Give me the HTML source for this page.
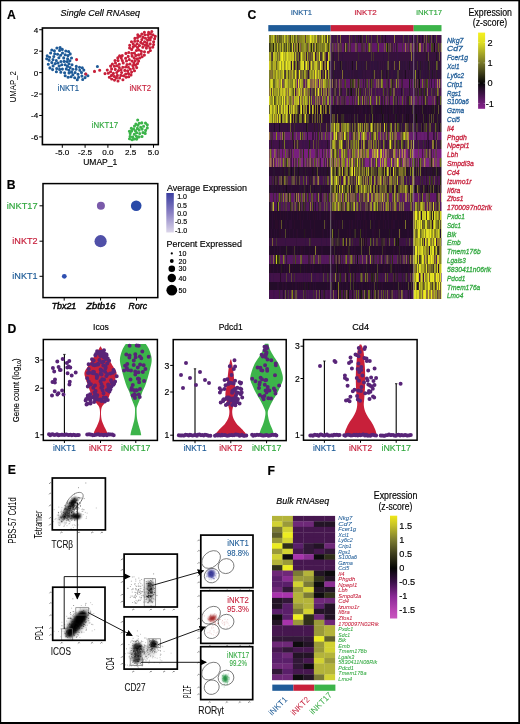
<!DOCTYPE html>
<html><head><meta charset="utf-8"><style>
html,body{margin:0;padding:0;background:#fff;width:520px;height:724px;overflow:hidden}
svg{display:block;will-change:transform}
text{font-family:"Liberation Sans", sans-serif}
</style></head><body>
<svg width="520" height="724" viewBox="0 0 520 724">
<rect x="0" y="0" width="520" height="724" fill="#000"/>
<rect x="1.2" y="1.3" width="517.1" height="720.7" fill="#fff"/>
<text x="7.00" y="18.80" font-size="12.2" text-anchor="start" fill="#000" font-weight="bold" stroke="#000" stroke-width="0.16">A</text>
<text x="60.60" y="15.80" font-size="9.2" text-anchor="start" fill="#000" font-style="italic" textLength="79.40" lengthAdjust="spacingAndGlyphs" stroke="#000" stroke-width="0.16">Single Cell RNAseq</text>
<rect x="42.4" y="28" width="115.9" height="116.6" fill="none" stroke="#000" stroke-width="1.6"/>
<line x1="39.2" y1="29.72" x2="42.4" y2="29.72" stroke="#000" stroke-width="1"/>
<text x="38.20" y="32.62" font-size="8.1" text-anchor="end" fill="#000" stroke="#000" stroke-width="0.16">4</text>
<line x1="39.2" y1="51.16" x2="42.4" y2="51.16" stroke="#000" stroke-width="1"/>
<text x="38.20" y="54.06" font-size="8.1" text-anchor="end" fill="#000" stroke="#000" stroke-width="0.16">2</text>
<line x1="39.2" y1="72.60" x2="42.4" y2="72.60" stroke="#000" stroke-width="1"/>
<text x="38.20" y="75.50" font-size="8.1" text-anchor="end" fill="#000" stroke="#000" stroke-width="0.16">0</text>
<line x1="39.2" y1="94.04" x2="42.4" y2="94.04" stroke="#000" stroke-width="1"/>
<text x="38.20" y="96.94" font-size="8.1" text-anchor="end" fill="#000" stroke="#000" stroke-width="0.16">-2</text>
<line x1="39.2" y1="115.48" x2="42.4" y2="115.48" stroke="#000" stroke-width="1"/>
<text x="38.20" y="118.38" font-size="8.1" text-anchor="end" fill="#000" stroke="#000" stroke-width="0.16">-4</text>
<line x1="39.2" y1="136.92" x2="42.4" y2="136.92" stroke="#000" stroke-width="1"/>
<text x="38.20" y="139.82" font-size="8.1" text-anchor="end" fill="#000" stroke="#000" stroke-width="0.16">-6</text>
<line x1="62.30" y1="144.6" x2="62.30" y2="147.8" stroke="#000" stroke-width="1"/>
<text x="62.30" y="155.40" font-size="8.1" text-anchor="middle" fill="#000" stroke="#000" stroke-width="0.16">-5.0</text>
<line x1="85.10" y1="144.6" x2="85.10" y2="147.8" stroke="#000" stroke-width="1"/>
<text x="85.10" y="155.40" font-size="8.1" text-anchor="middle" fill="#000" stroke="#000" stroke-width="0.16">-2.5</text>
<line x1="107.90" y1="144.6" x2="107.90" y2="147.8" stroke="#000" stroke-width="1"/>
<text x="107.90" y="155.40" font-size="8.1" text-anchor="middle" fill="#000" stroke="#000" stroke-width="0.16">0.0</text>
<line x1="130.70" y1="144.6" x2="130.70" y2="147.8" stroke="#000" stroke-width="1"/>
<text x="130.70" y="155.40" font-size="8.1" text-anchor="middle" fill="#000" stroke="#000" stroke-width="0.16">2.5</text>
<line x1="153.50" y1="144.6" x2="153.50" y2="147.8" stroke="#000" stroke-width="1"/>
<text x="153.50" y="155.40" font-size="8.1" text-anchor="middle" fill="#000" stroke="#000" stroke-width="0.16">5.0</text>
<text x="83.20" y="165.00" font-size="9.0" text-anchor="start" fill="#000" textLength="34.10" lengthAdjust="spacingAndGlyphs" stroke="#000" stroke-width="0.16">UMAP_1</text>
<text x="0" y="0" font-size="9" transform="translate(16.4,102.3) rotate(-90)" textLength="31" lengthAdjust="spacingAndGlyphs" fill="#000">UMAP_2</text>
<text x="57.70" y="90.80" font-size="8.6" text-anchor="start" fill="#1c5a96" textLength="21.30" lengthAdjust="spacingAndGlyphs" stroke="#1c5a96" stroke-width="0.16">iNKT1</text>
<text x="129.60" y="90.80" font-size="8.6" text-anchor="start" fill="#c61e3a" textLength="21.40" lengthAdjust="spacingAndGlyphs" stroke="#c61e3a" stroke-width="0.16">iNKT2</text>
<text x="91.80" y="128.10" font-size="8.6" text-anchor="start" fill="#30a83e" textLength="26.20" lengthAdjust="spacingAndGlyphs" stroke="#30a83e" stroke-width="0.16">iNKT17</text>
<path d="M59.6 50.4h0M48.3 64.3h0M49.1 60.3h0M50.6 53.0h0M53.1 65.9h0M61.8 64.7h0M59.1 66.1h0M51.8 62.6h0M75.1 72.5h0M76.3 66.4h0M66.3 68.9h0M62.4 69.1h0M65.8 51.0h0M65.2 64.8h0M81.9 76.1h0M63.7 57.9h0M72.8 69.3h0M54.4 50.8h0M49.6 57.3h0M83.8 70.1h0M69.0 73.0h0M55.2 63.6h0M57.6 54.3h0M74.7 77.8h0M85.7 74.0h0M60.9 61.5h0M68.9 63.8h0M70.2 53.9h0M53.8 56.5h0M58.0 63.0h0M58.9 57.8h0M78.0 74.2h0M70.1 67.6h0M79.5 67.2h0M56.4 71.8h0M76.1 69.3h0M65.2 54.7h0M71.5 58.0h0M56.7 68.6h0M62.5 53.0h0M81.5 72.6h0M78.6 77.3h0M56.3 60.5h0M56.9 48.0h0M72.9 74.7h0M62.3 49.4h0M72.0 64.8h0M60.8 72.2h0M71.1 76.8h0M68.1 77.2h0M69.9 60.7h0M64.6 72.8h0M49.9 67.9h0M67.6 58.7h0M79.8 70.2h0M64.1 61.4h0M47.2 55.8h0M82.7 79.5h0M52.6 69.6h0M85.1 77.6h0M53.0 59.6h0M60.6 55.2h0M65.2 75.8h0M67.0 61.5h0M59.6 69.4h0M68.0 55.6h0M69.0 70.2h0M71.6 72.1h0M54.7 53.7h0M46.7 58.8h0M68.6 51.5h0M51.8 50.0h0M77.3 79.8h0M60.1 47.6h0M87.9 75.8h0M67.5 66.3h0M82.3 67.7h0M97.4 66.5h0" stroke="#1f5b98" stroke-width="3.1" stroke-linecap="round" fill="none"/>
<path d="M133.1 47.1h0M134.9 38.4h0M149.9 47.9h0M122.9 79.7h0M122.3 60.5h0M140.7 42.4h0M134.2 58.0h0M119.3 67.5h0M124.8 70.4h0M133.2 44.0h0M144.4 32.2h0M137.6 37.5h0M121.6 72.5h0M137.1 58.7h0M111.5 75.4h0M148.3 52.2h0M137.7 40.8h0M129.9 64.0h0M137.5 47.6h0M139.0 50.0h0M105.0 73.6h0M145.5 38.2h0M147.9 34.8h0M148.6 32.2h0M111.6 68.9h0M118.5 70.6h0M118.1 60.6h0M141.4 51.4h0M131.8 53.4h0M141.8 34.1h0M108.3 73.2h0M131.7 49.5h0M115.3 69.4h0M142.8 43.9h0M132.0 61.0h0M150.2 43.9h0M133.3 68.3h0M115.5 63.0h0M127.0 64.5h0M125.6 58.3h0M144.5 51.8h0M128.2 56.4h0M139.5 45.6h0M141.8 39.6h0M125.7 74.1h0M137.5 63.6h0M114.5 80.1h0M116.5 77.9h0M122.3 55.6h0M114.3 66.3h0M146.4 48.1h0M126.1 77.2h0M142.1 56.7h0M117.4 75.4h0M138.5 54.9h0M134.4 53.1h0M122.8 67.3h0M147.6 40.3h0M144.9 34.8h0M128.4 67.3h0M110.6 71.8h0M120.8 75.4h0M125.7 67.0h0M128.5 73.6h0M150.2 39.9h0M151.3 37.3h0M144.4 55.1h0M146.9 43.1h0M133.9 63.1h0M130.3 69.2h0M137.8 34.7h0M123.2 62.9h0M142.8 47.3h0M125.9 53.4h0M117.8 57.9h0M128.8 52.5h0M135.2 60.7h0M129.3 59.6h0M153.6 41.7h0M127.7 70.9h0M112.4 64.0h0M136.4 50.5h0M132.1 56.1h0M119.3 64.2h0M154.6 38.8h0M129.7 45.2h0M109.3 77.2h0M116.7 72.5h0M153.0 34.7h0M134.5 70.7h0M132.8 65.6h0M152.8 47.1h0M119.6 78.0h0M126.5 61.0h0M137.1 43.7h0M113.4 73.4h0M111.7 79.0h0M114.3 76.4h0M118.0 81.0h0M136.7 67.6h0M144.6 41.8h0M147.9 45.7h0M107.3 70.1h0M134.7 41.3h0M131.6 72.0h0M148.6 37.6h0M123.5 75.8h0M138.6 61.1h0M131.0 74.9h0M121.3 58.1h0M141.1 54.0h0M155.3 36.3h0M117.0 65.7h0M140.0 36.2h0M143.0 37.2h0M121.1 69.8h0M129.6 48.0h0M115.0 60.5h0M151.8 31.5h0M150.5 34.0h0M153.6 44.5h0M150.4 50.5h0M135.5 65.2h0M139.8 58.0h0M131.5 41.7h0M145.2 45.2h0M119.6 55.9h0M135.3 45.7h0M135.8 55.4h0M110.6 66.1h0M128.7 76.7h0" stroke="#c8203a" stroke-width="3.1" stroke-linecap="round" fill="none"/>
<path d="M130.1 136.4h0M133.6 129.0h0M139.1 130.1h0M139.7 133.5h0M143.6 126.3h0M134.3 134.3h0M141.8 122.9h0M142.1 129.1h0M136.4 136.2h0M137.9 125.2h0M134.5 126.1h0M135.5 130.9h0M130.2 133.6h0M140.7 127.2h0M137.4 128.4h0M142.0 136.5h0M145.6 130.4h0M143.0 132.6h0M132.7 137.0h0M145.5 123.1h0M136.7 139.1h0M138.9 136.9h0M132.1 139.7h0M147.3 127.9h0M136.7 132.8h0M131.7 131.1h0M147.3 124.7h0M134.3 139.0h0M145.2 133.4h0M131.3 128.2h0M139.2 123.2h0M135.9 124.1h0M129.5 138.7h0M129.4 131.3h0M137.7 120.0h0" stroke="#3cb44a" stroke-width="3.1" stroke-linecap="round" fill="none"/>
<path d="M76.6 59.6h0M85.8 74.0h0M94.5 71.4h0M99.7 70.2h0" stroke="#c8203a" stroke-width="3.1" stroke-linecap="round" fill="none"/>
<text x="6.80" y="189.00" font-size="12.2" text-anchor="start" fill="#000" font-weight="bold" stroke="#000" stroke-width="0.16">B</text>
<rect x="43" y="183.6" width="114.8" height="114" fill="none" stroke="#000" stroke-width="1.5"/>
<line x1="39.5" y1="205.8" x2="43" y2="205.8" stroke="#000" stroke-width="1"/>
<text x="37.60" y="208.90" font-size="8.8" text-anchor="end" fill="#30a83e" textLength="30.80" lengthAdjust="spacingAndGlyphs" stroke="#30a83e" stroke-width="0.16">iNKT17</text>
<line x1="39.5" y1="241.2" x2="43" y2="241.2" stroke="#000" stroke-width="1"/>
<text x="37.60" y="244.30" font-size="8.8" text-anchor="end" fill="#c61e3a" textLength="25.30" lengthAdjust="spacingAndGlyphs" stroke="#c61e3a" stroke-width="0.16">iNKT2</text>
<line x1="39.5" y1="276.3" x2="43" y2="276.3" stroke="#000" stroke-width="1"/>
<text x="37.60" y="279.40" font-size="8.8" text-anchor="end" fill="#1c5a96" textLength="25.30" lengthAdjust="spacingAndGlyphs" stroke="#1c5a96" stroke-width="0.16">iNKT1</text>
<line x1="64.2" y1="297.6" x2="64.2" y2="300.6" stroke="#000" stroke-width="1"/>
<text x="51.70" y="309.30" font-size="9.2" text-anchor="start" fill="#000" font-style="italic" textLength="24.60" lengthAdjust="spacingAndGlyphs" stroke="#000" stroke-width="0.4">Tbx21</text>
<line x1="100.6" y1="297.6" x2="100.6" y2="300.6" stroke="#000" stroke-width="1"/>
<text x="86.20" y="309.30" font-size="9.2" text-anchor="start" fill="#000" font-style="italic" textLength="29.20" lengthAdjust="spacingAndGlyphs" stroke="#000" stroke-width="0.4">Zbtb16</text>
<line x1="136.5" y1="297.6" x2="136.5" y2="300.6" stroke="#000" stroke-width="1"/>
<text x="128.60" y="309.30" font-size="9.2" text-anchor="start" fill="#000" font-style="italic" textLength="18.40" lengthAdjust="spacingAndGlyphs" stroke="#000" stroke-width="0.4">Rorc</text>
<circle cx="64.3" cy="276.3" r="2.4" fill="#2f4fb0"/>
<circle cx="100.6" cy="241.2" r="6.1" fill="#5050a8"/>
<circle cx="100.9" cy="205.8" r="4.0" fill="#7a5aaa"/>
<circle cx="136.2" cy="205.8" r="5.3" fill="#2a4aa8"/>
<text x="167.00" y="190.60" font-size="9.0" text-anchor="start" fill="#000" textLength="80.00" lengthAdjust="spacingAndGlyphs" stroke="#000" stroke-width="0.16">Average Expression</text>
<defs><linearGradient id="gB" x1="0" y1="0" x2="0" y2="1"><stop offset="0" stop-color="#3a3ea0"/><stop offset="0.5" stop-color="#8a80c4"/><stop offset="1" stop-color="#dcd6ea"/></linearGradient></defs>
<rect x="166.3" y="193" width="7.5" height="39.5" fill="url(#gB)"/>
<text x="177.20" y="199.30" font-size="7.0" text-anchor="start" fill="#000" stroke="#000" stroke-width="0.16">1.0</text>
<text x="177.20" y="207.50" font-size="7.0" text-anchor="start" fill="#000" stroke="#000" stroke-width="0.16">0.5</text>
<text x="177.20" y="215.70" font-size="7.0" text-anchor="start" fill="#000" stroke="#000" stroke-width="0.16">0.0</text>
<text x="175.00" y="224.10" font-size="7.0" text-anchor="start" fill="#000" stroke="#000" stroke-width="0.16">-0.5</text>
<text x="175.00" y="232.50" font-size="7.0" text-anchor="start" fill="#000" stroke="#000" stroke-width="0.16">-1.0</text>
<text x="166.60" y="246.90" font-size="9.0" text-anchor="start" fill="#000" textLength="75.40" lengthAdjust="spacingAndGlyphs" stroke="#000" stroke-width="0.16">Percent Expressed</text>
<circle cx="171.8" cy="253.4" r="1.1" fill="#000"/>
<text x="178.60" y="255.90" font-size="7.0" text-anchor="start" fill="#000" stroke="#000" stroke-width="0.16">10</text>
<circle cx="171.8" cy="261.0" r="1.9" fill="#000"/>
<text x="178.60" y="263.50" font-size="7.0" text-anchor="start" fill="#000" stroke="#000" stroke-width="0.16">20</text>
<circle cx="171.8" cy="268.8" r="3.3" fill="#000"/>
<text x="178.60" y="271.30" font-size="7.0" text-anchor="start" fill="#000" stroke="#000" stroke-width="0.16">30</text>
<circle cx="171.8" cy="278.0" r="4.2" fill="#000"/>
<text x="178.60" y="280.50" font-size="7.0" text-anchor="start" fill="#000" stroke="#000" stroke-width="0.16">40</text>
<circle cx="171.8" cy="290.2" r="5.4" fill="#000"/>
<text x="178.60" y="292.70" font-size="7.0" text-anchor="start" fill="#000" stroke="#000" stroke-width="0.16">50</text>
<text x="247.60" y="18.70" font-size="12.2" text-anchor="start" fill="#000" font-weight="bold" stroke="#000" stroke-width="0.16">C</text>
<rect x="268.3" y="25.1" width="62.40" height="6.2" fill="#1f5b98"/>
<rect x="330.7" y="25.1" width="83.00" height="6.2" fill="#c8203a"/>
<rect x="413.7" y="25.1" width="27.80" height="6.2" fill="#3cb44a"/>
<text x="291.00" y="14.90" font-size="8.0" text-anchor="start" fill="#1c5a96" textLength="21.10" lengthAdjust="spacingAndGlyphs" stroke="#1c5a96" stroke-width="0.16">iNKT1</text>
<text x="354.60" y="14.90" font-size="8.0" text-anchor="start" fill="#c61e3a" textLength="22.10" lengthAdjust="spacingAndGlyphs" stroke="#c61e3a" stroke-width="0.16">iNKT2</text>
<text x="416.20" y="14.90" font-size="8.0" text-anchor="start" fill="#30a83e" textLength="25.90" lengthAdjust="spacingAndGlyphs" stroke="#30a83e" stroke-width="0.16">iNKT17</text>
<g transform="translate(269,34.6) scale(1,8.8233)" shape-rendering="crispEdges"><path fill="#7e7e24" d="M0 0h1v1h-1zM9 0h1v1h-1zM10 1h1v1h-1zM3 3h1v1h-1zM23 6h1v1h-1zM31 9h1v1h-1zM101 10h1v1h-1zM84 12h1v1h-1zM18 14h1v1h-1zM62 14h1v1h-1zM151 14h1v1h-1zM87 15h1v1h-1zM68 16h1v1h-1zM97 17h1v1h-1zM95 18h1v1h-1zM153 18h1v1h-1zM63 19h1v1h-1zM167 21h1v1h-1zM14 25h1v1h-1zM155 28h1v1h-1z"/><path fill="#6c6c24" d="M1 0h1v1h-1zM6 1h1v1h-1zM19 1h1v1h-1zM58 1h1v1h-1zM8 2h1v1h-1zM40 6h1v1h-1zM21 7h1v1h-1zM124 7h1v1h-1zM22 9h1v1h-1zM77 10h1v1h-1zM83 10h1v1h-1zM121 10h1v1h-1zM56 11h1v1h-1zM82 12h1v1h-1zM84 13h1v1h-1zM75 17h1v1h-1zM93 17h1v1h-1zM158 21h1v1h-1zM125 23h1v1h-1z"/><path fill="#a8a824" d="M2 0h1v1h-1zM40 0h1v1h-1zM43 0h1v1h-1zM40 1h1v1h-1zM43 1h1v1h-1zM9 3h1v1h-1zM31 3h1v1h-1zM36 3h1v1h-1zM4 4h1v1h-1zM41 4h1v1h-1zM9 5h1v1h-1zM55 5h1v1h-1zM13 6h1v1h-1zM16 6h1v1h-1zM4 8h1v1h-1zM14 9h1v1h-1zM76 11h1v1h-1zM121 11h1v1h-1zM65 12h1v1h-1zM89 12h1v1h-1zM66 13h1v1h-1zM75 13h1v1h-1zM115 14h1v1h-1zM87 16h1v1h-1zM66 19h1v1h-1zM146 19h1v1h-1zM153 19h1v1h-1zM151 20h1v1h-1zM151 21h1v1h-1zM154 22h1v1h-1zM168 22h1v1h-1zM172 22h1v1h-1zM155 24h1v1h-1zM162 24h1v1h-1zM153 27h1v1h-1z"/><path fill="#96962a" d="M3 0h1v1h-1zM16 0h1v1h-1zM52 0h1v1h-1zM43 4h1v1h-1zM6 5h1v1h-1zM112 5h1v1h-1zM6 6h1v1h-1zM58 7h1v1h-1zM13 9h1v1h-1zM79 10h1v1h-1zM95 10h1v1h-1zM122 10h1v1h-1zM89 11h1v1h-1zM72 13h1v1h-1zM83 13h1v1h-1zM73 14h1v1h-1zM90 15h1v1h-1zM63 16h1v1h-1zM65 16h1v1h-1zM76 16h1v1h-1zM125 17h1v1h-1zM76 18h2v1h-2zM108 18h1v1h-1zM102 19h1v1h-1zM147 19h1v1h-1zM171 23h1v1h-1zM157 27h1v1h-1z"/><path fill="#cccc24" d="M4 0h1v1h-1zM15 0h1v1h-1zM47 0h1v1h-1zM53 0h1v1h-1zM24 2h1v1h-1zM45 2h1v1h-1zM54 2h1v1h-1zM19 3h1v1h-1zM3 5h1v1h-1zM16 5h1v1h-1zM24 5h1v1h-1zM39 5h1v1h-1zM35 6h1v1h-1zM2 8h1v1h-1zM12 8h1v1h-1zM4 9h1v1h-1zM8 9h1v1h-1zM112 13h1v1h-1zM88 14h1v1h-1zM118 15h1v1h-1zM153 20h1v1h-1zM163 20h1v1h-1zM171 20h1v1h-1zM148 21h1v1h-1zM147 25h1v1h-1zM156 28h1v1h-1z"/><path fill="#96961e" d="M5 0h1v1h-1zM34 0h1v1h-1zM19 7h1v1h-1zM11 9h1v1h-1zM68 10h1v1h-1zM141 13h1v1h-1zM117 19h1v1h-1zM167 20h1v1h-1z"/><path fill="#54541e" d="M6 0h1v1h-1zM10 0h1v1h-1zM25 0h1v1h-1zM97 0h1v1h-1zM15 1h1v1h-1zM19 4h1v1h-1zM98 5h1v1h-1zM158 5h1v1h-1zM114 6h1v1h-1zM171 7h1v1h-1zM27 9h1v1h-1zM157 10h1v1h-1zM133 11h1v1h-1zM122 12h1v1h-1zM67 13h1v1h-1zM87 14h1v1h-1zM91 14h1v1h-1zM134 15h1v1h-1zM34 16h1v1h-1zM71 17h1v1h-1zM121 17h1v1h-1zM130 17h1v1h-1zM34 18h1v1h-1zM42 18h1v1h-1zM60 18h1v1h-1zM80 19h1v1h-1zM107 19h1v1h-1zM148 19h1v1h-1zM169 21h1v1h-1zM10 25h1v1h-1zM148 25h1v1h-1zM158 25h1v1h-1z"/><path fill="#909024" d="M7 0h1v1h-1zM46 0h1v1h-1zM60 2h1v1h-1zM3 7h1v1h-1zM17 7h1v1h-1zM32 7h1v1h-1zM3 8h1v1h-1zM65 13h1v1h-1zM66 17h1v1h-1zM105 17h1v1h-1zM65 19h1v1h-1zM78 19h1v1h-1zM156 22h1v1h-1zM151 23h1v1h-1zM161 23h1v1h-1zM154 24h1v1h-1z"/><path fill="#6c5436" d="M8 0h1v1h-1zM44 12h1v1h-1zM101 12h1v1h-1zM106 27h1v1h-1zM143 27h1v1h-1z"/><path fill="#66661e" d="M11 0h1v1h-1zM56 0h1v1h-1zM109 1h1v1h-1zM128 10h1v1h-1zM33 11h1v1h-1zM106 12h1v1h-1zM143 14h1v1h-1zM88 15h1v1h-1zM101 16h1v1h-1zM119 18h1v1h-1zM100 29h1v1h-1z"/><path fill="#666624" d="M12 0h1v1h-1zM5 5h1v1h-1zM6 7h1v1h-1zM0 8h1v1h-1zM126 12h1v1h-1zM16 13h1v1h-1zM76 13h1v1h-1zM64 19h1v1h-1zM141 19h1v1h-1zM151 22h1v1h-1z"/><path fill="#9c9c2a" d="M13 0h1v1h-1zM25 1h1v1h-1zM35 1h1v1h-1zM9 2h1v1h-1zM12 3h1v1h-1zM56 5h1v1h-1zM22 6h1v1h-1zM59 7h1v1h-1zM18 9h1v1h-1zM76 10h1v1h-1zM119 15h1v1h-1zM143 17h1v1h-1zM172 18h1v1h-1zM79 19h1v1h-1zM163 22h1v1h-1zM145 25h1v1h-1z"/><path fill="#78782a" d="M14 0h1v1h-1zM17 0h1v1h-1zM26 0h1v1h-1zM51 1h1v1h-1zM21 8h1v1h-1zM104 19h1v1h-1z"/><path fill="#aeae24" d="M18 0h1v1h-1zM46 1h1v1h-1zM1 2h1v1h-1zM16 3h1v1h-1zM10 4h1v1h-1zM13 4h1v1h-1zM17 4h2v1h-2zM51 4h1v1h-1zM29 6h1v1h-1zM6 9h1v1h-1zM69 10h1v1h-1zM89 10h1v1h-1zM106 11h1v1h-1zM111 14h1v1h-1zM125 18h1v1h-1zM166 21h1v1h-1zM172 21h1v1h-1zM153 22h1v1h-1zM167 22h1v1h-1zM156 24h1v1h-1zM154 26h1v1h-1zM165 26h1v1h-1zM164 28h1v1h-1zM165 29h1v1h-1z"/><path fill="#84841e" d="M19 0h1v1h-1zM74 10h1v1h-1zM84 11h1v1h-1zM154 19h1v1h-1zM171 25h1v1h-1z"/><path fill="#786636" d="M20 0h1v1h-1zM99 12h1v1h-1z"/><path fill="#424218" d="M21 0h1v1h-1zM49 11h1v1h-1zM145 14h1v1h-1zM77 17h1v1h-1zM61 18h1v1h-1zM142 18h1v1h-1z"/><path fill="#b4b424" d="M22 0h1v1h-1zM24 0h1v1h-1zM55 0h1v1h-1zM14 2h1v1h-1zM4 3h1v1h-1zM21 3h1v1h-1zM45 3h1v1h-1zM23 4h1v1h-1zM47 4h1v1h-1zM18 5h1v1h-1zM18 6h1v1h-1zM32 6h1v1h-1zM27 7h2v1h-2zM34 7h1v1h-1zM13 8h1v1h-1zM64 12h1v1h-1zM144 12h1v1h-1zM62 13h1v1h-1zM73 13h1v1h-1zM89 13h1v1h-1zM105 13h1v1h-1zM111 13h1v1h-1zM107 14h1v1h-1zM99 15h1v1h-1zM90 16h1v1h-1zM128 16h1v1h-1zM92 17h1v1h-1zM136 17h1v1h-1zM99 18h1v1h-1zM105 19h1v1h-1zM170 21h1v1h-1zM150 24h1v1h-1zM161 25h1v1h-1zM145 27h1v1h-1zM158 27h1v1h-1zM152 28h1v1h-1z"/><path fill="#787824" d="M23 0h1v1h-1zM30 0h1v1h-1zM27 1h1v1h-1zM53 2h1v1h-1zM2 3h1v1h-1zM0 5h1v1h-1zM26 5h1v1h-1zM153 5h1v1h-1zM4 6h1v1h-1zM12 7h1v1h-1zM55 7h1v1h-1zM156 7h1v1h-1zM10 8h1v1h-1zM30 9h1v1h-1zM32 9h1v1h-1zM64 10h1v1h-1zM64 11h1v1h-1zM73 11h1v1h-1zM108 11h1v1h-1zM15 12h1v1h-1zM75 14h1v1h-1zM109 15h3v1h-3zM15 16h1v1h-1zM134 16h1v1h-1zM68 17h1v1h-1zM68 18h1v1h-1zM70 19h1v1h-1zM118 19h1v1h-1zM63 22h1v1h-1zM149 26h1v1h-1zM96 27h1v1h-1z"/><path fill="#a2a22a" d="M27 0h1v1h-1zM11 1h1v1h-1zM32 5h1v1h-1zM38 5h1v1h-1zM52 6h1v1h-1zM89 7h1v1h-1zM67 10h1v1h-1zM90 11h1v1h-1zM70 15h1v1h-1zM108 19h1v1h-1z"/><path fill="#606024" d="M28 0h1v1h-1zM49 0h1v1h-1zM7 3h1v1h-1zM167 3h1v1h-1zM4 5h1v1h-1zM54 7h1v1h-1zM103 9h1v1h-1zM117 10h1v1h-1zM77 13h1v1h-1zM65 15h1v1h-1zM69 15h1v1h-1zM43 19h1v1h-1zM82 19h1v1h-1zM155 21h1v1h-1zM147 22h1v1h-1zM101 23h1v1h-1zM32 25h1v1h-1zM162 26h1v1h-1z"/><path fill="#786036" d="M29 0h1v1h-1zM48 0h1v1h-1zM61 0h1v1h-1zM3 23h1v1h-1zM160 27h1v1h-1z"/><path fill="#848424" d="M31 0h1v1h-1zM33 1h1v1h-1zM31 2h1v1h-1zM27 3h1v1h-1zM6 4h1v1h-1zM60 5h1v1h-1zM9 7h1v1h-1zM14 7h1v1h-1zM35 7h1v1h-1zM46 7h1v1h-1zM62 10h1v1h-1zM85 12h1v1h-1zM132 12h1v1h-1zM1 13h1v1h-1zM95 13h1v1h-1zM78 17h1v1h-1zM14 18h1v1h-1zM161 20h1v1h-1z"/><path fill="#8a841e" d="M32 0h1v1h-1z"/><path fill="#90902a" d="M33 0h1v1h-1zM9 4h1v1h-1zM50 4h1v1h-1zM127 5h1v1h-1zM8 6h1v1h-1zM2 7h1v1h-1zM93 7h1v1h-1zM107 7h1v1h-1zM103 10h1v1h-1zM31 11h1v1h-1zM123 11h1v1h-1zM120 12h1v1h-1zM67 14h1v1h-1zM102 18h1v1h-1zM106 18h1v1h-1zM128 18h1v1h-1zM141 18h1v1h-1zM170 19h1v1h-1zM152 22h1v1h-1z"/><path fill="#9c9c24" d="M35 0h1v1h-1zM0 2h1v1h-1zM8 3h1v1h-1zM39 3h1v1h-1zM20 4h1v1h-1zM1 7h1v1h-1zM7 7h1v1h-1zM6 8h1v1h-1zM95 11h1v1h-1zM134 11h1v1h-1zM139 12h1v1h-1zM125 13h1v1h-1zM129 14h1v1h-1zM97 15h1v1h-1zM66 16h1v1h-1zM105 16h1v1h-1zM170 22h1v1h-1zM159 24h1v1h-1zM101 25h1v1h-1zM166 26h1v1h-1zM167 29h1v1h-1z"/><path fill="#5a4236" d="M36 0h1v1h-1zM2 6h1v1h-1zM162 6h1v1h-1zM69 12h1v1h-1zM91 27h1v1h-1z"/><path fill="#a29c1e" d="M37 0h1v1h-1zM5 6h1v1h-1zM154 23h1v1h-1z"/><path fill="#909018" d="M38 0h1v1h-1zM99 13h1v1h-1z"/><path fill="#969624" d="M39 0h1v1h-1zM45 0h1v1h-1zM30 1h1v1h-1zM36 1h1v1h-1zM57 1h1v1h-1zM36 4h1v1h-1zM11 5h1v1h-1zM33 5h1v1h-1zM7 6h1v1h-1zM22 7h1v1h-1zM42 7h1v1h-1zM101 7h1v1h-1zM34 8h1v1h-1zM63 12h1v1h-1zM71 12h1v1h-1zM169 20h1v1h-1zM152 25h1v1h-1z"/><path fill="#eaea1e" d="M41 0h1v1h-1zM11 3h1v1h-1zM17 3h1v1h-1zM37 3h1v1h-1zM46 4h1v1h-1zM147 20h1v1h-1zM158 20h1v1h-1zM161 22h1v1h-1zM147 24h1v1h-1zM153 25h1v1h-1zM159 28h1v1h-1zM162 29h1v1h-1z"/><path fill="#c6c624" d="M42 0h1v1h-1zM44 0h1v1h-1zM11 2h1v1h-1zM15 2h1v1h-1zM23 2h1v1h-1zM49 4h1v1h-1zM25 5h1v1h-1zM50 5h1v1h-1zM54 5h1v1h-1zM1 6h1v1h-1zM25 6h1v1h-1zM17 8h1v1h-1zM43 8h1v1h-1zM135 11h1v1h-1zM83 14h1v1h-1zM75 16h1v1h-1zM70 17h1v1h-1zM154 20h1v1h-1zM160 22h1v1h-1zM7 25h1v1h-1z"/><path fill="#8a7236" d="M50 0h1v1h-1zM0 6h1v1h-1zM158 6h1v1h-1zM164 12h1v1h-1zM144 29h1v1h-1zM150 29h1v1h-1zM169 29h1v1h-1z"/><path fill="#6c6c1e" d="M51 0h1v1h-1zM54 0h1v1h-1zM60 0h1v1h-1zM172 1h1v1h-1zM73 12h1v1h-1zM10 18h1v1h-1zM66 18h1v1h-1zM156 26h1v1h-1z"/><path fill="#4e3c36" d="M57 0h1v1h-1zM62 12h1v1h-1zM136 12h1v1h-1zM127 16h1v1h-1zM40 23h1v1h-1zM81 23h1v1h-1z"/><path fill="#dede24" d="M58 0h1v1h-1zM18 2h1v1h-1zM32 2h1v1h-1zM26 4h1v1h-1zM4 7h1v1h-1zM15 8h1v1h-1zM32 8h1v1h-1zM67 11h1v1h-1zM62 16h1v1h-1zM67 16h1v1h-1zM89 16h1v1h-1zM73 17h1v1h-1zM165 20h1v1h-1zM150 22h1v1h-1zM155 22h1v1h-1zM157 22h1v1h-1zM159 22h1v1h-1zM152 23h1v1h-1zM159 23h1v1h-1zM163 24h1v1h-1zM172 26h1v1h-1zM161 27h1v1h-1zM146 28h1v1h-1zM168 28h1v1h-1z"/><path fill="#4e4e1e" d="M59 0h1v1h-1zM22 1h1v1h-1zM162 1h1v1h-1zM76 5h1v1h-1zM24 6h1v1h-1zM61 7h1v1h-1zM99 7h1v1h-1zM129 10h1v1h-1zM81 14h1v1h-1zM106 14h1v1h-1zM132 14h1v1h-1zM80 15h1v1h-1zM129 17h1v1h-1zM12 18h1v1h-1zM31 18h1v1h-1zM38 18h1v1h-1zM45 25h1v1h-1zM151 25h1v1h-1z"/><path fill="#3c1248" d="M62 0h2v1h-2zM66 0h1v1h-1zM70 0h1v1h-1zM72 0h1v1h-1zM74 0h1v1h-1zM78 0h1v1h-1zM84 0h2v1h-2zM87 0h1v1h-1zM90 0h1v1h-1zM94 0h1v1h-1zM96 0h1v1h-1zM101 0h1v1h-1zM103 0h2v1h-2zM112 0h1v1h-1zM118 0h1v1h-1zM120 0h1v1h-1zM124 0h1v1h-1zM126 0h1v1h-1zM132 0h1v1h-1zM136 0h1v1h-1zM138 0h1v1h-1zM141 0h1v1h-1zM145 0h2v1h-2zM151 0h1v1h-1zM161 0h1v1h-1zM165 0h2v1h-2zM4 12h1v1h-1zM9 12h1v1h-1zM12 12h1v1h-1zM16 12h4v1h-4zM21 12h1v1h-1zM33 12h2v1h-2zM36 12h3v1h-3zM41 12h1v1h-1zM43 12h1v1h-1zM52 12h2v1h-2zM56 12h1v1h-1zM59 12h1v1h-1zM74 12h1v1h-1zM80 12h1v1h-1zM91 12h1v1h-1zM108 12h1v1h-1zM113 12h1v1h-1zM116 12h1v1h-1zM119 12h1v1h-1zM124 12h1v1h-1zM135 12h1v1h-1zM145 12h2v1h-2zM148 12h1v1h-1zM150 12h1v1h-1zM153 12h1v1h-1zM155 12h1v1h-1zM158 12h1v1h-1zM160 12h1v1h-1zM168 12h1v1h-1zM135 23h1v1h-1zM142 23h1v1h-1zM1 27h1v1h-1zM4 27h1v1h-1zM15 27h1v1h-1zM18 27h2v1h-2zM21 27h1v1h-1zM23 27h1v1h-1zM27 27h1v1h-1zM34 27h1v1h-1zM36 27h1v1h-1zM38 27h1v1h-1zM41 27h1v1h-1zM44 27h3v1h-3zM50 27h4v1h-4zM57 27h1v1h-1zM62 27h1v1h-1zM69 27h1v1h-1zM72 27h1v1h-1zM79 27h1v1h-1zM89 27h2v1h-2zM95 27h1v1h-1zM99 27h1v1h-1zM105 27h1v1h-1zM107 27h1v1h-1zM109 27h1v1h-1zM111 27h2v1h-2zM114 27h2v1h-2zM119 27h1v1h-1zM132 27h1v1h-1zM135 27h1v1h-1zM140 27h1v1h-1zM150 27h1v1h-1zM154 27h1v1h-1z"/><path fill="#421248" d="M64 0h1v1h-1zM67 0h1v1h-1zM69 0h1v1h-1zM73 0h1v1h-1zM75 0h3v1h-3zM79 0h1v1h-1zM81 0h1v1h-1zM83 0h1v1h-1zM88 0h1v1h-1zM95 0h1v1h-1zM98 0h1v1h-1zM100 0h1v1h-1zM105 0h2v1h-2zM109 0h2v1h-2zM114 0h2v1h-2zM117 0h1v1h-1zM119 0h1v1h-1zM121 0h3v1h-3zM127 0h5v1h-5zM133 0h1v1h-1zM135 0h1v1h-1zM140 0h1v1h-1zM142 0h1v1h-1zM144 0h1v1h-1zM149 0h1v1h-1zM152 0h1v1h-1zM154 0h1v1h-1zM156 0h1v1h-1zM158 0h1v1h-1zM163 0h1v1h-1zM168 0h4v1h-4zM58 6h1v1h-1zM62 6h1v1h-1zM92 6h1v1h-1zM104 6h1v1h-1zM126 6h2v1h-2zM170 6h1v1h-1zM172 6h1v1h-1zM0 12h2v1h-2zM3 12h1v1h-1zM5 12h4v1h-4zM11 12h1v1h-1zM14 12h1v1h-1zM20 12h1v1h-1zM22 12h2v1h-2zM26 12h1v1h-1zM30 12h3v1h-3zM35 12h1v1h-1zM39 12h1v1h-1zM42 12h1v1h-1zM45 12h2v1h-2zM48 12h1v1h-1zM50 12h2v1h-2zM54 12h2v1h-2zM57 12h1v1h-1zM60 12h1v1h-1zM76 12h1v1h-1zM93 12h1v1h-1zM98 12h1v1h-1zM103 12h1v1h-1zM112 12h1v1h-1zM118 12h1v1h-1zM127 12h1v1h-1zM131 12h1v1h-1zM140 12h1v1h-1zM143 12h1v1h-1zM147 12h1v1h-1zM151 12h2v1h-2zM156 12h1v1h-1zM161 12h2v1h-2zM166 12h1v1h-1zM169 12h2v1h-2zM22 14h1v1h-1zM51 14h1v1h-1zM26 16h1v1h-1zM39 16h1v1h-1zM43 16h1v1h-1zM60 16h1v1h-1zM77 16h1v1h-1zM107 16h1v1h-1zM119 16h1v1h-1zM139 16h1v1h-1zM146 16h1v1h-1zM150 16h1v1h-1zM0 27h1v1h-1zM2 27h2v1h-2zM5 27h6v1h-6zM12 27h3v1h-3zM16 27h1v1h-1zM20 27h1v1h-1zM24 27h1v1h-1zM26 27h1v1h-1zM28 27h6v1h-6zM35 27h1v1h-1zM37 27h1v1h-1zM39 27h2v1h-2zM43 27h1v1h-1zM47 27h3v1h-3zM55 27h2v1h-2zM60 27h2v1h-2zM63 27h1v1h-1zM65 27h1v1h-1zM67 27h1v1h-1zM73 27h3v1h-3zM80 27h1v1h-1zM82 27h1v1h-1zM85 27h1v1h-1zM87 27h2v1h-2zM94 27h1v1h-1zM100 27h2v1h-2zM110 27h1v1h-1zM113 27h1v1h-1zM117 27h1v1h-1zM120 27h4v1h-4zM127 27h1v1h-1zM129 27h3v1h-3zM134 27h1v1h-1zM139 27h1v1h-1zM142 27h1v1h-1zM172 27h1v1h-1zM4 29h1v1h-1zM21 29h1v1h-1zM35 29h1v1h-1zM59 29h1v1h-1zM63 29h1v1h-1zM81 29h1v1h-1zM98 29h1v1h-1zM117 29h1v1h-1zM120 29h1v1h-1zM128 29h1v1h-1zM131 29h1v1h-1zM138 29h1v1h-1zM142 29h1v1h-1z"/><path fill="#3c2430" d="M65 0h1v1h-1zM107 0h1v1h-1zM160 0h1v1h-1zM71 6h1v1h-1zM84 6h1v1h-1zM146 6h1v1h-1zM151 6h1v1h-1zM96 12h1v1h-1zM110 12h1v1h-1zM171 12h1v1h-1zM3 16h1v1h-1zM70 16h1v1h-1zM84 16h1v1h-1zM153 16h1v1h-1zM41 23h1v1h-1zM137 23h1v1h-1zM141 23h1v1h-1zM97 27h1v1h-1zM136 27h1v1h-1zM10 29h1v1h-1zM36 29h1v1h-1zM54 29h1v1h-1zM108 29h1v1h-1z"/><path fill="#604836" d="M68 0h1v1h-1zM148 0h1v1h-1zM77 12h1v1h-1zM22 27h1v1h-1zM42 27h1v1h-1z"/><path fill="#846c36" d="M71 0h1v1h-1zM66 12h1v1h-1zM92 12h1v1h-1zM109 12h1v1h-1zM109 16h2v1h-2zM112 16h1v1h-1zM144 27h1v1h-1z"/><path fill="#6c543c" d="M80 0h1v1h-1zM96 6h1v1h-1zM102 6h1v1h-1zM169 6h1v1h-1zM167 12h1v1h-1zM16 16h1v1h-1zM24 16h1v1h-1zM59 16h1v1h-1zM82 16h1v1h-1zM125 16h1v1h-1zM47 29h1v1h-1zM50 29h1v1h-1zM106 29h1v1h-1zM109 29h1v1h-1zM133 29h1v1h-1zM171 29h1v1h-1z"/><path fill="#422a30" d="M82 0h1v1h-1zM166 6h1v1h-1zM27 12h1v1h-1zM134 12h1v1h-1zM7 16h1v1h-1zM151 16h1v1h-1zM163 16h1v1h-1zM83 23h1v1h-1zM25 27h1v1h-1zM126 27h1v1h-1z"/><path fill="#3c2a30" d="M86 0h1v1h-1zM154 12h1v1h-1zM64 23h1v1h-1zM69 23h1v1h-1z"/><path fill="#30182a" d="M89 0h1v1h-1zM92 0h1v1h-1zM113 0h1v1h-1zM152 6h1v1h-1zM2 12h1v1h-1zM157 12h1v1h-1zM8 16h1v1h-1zM29 16h1v1h-1zM68 27h1v1h-1zM77 27h1v1h-1zM138 27h1v1h-1zM55 29h1v1h-1z"/><path fill="#240c24" d="M91 0h1v1h-1zM95 23h1v1h-1z"/><path fill="#4e3636" d="M93 0h1v1h-1zM45 6h1v1h-1zM51 6h1v1h-1zM118 6h1v1h-1zM47 12h1v1h-1zM111 12h1v1h-1zM123 12h1v1h-1zM137 12h1v1h-1zM6 16h1v1h-1zM61 16h1v1h-1zM93 16h1v1h-1zM85 29h1v1h-1zM116 29h1v1h-1zM122 29h1v1h-1z"/><path fill="#483036" d="M99 0h1v1h-1zM44 6h1v1h-1zM61 6h1v1h-1zM94 6h1v1h-1zM98 6h1v1h-1zM106 6h1v1h-1zM122 6h1v1h-1zM17 16h1v1h-1zM22 16h1v1h-1zM54 16h1v1h-1zM81 16h1v1h-1zM88 16h1v1h-1zM130 16h1v1h-1zM140 16h1v1h-1zM89 19h1v1h-1zM19 29h1v1h-1zM93 29h1v1h-1zM130 29h1v1h-1z"/><path fill="#543c36" d="M102 0h1v1h-1zM134 0h1v1h-1zM47 6h1v1h-1zM134 6h1v1h-1zM78 12h1v1h-1zM141 12h1v1h-1zM27 16h1v1h-1zM64 16h1v1h-1zM117 16h1v1h-1zM145 16h1v1h-1zM17 27h1v1h-1zM93 27h1v1h-1z"/><path fill="#604e36" d="M108 0h1v1h-1zM25 2h1v1h-1zM143 10h1v1h-1zM120 23h1v1h-1z"/><path fill="#483030" d="M111 0h1v1h-1zM51 2h1v1h-1zM152 10h1v1h-1zM149 12h1v1h-1zM94 23h1v1h-1zM115 23h1v1h-1zM84 27h1v1h-1zM124 27h1v1h-1z"/><path fill="#240c2a" d="M116 0h1v1h-1zM153 0h1v1h-1zM30 8h1v1h-1zM33 8h1v1h-1zM38 8h1v1h-1zM42 8h1v1h-1zM45 8h1v1h-1zM47 8h1v1h-1zM50 8h1v1h-1zM53 8h1v1h-1zM55 8h1v1h-1zM58 8h2v1h-2zM61 8h1v1h-1zM63 8h3v1h-3zM67 8h3v1h-3zM71 8h14v1h-14zM86 8h2v1h-2zM89 8h1v1h-1zM94 8h2v1h-2zM98 8h2v1h-2zM101 8h1v1h-1zM106 8h6v1h-6zM113 8h2v1h-2zM116 8h1v1h-1zM118 8h2v1h-2zM122 8h1v1h-1zM125 8h1v1h-1zM128 8h2v1h-2zM131 8h2v1h-2zM135 8h1v1h-1zM137 8h4v1h-4zM142 8h1v1h-1zM144 8h1v1h-1zM146 8h2v1h-2zM149 8h1v1h-1zM152 8h1v1h-1zM154 8h4v1h-4zM159 8h1v1h-1zM162 8h1v1h-1zM164 8h1v1h-1zM166 8h1v1h-1zM168 8h1v1h-1zM170 8h2v1h-2zM12 9h1v1h-1zM41 9h1v1h-1zM70 9h1v1h-1zM82 9h1v1h-1zM90 9h1v1h-1zM102 9h1v1h-1zM105 9h1v1h-1zM107 9h1v1h-1zM130 9h1v1h-1zM138 9h1v1h-1zM144 9h1v1h-1zM155 9h1v1h-1zM161 9h1v1h-1zM5 10h1v1h-1zM24 12h1v1h-1zM159 12h1v1h-1zM38 17h1v1h-1zM45 17h1v1h-1zM0 20h3v1h-3zM4 20h1v1h-1zM6 20h1v1h-1zM8 20h3v1h-3zM12 20h2v1h-2zM15 20h1v1h-1zM17 20h1v1h-1zM19 20h3v1h-3zM23 20h1v1h-1zM25 20h3v1h-3zM29 20h1v1h-1zM32 20h2v1h-2zM35 20h3v1h-3zM39 20h1v1h-1zM41 20h3v1h-3zM45 20h1v1h-1zM47 20h1v1h-1zM49 20h1v1h-1zM52 20h3v1h-3zM56 20h1v1h-1zM58 20h2v1h-2zM66 20h6v1h-6zM73 20h13v1h-13zM91 20h1v1h-1zM93 20h1v1h-1zM97 20h3v1h-3zM102 20h1v1h-1zM105 20h1v1h-1zM107 20h4v1h-4zM112 20h2v1h-2zM116 20h2v1h-2zM120 20h3v1h-3zM124 20h2v1h-2zM128 20h4v1h-4zM133 20h2v1h-2zM136 20h1v1h-1zM138 20h1v1h-1zM140 20h1v1h-1zM152 20h1v1h-1zM0 21h3v1h-3zM4 21h2v1h-2zM9 21h1v1h-1zM13 21h3v1h-3zM18 21h2v1h-2zM23 21h2v1h-2zM26 21h5v1h-5zM32 21h1v1h-1zM34 21h7v1h-7zM42 21h3v1h-3zM46 21h9v1h-9zM58 21h3v1h-3zM62 21h3v1h-3zM66 21h1v1h-1zM68 21h1v1h-1zM72 21h1v1h-1zM74 21h1v1h-1zM76 21h4v1h-4zM81 21h1v1h-1zM84 21h2v1h-2zM87 21h1v1h-1zM89 21h2v1h-2zM92 21h2v1h-2zM95 21h1v1h-1zM98 21h3v1h-3zM102 21h2v1h-2zM106 21h3v1h-3zM111 21h3v1h-3zM115 21h1v1h-1zM117 21h2v1h-2zM120 21h2v1h-2zM126 21h3v1h-3zM130 21h4v1h-4zM135 21h1v1h-1zM137 21h2v1h-2zM140 21h2v1h-2zM0 22h2v1h-2zM3 22h2v1h-2zM6 22h1v1h-1zM8 22h2v1h-2zM17 22h1v1h-1zM19 22h1v1h-1zM21 22h3v1h-3zM25 22h2v1h-2zM29 22h6v1h-6zM37 22h5v1h-5zM44 22h1v1h-1zM46 22h7v1h-7zM55 22h3v1h-3zM59 22h1v1h-1zM61 22h2v1h-2zM65 22h1v1h-1zM67 22h2v1h-2zM71 22h7v1h-7zM79 22h1v1h-1zM82 22h3v1h-3zM87 22h2v1h-2zM90 22h1v1h-1zM92 22h1v1h-1zM95 22h1v1h-1zM98 22h5v1h-5zM107 22h1v1h-1zM109 22h1v1h-1zM111 22h9v1h-9zM121 22h1v1h-1zM123 22h6v1h-6zM132 22h6v1h-6zM140 22h1v1h-1zM142 22h2v1h-2zM171 22h1v1h-1zM1 24h4v1h-4zM6 24h2v1h-2zM9 24h1v1h-1zM12 24h5v1h-5zM19 24h4v1h-4zM27 24h1v1h-1zM29 24h2v1h-2zM34 24h1v1h-1zM36 24h4v1h-4zM41 24h5v1h-5zM49 24h3v1h-3zM54 24h7v1h-7zM62 24h1v1h-1zM64 24h1v1h-1zM66 24h2v1h-2zM69 24h1v1h-1zM71 24h2v1h-2zM76 24h1v1h-1zM81 24h1v1h-1zM84 24h1v1h-1zM87 24h5v1h-5zM94 24h1v1h-1zM96 24h2v1h-2zM101 24h1v1h-1zM103 24h3v1h-3zM107 24h2v1h-2zM110 24h3v1h-3zM117 24h7v1h-7zM126 24h2v1h-2zM131 24h2v1h-2zM134 24h2v1h-2zM137 24h6v1h-6zM160 24h1v1h-1zM0 26h1v1h-1zM2 26h2v1h-2zM5 26h3v1h-3zM9 26h2v1h-2zM13 26h2v1h-2zM16 26h1v1h-1zM19 26h1v1h-1zM22 26h1v1h-1zM24 26h7v1h-7zM32 26h3v1h-3zM36 26h1v1h-1zM38 26h3v1h-3zM42 26h1v1h-1zM45 26h6v1h-6zM53 26h2v1h-2zM56 26h1v1h-1zM58 26h4v1h-4zM66 26h1v1h-1zM70 26h1v1h-1zM72 26h1v1h-1zM74 26h1v1h-1zM77 26h1v1h-1zM82 26h6v1h-6zM89 26h1v1h-1zM91 26h3v1h-3zM96 26h1v1h-1zM98 26h4v1h-4zM103 26h2v1h-2zM106 26h2v1h-2zM109 26h1v1h-1zM111 26h3v1h-3zM117 26h1v1h-1zM119 26h2v1h-2zM124 26h2v1h-2zM128 26h1v1h-1zM130 26h1v1h-1zM132 26h3v1h-3zM136 26h3v1h-3zM142 26h1v1h-1zM78 27h1v1h-1zM1 28h7v1h-7zM10 28h3v1h-3zM15 28h1v1h-1zM18 28h5v1h-5zM24 28h2v1h-2zM28 28h1v1h-1zM30 28h1v1h-1zM32 28h1v1h-1zM34 28h1v1h-1zM37 28h1v1h-1zM40 28h1v1h-1zM42 28h2v1h-2zM45 28h1v1h-1zM47 28h11v1h-11zM59 28h1v1h-1zM61 28h1v1h-1zM64 28h2v1h-2zM67 28h2v1h-2zM72 28h1v1h-1zM74 28h3v1h-3zM79 28h2v1h-2zM83 28h1v1h-1zM85 28h2v1h-2zM88 28h2v1h-2zM91 28h1v1h-1zM94 28h4v1h-4zM99 28h1v1h-1zM101 28h1v1h-1zM103 28h1v1h-1zM106 28h1v1h-1zM109 28h1v1h-1zM111 28h1v1h-1zM114 28h10v1h-10zM125 28h4v1h-4zM130 28h1v1h-1zM133 28h1v1h-1zM135 28h1v1h-1zM137 28h2v1h-2zM140 28h2v1h-2zM148 28h1v1h-1zM51 29h1v1h-1zM61 29h1v1h-1zM68 29h1v1h-1zM91 29h1v1h-1zM103 29h1v1h-1z"/><path fill="#907836" d="M125 0h1v1h-1zM27 6h1v1h-1zM38 6h1v1h-1zM48 6h1v1h-1zM102 12h1v1h-1zM142 12h1v1h-1zM74 16h1v1h-1zM94 16h1v1h-1zM98 16h1v1h-1zM120 16h1v1h-1zM143 16h1v1h-1zM166 27h1v1h-1zM158 29h1v1h-1zM170 29h1v1h-1z"/><path fill="#361e30" d="M137 0h1v1h-1zM64 6h1v1h-1zM67 6h1v1h-1zM78 6h1v1h-1zM116 6h1v1h-1zM154 6h1v1h-1zM13 12h1v1h-1zM14 16h1v1h-1zM41 16h1v1h-1zM168 16h1v1h-1zM40 19h1v1h-1zM76 29h1v1h-1z"/><path fill="#483636" d="M139 0h1v1h-1zM68 12h1v1h-1zM70 27h1v1h-1z"/><path fill="#241224" d="M143 0h1v1h-1zM167 2h1v1h-1zM140 3h1v1h-1zM117 4h1v1h-1zM172 10h1v1h-1zM91 23h1v1h-1z"/><path fill="#362430" d="M147 0h1v1h-1zM29 12h1v1h-1zM75 12h1v1h-1zM90 12h1v1h-1zM97 12h1v1h-1zM130 12h1v1h-1zM66 23h1v1h-1zM102 23h1v1h-1zM59 27h1v1h-1zM64 27h1v1h-1z"/><path fill="#2a122a" d="M150 0h1v1h-1zM172 0h1v1h-1zM81 6h1v1h-1zM10 12h1v1h-1zM58 12h1v1h-1zM5 16h1v1h-1zM13 16h1v1h-1zM172 16h1v1h-1zM78 23h2v1h-2zM118 23h1v1h-1zM86 27h1v1h-1zM103 27h1v1h-1zM125 27h1v1h-1zM70 29h1v1h-1zM83 29h1v1h-1zM107 29h1v1h-1zM141 29h1v1h-1z"/><path fill="#664e36" d="M155 0h1v1h-1zM167 0h1v1h-1zM86 12h1v1h-1zM76 27h1v1h-1z"/><path fill="#6c5a36" d="M157 0h1v1h-1zM170 2h1v1h-1zM80 23h1v1h-1z"/><path fill="#3c3c18" d="M159 0h1v1h-1zM47 1h1v1h-1zM77 1h1v1h-1zM163 1h1v1h-1zM157 5h1v1h-1zM103 11h1v1h-1zM118 11h1v1h-1zM172 12h1v1h-1zM64 13h1v1h-1zM64 14h1v1h-1zM64 17h1v1h-1zM75 18h1v1h-1zM72 19h1v1h-1zM91 22h1v1h-1zM108 27h1v1h-1z"/><path fill="#664e3c" d="M162 0h1v1h-1zM33 6h1v1h-1zM100 6h1v1h-1zM25 16h1v1h-1zM45 16h1v1h-1zM97 16h1v1h-1zM108 16h1v1h-1zM118 16h1v1h-1zM74 19h1v1h-1zM141 27h1v1h-1zM16 29h1v1h-1zM22 29h1v1h-1zM27 29h1v1h-1zM112 29h1v1h-1z"/><path fill="#24122a" d="M164 0h1v1h-1z"/><path fill="#363618" d="M0 1h1v1h-1zM21 1h1v1h-1zM83 5h1v1h-1zM121 6h1v1h-1zM150 6h1v1h-1zM155 6h1v1h-1zM90 7h1v1h-1zM39 13h1v1h-1zM17 14h1v1h-1zM64 15h1v1h-1zM162 16h1v1h-1zM168 18h1v1h-1z"/><path fill="#545418" d="M1 1h1v1h-1zM99 1h1v1h-1zM102 5h1v1h-1zM122 5h1v1h-1zM114 29h1v1h-1z"/><path fill="#727224" d="M2 1h2v1h-2zM37 1h1v1h-1zM53 1h1v1h-1zM29 2h1v1h-1zM49 2h1v1h-1zM26 3h1v1h-1zM25 4h1v1h-1zM57 5h2v1h-2zM113 5h1v1h-1zM10 6h1v1h-1zM89 6h1v1h-1zM3 9h1v1h-1zM73 10h1v1h-1zM157 13h1v1h-1zM117 14h1v1h-1zM121 15h1v1h-1zM126 16h1v1h-1zM154 21h1v1h-1zM92 27h1v1h-1z"/><path fill="#242412" d="M4 1h1v1h-1zM145 5h1v1h-1zM168 7h1v1h-1zM40 12h1v1h-1z"/><path fill="#a8a82a" d="M5 1h1v1h-1zM7 2h1v1h-1zM59 4h1v1h-1zM7 5h1v1h-1zM26 7h1v1h-1zM37 7h1v1h-1zM138 11h1v1h-1zM94 12h1v1h-1zM81 17h1v1h-1zM150 23h1v1h-1z"/><path fill="#5a5a1e" d="M7 1h1v1h-1zM133 12h1v1h-1zM93 13h1v1h-1zM86 14h1v1h-1zM71 16h1v1h-1z"/><path fill="#baba24" d="M8 1h1v1h-1zM13 1h1v1h-1zM18 1h1v1h-1zM26 2h1v1h-1zM1 3h1v1h-1zM18 3h1v1h-1zM44 4h1v1h-1zM46 5h1v1h-1zM11 6h1v1h-1zM21 6h1v1h-1zM8 7h1v1h-1zM36 7h1v1h-1zM40 7h1v1h-1zM22 8h1v1h-1zM51 8h1v1h-1zM1 9h2v1h-2zM122 14h1v1h-1zM101 17h1v1h-1zM4 19h1v1h-1zM69 19h1v1h-1zM85 19h1v1h-1zM156 25h1v1h-1zM170 26h1v1h-1zM152 29h1v1h-1z"/><path fill="#606018" d="M9 1h1v1h-1zM26 1h1v1h-1zM87 29h1v1h-1z"/><path fill="#5a5a24" d="M12 1h1v1h-1zM64 7h1v1h-1zM102 11h1v1h-1z"/><path fill="#8a8a24" d="M14 1h1v1h-1zM20 1h1v1h-1zM50 1h1v1h-1zM52 1h1v1h-1zM100 1h1v1h-1zM34 2h1v1h-1zM15 3h1v1h-1zM48 3h1v1h-1zM42 4h1v1h-1zM22 5h1v1h-1zM136 11h1v1h-1zM14 14h1v1h-1zM93 15h1v1h-1zM96 17h1v1h-1zM137 17h1v1h-1zM118 18h1v1h-1z"/><path fill="#7e7e2a" d="M16 1h1v1h-1zM55 1h1v1h-1zM43 3h1v1h-1zM0 4h1v1h-1zM33 4h1v1h-1zM37 6h1v1h-1zM93 11h1v1h-1zM93 14h1v1h-1zM66 15h1v1h-1zM102 15h1v1h-1zM92 16h1v1h-1zM116 17h1v1h-1zM90 18h1v1h-1zM106 19h1v1h-1z"/><path fill="#48481e" d="M17 1h1v1h-1zM44 1h1v1h-1zM84 5h1v1h-1zM5 7h1v1h-1zM92 10h1v1h-1zM68 11h1v1h-1zM77 11h1v1h-1zM86 11h1v1h-1zM129 12h1v1h-1zM29 14h1v1h-1zM63 17h1v1h-1zM124 18h1v1h-1zM77 19h1v1h-1z"/><path fill="#d8d824" d="M23 1h1v1h-1zM50 2h1v1h-1zM13 3h1v1h-1zM20 3h1v1h-1zM23 3h1v1h-1zM32 3h2v1h-2zM42 3h1v1h-1zM14 4h1v1h-1zM2 5h1v1h-1zM65 10h1v1h-1zM65 11h1v1h-1zM94 11h1v1h-1zM85 15h1v1h-1zM124 15h1v1h-1zM156 20h1v1h-1zM165 23h1v1h-1zM149 24h1v1h-1zM161 24h1v1h-1zM146 25h1v1h-1zM154 25h1v1h-1zM160 25h1v1h-1zM148 26h1v1h-1zM151 26h1v1h-1zM152 27h1v1h-1zM155 27h1v1h-1zM171 27h1v1h-1zM172 28h1v1h-1zM154 29h1v1h-1zM172 29h1v1h-1z"/><path fill="#543042" d="M24 1h1v1h-1zM70 1h1v1h-1zM72 1h1v1h-1zM94 1h2v1h-2zM102 1h1v1h-1zM145 1h1v1h-1zM170 1h1v1h-1zM66 5h1v1h-1zM72 5h1v1h-1zM82 5h1v1h-1zM86 5h1v1h-1zM97 5h1v1h-1zM104 5h1v1h-1zM110 5h1v1h-1zM117 5h1v1h-1zM155 5h1v1h-1zM69 7h1v1h-1zM72 7h1v1h-1zM76 7h1v1h-1zM80 7h1v1h-1zM102 7h1v1h-1zM108 7h1v1h-1zM107 11h1v1h-1zM124 11h1v1h-1zM9 18h1v1h-1zM28 18h1v1h-1zM54 18h1v1h-1zM78 18h1v1h-1z"/><path fill="#a27e48" d="M28 1h1v1h-1zM168 5h1v1h-1zM170 5h1v1h-1zM23 7h1v1h-1zM66 11h1v1h-1zM79 18h1v1h-1zM107 18h1v1h-1zM115 18h1v1h-1z"/><path fill="#18120c" d="M29 1h1v1h-1z"/><path fill="#846048" d="M31 1h1v1h-1zM141 1h1v1h-1zM41 5h2v1h-2zM51 5h1v1h-1zM97 11h1v1h-1zM100 11h1v1h-1zM127 11h1v1h-1zM17 18h1v1h-1zM35 18h1v1h-1zM74 18h1v1h-1zM94 18h1v1h-1zM169 18h1v1h-1z"/><path fill="#787818" d="M32 1h1v1h-1zM48 1h1v1h-1zM168 6h1v1h-1zM69 28h1v1h-1z"/><path fill="#8a8a2a" d="M34 1h1v1h-1zM11 4h1v1h-1zM38 7h1v1h-1zM16 9h1v1h-1zM75 10h1v1h-1zM91 16h1v1h-1zM114 16h1v1h-1zM84 19h1v1h-1z"/><path fill="#60601e" d="M38 1h1v1h-1zM133 7h1v1h-1zM166 10h1v1h-1zM45 14h1v1h-1zM89 29h1v1h-1z"/><path fill="#906c48" d="M39 1h1v1h-1zM36 5h1v1h-1zM43 5h1v1h-1zM48 5h1v1h-1zM50 7h1v1h-1zM96 11h1v1h-1zM20 18h1v1h-1zM65 18h1v1h-1zM110 18h1v1h-1z"/><path fill="#78781e" d="M41 1h1v1h-1zM79 11h1v1h-1zM78 15h1v1h-1zM100 16h1v1h-1zM90 17h1v1h-1zM147 28h1v1h-1z"/><path fill="#2a2a12" d="M42 1h1v1h-1zM23 11h1v1h-1zM150 14h1v1h-1zM162 14h1v1h-1zM171 16h1v1h-1zM19 18h1v1h-1zM8 25h1v1h-1zM140 25h1v1h-1zM102 27h1v1h-1zM71 29h1v1h-1zM74 29h1v1h-1z"/><path fill="#785a48" d="M45 1h1v1h-1zM123 18h1v1h-1z"/><path fill="#72721e" d="M49 1h1v1h-1zM110 7h1v1h-1zM69 13h1v1h-1zM74 23h1v1h-1z"/><path fill="#7e7e1e" d="M54 1h1v1h-1zM81 15h1v1h-1zM130 15h1v1h-1zM141 15h1v1h-1zM147 21h1v1h-1zM144 22h1v1h-1zM82 25h1v1h-1z"/><path fill="#c0c024" d="M56 1h1v1h-1zM4 2h2v1h-2zM17 2h1v1h-1zM19 2h1v1h-1zM46 3h1v1h-1zM7 4h1v1h-1zM1 5h1v1h-1zM17 5h1v1h-1zM31 5h1v1h-1zM9 6h1v1h-1zM18 7h1v1h-1zM25 7h1v1h-1zM18 8h1v1h-1zM20 8h1v1h-1zM73 15h1v1h-1zM82 15h1v1h-1zM95 17h1v1h-1zM67 18h1v1h-1zM113 18h1v1h-1zM152 19h1v1h-1zM168 20h1v1h-1zM149 21h1v1h-1zM149 23h1v1h-1zM163 23h1v1h-1zM151 24h1v1h-1zM167 24h1v1h-1zM144 25h1v1h-1zM171 26h1v1h-1zM147 29h1v1h-1z"/><path fill="#484818" d="M59 1h1v1h-1zM160 16h1v1h-1zM26 25h1v1h-1z"/><path fill="#9c961e" d="M60 1h1v1h-1zM5 4h1v1h-1z"/><path fill="#601866" d="M61 1h1v1h-1zM67 1h1v1h-1zM73 1h1v1h-1zM79 1h1v1h-1zM82 1h4v1h-4zM90 1h2v1h-2zM98 1h1v1h-1zM103 1h3v1h-3zM107 1h1v1h-1zM110 1h3v1h-3zM114 1h1v1h-1zM124 1h1v1h-1zM126 1h1v1h-1zM129 1h4v1h-4zM135 1h1v1h-1zM137 1h1v1h-1zM139 1h1v1h-1zM148 1h1v1h-1zM153 1h1v1h-1zM158 1h1v1h-1zM161 1h1v1h-1zM166 1h1v1h-1zM28 5h1v1h-1zM35 5h1v1h-1zM69 5h1v1h-1zM73 5h1v1h-1zM77 5h2v1h-2zM80 5h1v1h-1zM87 5h1v1h-1zM91 5h1v1h-1zM93 5h1v1h-1zM95 5h1v1h-1zM105 5h1v1h-1zM114 5h3v1h-3zM120 5h1v1h-1zM126 5h1v1h-1zM130 5h2v1h-2zM134 5h5v1h-5zM143 5h1v1h-1zM151 5h2v1h-2zM154 5h1v1h-1zM161 5h1v1h-1zM166 5h2v1h-2zM172 5h1v1h-1zM43 7h1v1h-1zM45 7h1v1h-1zM52 7h1v1h-1zM60 7h1v1h-1zM62 7h1v1h-1zM67 7h1v1h-1zM71 7h1v1h-1zM77 7h1v1h-1zM79 7h1v1h-1zM81 7h2v1h-2zM96 7h1v1h-1zM100 7h1v1h-1zM103 7h1v1h-1zM111 7h1v1h-1zM114 7h1v1h-1zM116 7h1v1h-1zM118 7h1v1h-1zM121 7h3v1h-3zM129 7h1v1h-1zM131 7h2v1h-2zM136 7h1v1h-1zM143 7h1v1h-1zM146 7h2v1h-2zM150 7h1v1h-1zM153 7h1v1h-1zM160 7h3v1h-3zM164 7h1v1h-1zM166 7h1v1h-1zM1 18h3v1h-3zM6 18h1v1h-1zM15 18h1v1h-1zM22 18h2v1h-2zM30 18h1v1h-1zM32 18h1v1h-1zM37 18h1v1h-1zM40 18h2v1h-2zM45 18h1v1h-1zM50 18h1v1h-1zM53 18h1v1h-1zM58 18h1v1h-1zM73 18h1v1h-1zM88 18h2v1h-2zM101 18h1v1h-1zM120 18h3v1h-3zM131 18h1v1h-1zM134 18h2v1h-2zM138 18h1v1h-1zM145 18h2v1h-2zM148 18h1v1h-1zM150 18h1v1h-1zM154 18h3v1h-3zM161 18h2v1h-2zM165 18h1v1h-1zM171 18h1v1h-1z"/><path fill="#3c1e3c" d="M62 1h1v1h-1zM62 5h1v1h-1zM125 7h1v1h-1zM39 18h1v1h-1z"/><path fill="#664848" d="M63 1h1v1h-1z"/><path fill="#5a3642" d="M64 1h1v1h-1zM68 1h1v1h-1zM138 1h1v1h-1zM144 1h1v1h-1zM171 1h1v1h-1zM37 5h1v1h-1zM88 5h1v1h-1zM39 7h1v1h-1zM51 7h1v1h-1zM88 7h1v1h-1zM91 7h1v1h-1zM0 18h1v1h-1zM91 18h1v1h-1zM96 18h1v1h-1zM104 18h1v1h-1zM133 18h1v1h-1zM42 25h1v1h-1z"/><path fill="#60186c" d="M65 1h1v1h-1zM74 1h1v1h-1zM89 1h1v1h-1zM96 1h1v1h-1zM106 1h1v1h-1zM113 1h1v1h-1zM116 1h1v1h-1zM134 1h1v1h-1zM143 1h1v1h-1zM152 1h1v1h-1zM159 1h1v1h-1zM49 5h1v1h-1zM74 5h1v1h-1zM79 5h1v1h-1zM99 5h1v1h-1zM106 5h1v1h-1zM139 5h1v1h-1zM141 5h1v1h-1zM159 5h1v1h-1zM163 5h2v1h-2zM169 5h1v1h-1zM57 7h1v1h-1zM63 7h1v1h-1zM78 7h1v1h-1zM84 7h1v1h-1zM87 7h1v1h-1zM92 7h1v1h-1zM104 7h1v1h-1zM106 7h1v1h-1zM134 7h1v1h-1zM151 7h1v1h-1zM159 7h1v1h-1zM28 11h1v1h-1zM148 11h1v1h-1zM155 11h1v1h-1zM171 11h1v1h-1zM5 18h1v1h-1zM8 18h1v1h-1zM13 18h1v1h-1zM24 18h1v1h-1zM46 18h1v1h-1zM100 18h1v1h-1zM132 18h1v1h-1zM144 18h1v1h-1zM147 18h1v1h-1zM163 18h2v1h-2zM166 18h1v1h-1z"/><path fill="#603c42" d="M66 1h1v1h-1zM101 1h1v1h-1zM108 5h1v1h-1zM148 5h1v1h-1zM49 7h1v1h-1zM92 18h1v1h-1zM130 18h1v1h-1z"/><path fill="#7e5a48" d="M69 1h1v1h-1zM142 1h1v1h-1zM14 5h1v1h-1zM45 5h1v1h-1zM53 5h1v1h-1zM70 5h1v1h-1zM85 5h1v1h-1zM146 5h1v1h-1zM95 7h1v1h-1zM165 7h1v1h-1zM120 11h1v1h-1zM132 11h1v1h-1zM63 18h1v1h-1zM81 18h1v1h-1zM84 18h2v1h-2zM109 18h1v1h-1zM149 18h1v1h-1z"/><path fill="#543642" d="M71 1h1v1h-1zM92 5h1v1h-1zM111 5h1v1h-1zM30 7h1v1h-1zM119 7h1v1h-1zM127 7h1v1h-1zM163 7h1v1h-1zM97 18h1v1h-1zM116 18h1v1h-1zM85 25h1v1h-1z"/><path fill="#36123c" d="M75 1h1v1h-1zM127 1h1v1h-1zM30 2h1v1h-1zM37 2h1v1h-1zM46 2h1v1h-1zM57 2h2v1h-2zM62 2h2v1h-2zM65 2h4v1h-4zM70 2h3v1h-3zM74 2h15v1h-15zM90 2h12v1h-12zM103 2h1v1h-1zM105 2h9v1h-9zM115 2h4v1h-4zM120 2h8v1h-8zM129 2h13v1h-13zM143 2h4v1h-4zM148 2h9v1h-9zM158 2h1v1h-1zM160 2h7v1h-7zM169 2h1v1h-1zM172 2h1v1h-1zM25 3h1v1h-1zM63 3h1v1h-1zM67 3h1v1h-1zM78 3h1v1h-1zM80 3h1v1h-1zM84 3h1v1h-1zM101 3h1v1h-1zM104 3h1v1h-1zM110 3h1v1h-1zM112 3h1v1h-1zM114 3h1v1h-1zM121 3h1v1h-1zM124 3h1v1h-1zM126 3h2v1h-2zM137 3h1v1h-1zM141 3h2v1h-2zM144 3h2v1h-2zM154 3h1v1h-1zM162 3h1v1h-1zM164 3h1v1h-1zM171 3h1v1h-1zM52 4h1v1h-1zM58 4h1v1h-1zM62 4h1v1h-1zM71 4h1v1h-1zM81 4h1v1h-1zM84 4h1v1h-1zM94 4h2v1h-2zM97 4h5v1h-5zM106 4h1v1h-1zM108 4h2v1h-2zM116 4h1v1h-1zM122 4h2v1h-2zM134 4h1v1h-1zM137 4h2v1h-2zM140 4h1v1h-1zM153 4h1v1h-1zM161 4h1v1h-1zM164 4h1v1h-1zM166 4h1v1h-1zM144 5h1v1h-1zM162 5h1v1h-1zM138 7h1v1h-1zM170 7h1v1h-1zM0 10h2v1h-2zM3 10h1v1h-1zM6 10h4v1h-4zM11 10h7v1h-7zM19 10h2v1h-2zM22 10h3v1h-3zM26 10h1v1h-1zM28 10h5v1h-5zM35 10h2v1h-2zM39 10h6v1h-6zM46 10h2v1h-2zM50 10h1v1h-1zM52 10h5v1h-5zM58 10h1v1h-1zM60 10h1v1h-1zM71 10h1v1h-1zM82 10h1v1h-1zM94 10h1v1h-1zM112 10h1v1h-1zM114 10h1v1h-1zM116 10h1v1h-1zM119 10h1v1h-1zM123 10h2v1h-2zM127 10h1v1h-1zM134 10h2v1h-2zM140 10h1v1h-1zM142 10h1v1h-1zM145 10h2v1h-2zM149 10h1v1h-1zM154 10h1v1h-1zM158 10h2v1h-2zM162 10h4v1h-4zM169 10h1v1h-1zM38 11h1v1h-1zM43 11h1v1h-1zM147 11h1v1h-1zM164 11h1v1h-1zM27 23h1v1h-1z"/><path fill="#9c7848" d="M76 1h1v1h-1zM13 11h1v1h-1zM71 11h1v1h-1zM92 11h1v1h-1zM98 18h1v1h-1z"/><path fill="#482a42" d="M78 1h1v1h-1zM151 18h1v1h-1z"/><path fill="#6c4848" d="M80 1h1v1h-1zM121 1h1v1h-1zM157 1h1v1h-1zM13 5h1v1h-1zM47 7h1v1h-1zM68 7h1v1h-1zM145 7h1v1h-1zM78 11h1v1h-1zM88 11h1v1h-1zM43 18h1v1h-1z"/><path fill="#48243c" d="M81 1h1v1h-1zM88 1h1v1h-1zM92 1h2v1h-2zM108 1h1v1h-1zM140 1h1v1h-1zM156 1h1v1h-1zM164 1h1v1h-1zM167 1h1v1h-1zM65 5h1v1h-1zM124 5h2v1h-2zM132 5h1v1h-1zM156 5h1v1h-1zM85 7h1v1h-1zM109 7h1v1h-1zM149 7h1v1h-1zM158 7h1v1h-1zM7 18h1v1h-1zM47 18h1v1h-1zM62 18h1v1h-1z"/><path fill="#724e48" d="M86 1h1v1h-1zM115 1h1v1h-1zM61 11h1v1h-1zM87 11h1v1h-1zM33 18h1v1h-1zM71 18h1v1h-1zM105 18h1v1h-1zM114 18h1v1h-1zM126 18h1v1h-1z"/><path fill="#664248" d="M87 1h1v1h-1zM154 1h1v1h-1zM100 5h1v1h-1zM44 7h1v1h-1zM86 7h1v1h-1zM97 7h1v1h-1zM117 7h1v1h-1zM69 11h1v1h-1zM122 11h1v1h-1zM131 11h1v1h-1zM25 18h1v1h-1zM55 18h1v1h-1zM158 18h1v1h-1z"/><path fill="#421e3c" d="M97 1h1v1h-1zM122 1h2v1h-2zM125 1h1v1h-1zM168 1h1v1h-1zM142 5h1v1h-1zM165 5h1v1h-1zM66 7h1v1h-1zM70 7h1v1h-1zM83 7h1v1h-1zM135 7h1v1h-1zM137 7h1v1h-1zM144 7h1v1h-1zM155 7h1v1h-1zM172 7h1v1h-1zM165 11h1v1h-1zM48 18h1v1h-1z"/><path fill="#6c6c18" d="M117 1h1v1h-1zM171 14h1v1h-1z"/><path fill="#1e1e0c" d="M118 1h1v1h-1zM8 19h1v1h-1zM92 29h1v1h-1z"/><path fill="#604248" d="M119 1h1v1h-1zM87 18h1v1h-1z"/><path fill="#4e3042" d="M120 1h1v1h-1zM171 5h1v1h-1zM98 7h1v1h-1z"/><path fill="#482a3c" d="M128 1h1v1h-1zM130 7h1v1h-1zM2 19h1v1h-1zM35 19h1v1h-1zM62 19h1v1h-1zM81 19h1v1h-1zM92 19h1v1h-1zM94 19h1v1h-1zM109 19h1v1h-1zM24 25h1v1h-1zM90 25h1v1h-1zM98 25h1v1h-1zM105 25h1v1h-1zM107 25h1v1h-1zM119 25h1v1h-1zM150 25h1v1h-1z"/><path fill="#4e2a42" d="M133 1h1v1h-1zM118 5h1v1h-1zM41 7h1v1h-1zM73 7h2v1h-2zM105 7h1v1h-1zM126 7h1v1h-1zM148 7h1v1h-1zM74 11h1v1h-1zM144 11h1v1h-1zM140 18h1v1h-1z"/><path fill="#967248" d="M136 1h1v1h-1zM47 5h1v1h-1zM20 7h1v1h-1zM48 7h1v1h-1zM0 11h1v1h-1z"/><path fill="#361236" d="M146 1h1v1h-1zM94 7h1v1h-1zM120 7h1v1h-1zM154 7h1v1h-1zM167 7h1v1h-1zM52 18h1v1h-1z"/><path fill="#42243c" d="M147 1h1v1h-1zM160 5h1v1h-1zM152 7h1v1h-1zM157 7h1v1h-1zM4 18h1v1h-1z"/><path fill="#303012" d="M149 1h1v1h-1zM89 5h1v1h-1zM14 11h1v1h-1zM29 19h1v1h-1zM34 19h1v1h-1zM6 25h1v1h-1zM9 25h1v1h-1zM123 25h1v1h-1zM71 27h1v1h-1z"/><path fill="#a27e42" d="M150 1h2v1h-2zM52 5h1v1h-1zM53 7h1v1h-1zM103 18h1v1h-1zM136 18h1v1h-1z"/><path fill="#361836" d="M155 1h1v1h-1zM147 5h1v1h-1zM112 7h1v1h-1zM152 18h1v1h-1zM17 25h1v1h-1zM65 25h1v1h-1zM86 25h1v1h-1zM104 25h1v1h-1zM132 25h1v1h-1z"/><path fill="#3c183c" d="M160 1h1v1h-1zM68 5h1v1h-1zM94 5h1v1h-1zM96 5h1v1h-1zM133 5h1v1h-1zM149 5h1v1h-1zM65 7h1v1h-1zM75 7h1v1h-1zM113 7h1v1h-1zM169 7h1v1h-1zM32 11h1v1h-1zM44 11h1v1h-1zM46 11h1v1h-1zM48 11h1v1h-1zM51 11h1v1h-1zM159 11h1v1h-1zM167 11h1v1h-1zM36 18h1v1h-1zM59 18h1v1h-1zM167 18h1v1h-1z"/><path fill="#120c0c" d="M165 1h1v1h-1z"/><path fill="#605a18" d="M169 1h1v1h-1z"/><path fill="#5a4836" d="M2 2h1v1h-1zM28 2h1v1h-1zM39 2h1v1h-1zM99 10h1v1h-1zM106 10h1v1h-1zM81 12h1v1h-1zM88 12h1v1h-1zM63 23h1v1h-1zM140 23h1v1h-1z"/><path fill="#423030" d="M3 2h1v1h-1zM160 3h1v1h-1zM28 4h1v1h-1zM132 10h1v1h-1zM128 12h1v1h-1zM7 23h1v1h-1zM62 23h1v1h-1zM114 23h1v1h-1z"/><path fill="#a2a224" d="M6 2h1v1h-1zM16 2h1v1h-1zM33 2h1v1h-1zM52 3h1v1h-1zM35 4h1v1h-1zM20 5h1v1h-1zM10 7h2v1h-2zM16 8h1v1h-1zM37 8h1v1h-1zM91 10h1v1h-1zM105 11h1v1h-1zM70 12h1v1h-1zM78 14h1v1h-1zM79 16h1v1h-1zM102 16h1v1h-1zM161 21h1v1h-1zM152 26h1v1h-1zM157 28h1v1h-1z"/><path fill="#786630" d="M10 2h1v1h-1zM42 2h1v1h-1zM49 3h1v1h-1zM55 3h1v1h-1z"/><path fill="#e4e424" d="M12 2h1v1h-1zM34 3h1v1h-1zM12 5h1v1h-1zM29 5h1v1h-1zM49 6h1v1h-1zM13 7h1v1h-1zM15 7h1v1h-1zM9 8h1v1h-1zM75 11h1v1h-1zM108 13h1v1h-1zM128 14h1v1h-1zM150 20h1v1h-1zM150 21h1v1h-1zM152 21h1v1h-1zM165 21h1v1h-1zM149 22h1v1h-1zM158 22h1v1h-1zM160 23h1v1h-1zM146 24h1v1h-1zM153 24h1v1h-1zM150 26h1v1h-1zM159 27h1v1h-1zM162 27h1v1h-1zM145 29h1v1h-1zM159 29h1v1h-1z"/><path fill="#f6f01e" d="M13 2h1v1h-1zM51 3h1v1h-1z"/><path fill="#c0ba24" d="M20 2h1v1h-1zM8 5h1v1h-1zM31 7h1v1h-1zM145 23h1v1h-1z"/><path fill="#ccc624" d="M21 2h1v1h-1zM0 3h1v1h-1zM47 3h1v1h-1zM12 6h1v1h-1zM20 6h1v1h-1zM155 20h1v1h-1zM163 25h2v1h-2z"/><path fill="#bab424" d="M22 2h1v1h-1zM111 16h1v1h-1zM172 20h1v1h-1zM164 21h1v1h-1z"/><path fill="#6c5a30" d="M27 2h1v1h-1zM65 3h1v1h-1zM125 3h1v1h-1zM31 4h1v1h-1zM37 4h1v1h-1zM57 4h1v1h-1zM105 4h1v1h-1zM85 10h1v1h-1z"/><path fill="#847230" d="M35 2h1v1h-1zM44 3h1v1h-1zM1 4h1v1h-1zM63 10h1v1h-1zM136 10h1v1h-1zM77 23h1v1h-1zM164 23h1v1h-1z"/><path fill="#9c9c1e" d="M36 2h1v1h-1zM115 15h1v1h-1zM72 18h1v1h-1zM151 19h1v1h-1zM160 20h1v1h-1zM144 23h1v1h-1zM146 27h1v1h-1zM151 28h1v1h-1zM158 28h1v1h-1z"/><path fill="#a2a21e" d="M38 2h1v1h-1zM12 4h1v1h-1zM7 8h1v1h-1zM27 8h1v1h-1zM162 22h1v1h-1zM157 23h1v1h-1z"/><path fill="#6c5430" d="M40 2h1v1h-1z"/><path fill="#5a4830" d="M41 2h1v1h-1zM30 3h1v1h-1zM38 4h1v1h-1zM112 4h1v1h-1zM66 10h1v1h-1zM88 10h1v1h-1zM160 10h1v1h-1z"/><path fill="#665430" d="M43 2h1v1h-1zM56 2h1v1h-1zM50 3h1v1h-1zM87 3h1v1h-1zM29 4h1v1h-1zM57 10h1v1h-1zM70 10h1v1h-1z"/><path fill="#d2d224" d="M44 2h1v1h-1zM10 3h1v1h-1zM59 3h1v1h-1zM15 6h1v1h-1zM30 6h1v1h-1zM0 7h1v1h-1zM29 7h1v1h-1zM5 8h1v1h-1zM0 9h1v1h-1zM10 9h1v1h-1zM115 10h1v1h-1zM164 19h1v1h-1zM146 21h1v1h-1zM156 21h2v1h-2zM169 22h1v1h-1zM149 25h1v1h-1zM168 25h2v1h-2zM168 26h1v1h-1zM149 27h1v1h-1zM150 28h1v1h-1z"/><path fill="#726030" d="M47 2h1v1h-1zM32 4h1v1h-1zM21 10h1v1h-1zM90 10h1v1h-1zM98 10h1v1h-1zM105 10h1v1h-1z"/><path fill="#907e30" d="M48 2h1v1h-1zM48 4h1v1h-1zM93 10h1v1h-1zM97 10h1v1h-1zM95 12h1v1h-1zM163 12h1v1h-1zM168 23h1v1h-1z"/><path fill="#483630" d="M52 2h1v1h-1zM102 2h1v1h-1zM96 10h1v1h-1zM107 10h1v1h-1zM147 10h2v1h-2zM155 10h1v1h-1zM171 10h1v1h-1zM68 23h1v1h-1zM172 23h1v1h-1zM58 27h1v1h-1z"/><path fill="#967e30" d="M55 2h1v1h-1zM170 23h1v1h-1zM170 27h1v1h-1z"/><path fill="#d2cc24" d="M59 2h1v1h-1zM3 6h1v1h-1zM40 8h1v1h-1zM168 27h1v1h-1z"/><path fill="#604e30" d="M61 2h1v1h-1zM159 2h1v1h-1zM54 4h1v1h-1zM86 10h1v1h-1zM137 10h1v1h-1z"/><path fill="#2a1824" d="M64 2h1v1h-1zM157 2h1v1h-1zM151 3h1v1h-1zM113 4h1v1h-1zM128 23h1v1h-1z"/><path fill="#543c30" d="M69 2h1v1h-1zM107 23h1v1h-1z"/><path fill="#30123c" d="M73 2h1v1h-1zM114 2h1v1h-1zM147 2h1v1h-1zM168 2h1v1h-1zM171 2h1v1h-1zM60 3h3v1h-3zM69 3h1v1h-1zM74 3h2v1h-2zM81 3h1v1h-1zM85 3h2v1h-2zM89 3h3v1h-3zM93 3h2v1h-2zM102 3h2v1h-2zM105 3h3v1h-3zM109 3h1v1h-1zM116 3h2v1h-2zM132 3h1v1h-1zM134 3h1v1h-1zM136 3h1v1h-1zM139 3h1v1h-1zM143 3h1v1h-1zM147 3h1v1h-1zM150 3h1v1h-1zM152 3h1v1h-1zM155 3h1v1h-1zM157 3h1v1h-1zM166 3h1v1h-1zM170 3h1v1h-1zM172 3h1v1h-1zM39 4h1v1h-1zM63 4h1v1h-1zM67 4h1v1h-1zM72 4h1v1h-1zM76 4h3v1h-3zM82 4h1v1h-1zM89 4h4v1h-4zM102 4h1v1h-1zM111 4h1v1h-1zM115 4h1v1h-1zM121 4h1v1h-1zM124 4h4v1h-4zM141 4h1v1h-1zM143 4h1v1h-1zM145 4h1v1h-1zM147 4h1v1h-1zM152 4h1v1h-1zM154 4h2v1h-2zM157 4h1v1h-1zM162 4h1v1h-1zM169 4h2v1h-2zM2 10h1v1h-1zM4 10h1v1h-1zM18 10h1v1h-1zM34 10h1v1h-1zM48 10h1v1h-1zM84 10h1v1h-1zM100 10h1v1h-1zM131 10h1v1h-1zM133 10h1v1h-1zM144 10h1v1h-1zM150 10h2v1h-2z"/><path fill="#36242a" d="M89 2h1v1h-1zM151 4h1v1h-1zM160 4h1v1h-1zM38 10h1v1h-1zM59 10h1v1h-1zM61 10h1v1h-1zM113 10h1v1h-1zM120 10h1v1h-1zM130 10h1v1h-1zM167 10h1v1h-1zM67 23h1v1h-1zM113 23h1v1h-1z"/><path fill="#42302a" d="M104 2h1v1h-1zM72 3h1v1h-1zM148 3h1v1h-1zM156 10h1v1h-1zM144 17h1v1h-1z"/><path fill="#3c2a2a" d="M119 2h1v1h-1zM25 10h1v1h-1zM139 10h1v1h-1z"/><path fill="#361242" d="M128 2h1v1h-1zM27 10h1v1h-1zM33 10h1v1h-1zM1 23h1v1h-1zM16 23h1v1h-1zM36 23h1v1h-1zM52 23h1v1h-1zM57 23h1v1h-1zM86 23h1v1h-1zM103 23h1v1h-1zM155 23h1v1h-1z"/><path fill="#8a7830" d="M142 2h1v1h-1zM130 3h1v1h-1zM2 4h1v1h-1zM21 4h1v1h-1zM108 10h1v1h-1zM111 10h1v1h-1zM126 10h1v1h-1zM162 23h1v1h-1z"/><path fill="#aea824" d="M5 3h1v1h-1zM25 8h1v1h-1zM31 8h1v1h-1zM147 23h2v1h-2z"/><path fill="#b4ae24" d="M6 3h1v1h-1zM153 26h1v1h-1z"/><path fill="#ded824" d="M14 3h1v1h-1zM62 15h1v1h-1zM164 22h1v1h-1zM163 27h1v1h-1zM148 29h2v1h-2z"/><path fill="#301236" d="M22 3h1v1h-1zM28 3h1v1h-1zM40 3h1v1h-1zM54 3h1v1h-1zM57 3h1v1h-1zM64 3h1v1h-1zM66 3h1v1h-1zM68 3h1v1h-1zM70 3h1v1h-1zM73 3h1v1h-1zM76 3h2v1h-2zM79 3h1v1h-1zM82 3h1v1h-1zM88 3h1v1h-1zM92 3h1v1h-1zM95 3h2v1h-2zM98 3h3v1h-3zM108 3h1v1h-1zM111 3h1v1h-1zM113 3h1v1h-1zM115 3h1v1h-1zM120 3h1v1h-1zM122 3h2v1h-2zM128 3h2v1h-2zM131 3h1v1h-1zM133 3h1v1h-1zM135 3h1v1h-1zM138 3h1v1h-1zM146 3h1v1h-1zM149 3h1v1h-1zM153 3h1v1h-1zM156 3h1v1h-1zM158 3h1v1h-1zM161 3h1v1h-1zM163 3h1v1h-1zM165 3h1v1h-1zM169 3h1v1h-1zM55 4h1v1h-1zM61 4h1v1h-1zM65 4h2v1h-2zM68 4h3v1h-3zM74 4h2v1h-2zM79 4h2v1h-2zM83 4h1v1h-1zM85 4h4v1h-4zM93 4h1v1h-1zM96 4h1v1h-1zM103 4h1v1h-1zM107 4h1v1h-1zM110 4h1v1h-1zM114 4h1v1h-1zM118 4h1v1h-1zM120 4h1v1h-1zM130 4h4v1h-4zM135 4h1v1h-1zM139 4h1v1h-1zM142 4h1v1h-1zM144 4h1v1h-1zM148 4h1v1h-1zM150 4h1v1h-1zM156 4h1v1h-1zM158 4h2v1h-2zM165 4h1v1h-1zM168 4h1v1h-1zM171 4h2v1h-2zM64 5h1v1h-1zM101 5h1v1h-1zM123 5h1v1h-1zM128 7h1v1h-1zM139 7h1v1h-1zM26 18h1v1h-1zM51 18h1v1h-1zM46 19h1v1h-1zM114 25h1v1h-1z"/><path fill="#907e2a" d="M24 3h1v1h-1zM22 4h1v1h-1z"/><path fill="#544230" d="M29 3h1v1h-1zM168 3h1v1h-1zM53 4h1v1h-1zM125 10h1v1h-1zM138 10h1v1h-1z"/><path fill="#483c30" d="M35 3h1v1h-1zM16 4h1v1h-1zM128 4h1v1h-1zM81 10h1v1h-1z"/><path fill="#967e2a" d="M38 3h1v1h-1zM53 3h1v1h-1zM56 3h1v1h-1zM27 4h1v1h-1z"/><path fill="#907830" d="M41 3h1v1h-1zM72 10h1v1h-1zM169 23h1v1h-1z"/><path fill="#eae41e" d="M58 3h1v1h-1zM30 4h1v1h-1zM159 20h1v1h-1zM164 24h1v1h-1zM159 25h1v1h-1z"/><path fill="#1e0c24" d="M71 3h1v1h-1zM149 4h1v1h-1zM10 10h1v1h-1zM37 10h1v1h-1zM170 10h1v1h-1zM75 23h1v1h-1z"/><path fill="#1e0c1e" d="M83 3h1v1h-1zM136 4h1v1h-1zM137 9h1v1h-1zM139 9h1v1h-1zM153 10h1v1h-1zM158 17h1v1h-1z"/><path fill="#4e3c30" d="M97 3h1v1h-1zM118 3h1v1h-1zM129 4h1v1h-1zM51 10h1v1h-1zM110 10h1v1h-1zM73 23h1v1h-1z"/><path fill="#605430" d="M119 3h1v1h-1zM161 10h1v1h-1zM94 15h1v1h-1z"/><path fill="#241824" d="M159 3h1v1h-1zM163 4h1v1h-1z"/><path fill="#786c30" d="M3 4h1v1h-1zM24 4h1v1h-1zM40 4h1v1h-1z"/><path fill="#a8a81e" d="M8 4h1v1h-1zM166 20h1v1h-1z"/><path fill="#544830" d="M15 4h1v1h-1zM80 10h1v1h-1zM113 17h1v1h-1z"/><path fill="#5a4e30" d="M34 4h1v1h-1zM60 4h1v1h-1zM86 15h1v1h-1zM110 17h1v1h-1z"/><path fill="#7e6c30" d="M45 4h1v1h-1zM73 4h1v1h-1z"/><path fill="#d8d224" d="M56 4h1v1h-1zM1 8h1v1h-1zM24 8h1v1h-1zM17 9h1v1h-1zM36 9h1v1h-1zM102 10h1v1h-1zM72 12h1v1h-1zM152 24h1v1h-1zM160 28h1v1h-1z"/><path fill="#2a1e24" d="M64 4h1v1h-1zM126 9h1v1h-1zM15 15h1v1h-1zM36 15h1v1h-1zM51 17h1v1h-1zM164 20h1v1h-1zM97 26h1v1h-1z"/><path fill="#301e2a" d="M104 4h1v1h-1zM167 4h1v1h-1zM87 10h1v1h-1zM104 10h1v1h-1zM118 10h1v1h-1zM168 10h1v1h-1zM117 12h1v1h-1zM70 23h1v1h-1zM90 23h1v1h-1zM112 23h1v1h-1zM128 27h1v1h-1z"/><path fill="#362a2a" d="M119 4h1v1h-1z"/><path fill="#8a8a1e" d="M146 4h1v1h-1zM87 12h1v1h-1zM143 15h1v1h-1zM122 16h1v1h-1zM9 19h1v1h-1zM126 19h1v1h-1zM162 21h1v1h-1zM171 24h1v1h-1zM166 25h1v1h-1zM172 25h1v1h-1z"/><path fill="#a88448" d="M10 5h1v1h-1zM27 5h1v1h-1zM137 18h1v1h-1z"/><path fill="#84842a" d="M15 5h1v1h-1zM19 5h1v1h-1zM21 5h1v1h-1zM77 15h1v1h-1zM99 17h1v1h-1zM49 18h1v1h-1zM111 18h1v1h-1zM88 19h1v1h-1zM66 27h1v1h-1zM165 27h1v1h-1z"/><path fill="#72722a" d="M23 5h1v1h-1z"/><path fill="#846648" d="M30 5h1v1h-1zM82 18h1v1h-1z"/><path fill="#603c48" d="M34 5h1v1h-1zM90 5h1v1h-1zM141 7h1v1h-1zM21 11h1v1h-1zM53 11h1v1h-1zM113 11h1v1h-1zM18 18h1v1h-1zM56 18h1v1h-1zM117 18h1v1h-1z"/><path fill="#c6c024" d="M40 5h1v1h-1zM14 6h1v1h-1zM46 6h1v1h-1zM145 22h1v1h-1z"/><path fill="#a88442" d="M44 5h1v1h-1zM64 18h1v1h-1z"/><path fill="#785448" d="M59 5h1v1h-1zM61 5h1v1h-1zM107 5h1v1h-1zM121 5h1v1h-1zM24 7h1v1h-1zM56 7h1v1h-1zM11 11h1v1h-1zM114 11h1v1h-1zM125 11h1v1h-1zM16 18h1v1h-1zM83 18h1v1h-1zM112 18h1v1h-1zM129 18h1v1h-1zM139 18h1v1h-1z"/><path fill="#907248" d="M63 5h1v1h-1zM70 18h1v1h-1z"/><path fill="#725448" d="M67 5h1v1h-1zM129 5h1v1h-1z"/><path fill="#4e2a3c" d="M71 5h1v1h-1zM75 5h1v1h-1zM93 18h1v1h-1z"/><path fill="#303018" d="M81 5h1v1h-1zM91 6h1v1h-1zM115 7h1v1h-1zM34 13h1v1h-1zM21 19h1v1h-1zM104 27h1v1h-1z"/><path fill="#482442" d="M103 5h1v1h-1zM128 5h1v1h-1zM3 11h1v1h-1zM82 11h1v1h-1zM11 18h1v1h-1zM44 18h1v1h-1zM80 18h1v1h-1z"/><path fill="#8a6648" d="M109 5h1v1h-1zM33 7h1v1h-1zM72 11h1v1h-1zM111 11h1v1h-1zM117 11h1v1h-1zM126 11h1v1h-1z"/><path fill="#3c123c" d="M119 5h1v1h-1zM158 11h1v1h-1z"/><path fill="#1e1812" d="M140 5h1v1h-1z"/><path fill="#12120c" d="M150 5h1v1h-1zM147 9h1v1h-1zM79 29h1v1h-1z"/><path fill="#96783c" d="M17 6h1v1h-1zM41 19h1v1h-1zM75 19h1v1h-1zM119 19h1v1h-1zM160 19h1v1h-1zM69 29h1v1h-1z"/><path fill="#7e663c" d="M19 6h1v1h-1zM56 6h1v1h-1zM132 16h1v1h-1zM161 19h1v1h-1zM95 29h1v1h-1z"/><path fill="#42124e" d="M26 6h1v1h-1zM41 6h1v1h-1zM63 6h1v1h-1zM68 6h2v1h-2zM76 6h1v1h-1zM83 6h1v1h-1zM93 6h1v1h-1zM97 6h1v1h-1zM103 6h1v1h-1zM105 6h1v1h-1zM108 6h1v1h-1zM112 6h1v1h-1zM123 6h1v1h-1zM129 6h3v1h-3zM133 6h1v1h-1zM135 6h1v1h-1zM141 6h1v1h-1zM153 6h1v1h-1zM159 6h1v1h-1zM161 6h1v1h-1zM165 6h1v1h-1zM0 16h1v1h-1zM2 16h1v1h-1zM36 16h1v1h-1zM38 16h1v1h-1zM51 16h2v1h-2zM55 16h1v1h-1zM99 16h1v1h-1zM103 16h1v1h-1zM135 16h2v1h-2zM138 16h1v1h-1zM141 16h2v1h-2zM152 16h1v1h-1zM154 16h2v1h-2zM164 16h1v1h-1zM167 16h1v1h-1zM0 29h1v1h-1zM5 29h1v1h-1zM9 29h1v1h-1zM11 29h1v1h-1zM13 29h1v1h-1zM15 29h1v1h-1zM18 29h1v1h-1zM20 29h1v1h-1zM24 29h1v1h-1zM29 29h5v1h-5zM38 29h1v1h-1zM40 29h4v1h-4zM48 29h1v1h-1zM53 29h1v1h-1zM56 29h1v1h-1zM65 29h1v1h-1zM67 29h1v1h-1zM80 29h1v1h-1zM90 29h1v1h-1zM110 29h2v1h-2zM115 29h1v1h-1zM126 29h1v1h-1zM134 29h2v1h-2zM140 29h1v1h-1z"/><path fill="#9c7e36" d="M28 6h1v1h-1zM164 29h1v1h-1z"/><path fill="#967e36" d="M31 6h1v1h-1zM54 6h1v1h-1zM79 12h1v1h-1zM49 16h1v1h-1zM69 16h1v1h-1zM96 16h1v1h-1zM121 16h1v1h-1zM144 16h1v1h-1zM151 27h1v1h-1zM160 29h1v1h-1zM163 29h1v1h-1zM166 29h1v1h-1z"/><path fill="#846c3c" d="M34 6h1v1h-1zM59 6h1v1h-1zM80 16h1v1h-1zM132 29h1v1h-1zM153 29h1v1h-1z"/><path fill="#9c8436" d="M36 6h1v1h-1zM57 6h1v1h-1zM161 29h1v1h-1z"/><path fill="#72543c" d="M39 6h1v1h-1z"/><path fill="#66543c" d="M42 6h1v1h-1z"/><path fill="#5a423c" d="M43 6h1v1h-1zM105 12h1v1h-1zM10 16h2v1h-2zM78 16h1v1h-1zM83 16h1v1h-1zM123 16h1v1h-1zM131 16h1v1h-1zM25 19h1v1h-1zM127 19h1v1h-1z"/><path fill="#78603c" d="M50 6h1v1h-1zM55 6h1v1h-1zM60 6h1v1h-1zM70 6h1v1h-1zM124 6h1v1h-1zM125 12h1v1h-1zM106 16h1v1h-1zM124 16h1v1h-1zM133 16h1v1h-1zM149 19h1v1h-1zM64 29h1v1h-1z"/><path fill="#48124e" d="M53 6h1v1h-1zM73 6h1v1h-1zM75 6h1v1h-1zM85 6h1v1h-1zM95 6h1v1h-1zM101 6h1v1h-1zM107 6h1v1h-1zM111 6h1v1h-1zM115 6h1v1h-1zM136 6h1v1h-1zM138 6h1v1h-1zM143 6h2v1h-2zM160 6h1v1h-1zM171 6h1v1h-1zM9 16h1v1h-1zM21 16h1v1h-1zM47 16h1v1h-1zM53 16h1v1h-1zM57 16h1v1h-1zM72 16h2v1h-2zM113 16h1v1h-1zM129 16h1v1h-1zM149 16h1v1h-1zM158 16h1v1h-1zM166 16h1v1h-1zM169 16h2v1h-2zM1 29h3v1h-3zM6 29h3v1h-3zM45 29h2v1h-2zM49 29h1v1h-1zM58 29h1v1h-1zM60 29h1v1h-1zM66 29h1v1h-1zM72 29h1v1h-1zM82 29h1v1h-1zM84 29h1v1h-1zM86 29h1v1h-1zM113 29h1v1h-1zM119 29h1v1h-1zM124 29h1v1h-1z"/><path fill="#543c3c" d="M65 6h1v1h-1zM51 19h1v1h-1zM128 25h1v1h-1z"/><path fill="#60483c" d="M66 6h1v1h-1zM77 6h1v1h-1zM83 12h1v1h-1zM30 16h1v1h-1zM137 16h1v1h-1zM165 16h1v1h-1zM57 19h1v1h-1zM97 19h1v1h-1zM26 29h1v1h-1zM123 29h1v1h-1zM168 29h1v1h-1z"/><path fill="#301830" d="M72 6h1v1h-1zM88 6h1v1h-1zM120 6h1v1h-1zM140 6h1v1h-1zM148 6h1v1h-1zM156 6h1v1h-1zM28 16h1v1h-1zM42 16h1v1h-1zM157 16h1v1h-1zM17 29h1v1h-1zM97 29h1v1h-1zM101 29h1v1h-1zM121 29h1v1h-1zM139 29h1v1h-1z"/><path fill="#48184e" d="M74 6h1v1h-1zM80 6h1v1h-1zM90 6h1v1h-1zM99 6h1v1h-1zM109 6h2v1h-2zM113 6h1v1h-1zM117 6h1v1h-1zM119 6h1v1h-1zM128 6h1v1h-1zM137 6h1v1h-1zM139 6h1v1h-1zM142 6h1v1h-1zM145 6h1v1h-1zM149 6h1v1h-1zM157 6h1v1h-1zM163 6h1v1h-1zM167 6h1v1h-1zM1 16h1v1h-1zM4 16h1v1h-1zM19 16h2v1h-2zM31 16h3v1h-3zM35 16h1v1h-1zM46 16h1v1h-1zM50 16h1v1h-1zM86 16h1v1h-1zM104 16h1v1h-1zM147 16h2v1h-2zM156 16h1v1h-1zM159 16h1v1h-1zM161 16h1v1h-1zM12 29h1v1h-1zM28 29h1v1h-1zM37 29h1v1h-1zM39 29h1v1h-1zM52 29h1v1h-1zM57 29h1v1h-1zM62 29h1v1h-1zM73 29h1v1h-1zM75 29h1v1h-1zM88 29h1v1h-1zM94 29h1v1h-1zM102 29h1v1h-1zM104 29h1v1h-1zM125 29h1v1h-1zM127 29h1v1h-1zM136 29h2v1h-2zM143 29h1v1h-1z"/><path fill="#2a182a" d="M79 6h1v1h-1zM83 27h1v1h-1z"/><path fill="#18180c" d="M82 6h1v1h-1zM127 23h1v1h-1z"/><path fill="#422a36" d="M86 6h1v1h-1zM147 6h1v1h-1zM56 16h1v1h-1zM95 16h1v1h-1zM11 19h1v1h-1zM25 29h1v1h-1zM44 29h1v1h-1zM129 29h1v1h-1z"/><path fill="#725a3c" d="M87 6h1v1h-1zM125 6h1v1h-1zM100 12h1v1h-1zM107 12h1v1h-1zM37 16h1v1h-1zM44 16h1v1h-1zM48 16h1v1h-1zM115 16h1v1h-1zM71 19h1v1h-1zM77 29h1v1h-1zM118 29h1v1h-1z"/><path fill="#2a0c30" d="M132 6h1v1h-1zM19 8h1v1h-1zM49 8h1v1h-1zM62 8h1v1h-1zM66 8h1v1h-1zM85 8h1v1h-1zM90 8h1v1h-1zM92 8h2v1h-2zM96 8h2v1h-2zM104 8h2v1h-2zM117 8h1v1h-1zM123 8h1v1h-1zM126 8h2v1h-2zM133 8h1v1h-1zM136 8h1v1h-1zM141 8h1v1h-1zM145 8h1v1h-1zM148 8h1v1h-1zM150 8h1v1h-1zM158 8h1v1h-1zM160 8h1v1h-1zM167 8h1v1h-1zM172 8h1v1h-1zM23 9h1v1h-1zM25 9h1v1h-1zM33 9h1v1h-1zM42 9h1v1h-1zM47 9h1v1h-1zM51 9h1v1h-1zM54 9h3v1h-3zM58 9h4v1h-4zM66 9h1v1h-1zM69 9h1v1h-1zM76 9h3v1h-3zM80 9h1v1h-1zM83 9h1v1h-1zM87 9h1v1h-1zM89 9h1v1h-1zM91 9h4v1h-4zM97 9h3v1h-3zM101 9h1v1h-1zM104 9h1v1h-1zM106 9h1v1h-1zM108 9h2v1h-2zM111 9h1v1h-1zM115 9h2v1h-2zM118 9h1v1h-1zM120 9h1v1h-1zM122 9h2v1h-2zM125 9h1v1h-1zM128 9h1v1h-1zM131 9h2v1h-2zM135 9h2v1h-2zM141 9h3v1h-3zM146 9h1v1h-1zM148 9h3v1h-3zM152 9h2v1h-2zM156 9h1v1h-1zM158 9h2v1h-2zM166 9h2v1h-2zM171 9h2v1h-2zM0 15h4v1h-4zM6 15h5v1h-5zM13 15h1v1h-1zM17 15h2v1h-2zM21 15h1v1h-1zM24 15h1v1h-1zM30 15h1v1h-1zM34 15h2v1h-2zM37 15h1v1h-1zM39 15h4v1h-4zM46 15h1v1h-1zM49 15h1v1h-1zM51 15h1v1h-1zM54 15h1v1h-1zM57 15h1v1h-1zM59 15h1v1h-1zM74 15h1v1h-1zM116 15h1v1h-1zM122 15h1v1h-1zM137 15h1v1h-1zM145 15h2v1h-2zM153 15h2v1h-2zM161 15h1v1h-1zM165 15h1v1h-1zM170 15h1v1h-1zM1 17h1v1h-1zM5 17h1v1h-1zM9 17h2v1h-2zM16 17h1v1h-1zM18 17h4v1h-4zM23 17h7v1h-7zM33 17h1v1h-1zM37 17h1v1h-1zM40 17h1v1h-1zM42 17h1v1h-1zM47 17h1v1h-1zM52 17h1v1h-1zM54 17h1v1h-1zM56 17h3v1h-3zM60 17h1v1h-1zM69 17h1v1h-1zM82 17h1v1h-1zM103 17h1v1h-1zM106 17h1v1h-1zM118 17h1v1h-1zM124 17h1v1h-1zM128 17h1v1h-1zM145 17h1v1h-1zM156 17h2v1h-2zM160 17h1v1h-1zM170 17h1v1h-1zM3 20h1v1h-1zM18 20h1v1h-1zM22 20h1v1h-1zM28 20h1v1h-1zM38 20h1v1h-1zM48 20h1v1h-1zM50 20h2v1h-2zM57 20h1v1h-1zM62 20h1v1h-1zM64 20h1v1h-1zM86 20h1v1h-1zM88 20h3v1h-3zM92 20h1v1h-1zM95 20h2v1h-2zM100 20h2v1h-2zM103 20h2v1h-2zM106 20h1v1h-1zM111 20h1v1h-1zM114 20h2v1h-2zM118 20h2v1h-2zM137 20h1v1h-1zM139 20h1v1h-1zM3 21h1v1h-1zM10 21h1v1h-1zM16 21h2v1h-2zM20 21h3v1h-3zM33 21h1v1h-1zM41 21h1v1h-1zM56 21h2v1h-2zM65 21h1v1h-1zM67 21h1v1h-1zM70 21h1v1h-1zM75 21h1v1h-1zM80 21h1v1h-1zM83 21h1v1h-1zM88 21h1v1h-1zM91 21h1v1h-1zM104 21h2v1h-2zM116 21h1v1h-1zM119 21h1v1h-1zM124 21h2v1h-2zM143 21h1v1h-1zM2 22h1v1h-1zM5 22h1v1h-1zM7 22h1v1h-1zM12 22h4v1h-4zM18 22h1v1h-1zM20 22h1v1h-1zM24 22h1v1h-1zM28 22h1v1h-1zM42 22h1v1h-1zM54 22h1v1h-1zM58 22h1v1h-1zM60 22h1v1h-1zM66 22h1v1h-1zM80 22h1v1h-1zM93 22h2v1h-2zM97 22h1v1h-1zM103 22h2v1h-2zM122 22h1v1h-1zM129 22h1v1h-1zM138 22h2v1h-2zM141 22h1v1h-1zM0 24h1v1h-1zM5 24h1v1h-1zM8 24h1v1h-1zM10 24h2v1h-2zM23 24h1v1h-1zM26 24h1v1h-1zM28 24h1v1h-1zM31 24h1v1h-1zM35 24h1v1h-1zM40 24h1v1h-1zM47 24h1v1h-1zM52 24h2v1h-2zM61 24h1v1h-1zM63 24h1v1h-1zM82 24h2v1h-2zM85 24h1v1h-1zM93 24h1v1h-1zM95 24h1v1h-1zM98 24h1v1h-1zM115 24h2v1h-2zM124 24h1v1h-1zM128 24h1v1h-1zM133 24h1v1h-1zM136 24h1v1h-1zM143 24h1v1h-1zM4 26h1v1h-1zM8 26h1v1h-1zM11 26h1v1h-1zM15 26h1v1h-1zM17 26h2v1h-2zM35 26h1v1h-1zM41 26h1v1h-1zM43 26h2v1h-2zM51 26h2v1h-2zM55 26h1v1h-1zM62 26h4v1h-4zM73 26h1v1h-1zM75 26h1v1h-1zM78 26h1v1h-1zM81 26h1v1h-1zM90 26h1v1h-1zM94 26h1v1h-1zM110 26h1v1h-1zM115 26h1v1h-1zM118 26h1v1h-1zM126 26h1v1h-1zM129 26h1v1h-1zM131 26h1v1h-1zM139 26h1v1h-1zM169 26h1v1h-1zM8 28h2v1h-2zM13 28h1v1h-1zM16 28h2v1h-2zM26 28h2v1h-2zM36 28h1v1h-1zM44 28h1v1h-1zM46 28h1v1h-1zM58 28h1v1h-1zM60 28h1v1h-1zM63 28h1v1h-1zM70 28h2v1h-2zM73 28h1v1h-1zM77 28h2v1h-2zM82 28h1v1h-1zM87 28h1v1h-1zM92 28h2v1h-2zM100 28h1v1h-1zM102 28h1v1h-1zM104 28h1v1h-1zM107 28h1v1h-1zM113 28h1v1h-1zM132 28h1v1h-1zM134 28h1v1h-1zM136 28h1v1h-1zM143 28h1v1h-1zM14 29h1v1h-1z"/><path fill="#3c2436" d="M164 6h1v1h-1zM120 25h1v1h-1z"/><path fill="#7e6048" d="M16 7h1v1h-1zM143 18h1v1h-1zM170 18h1v1h-1z"/><path fill="#4e4e18" d="M140 7h1v1h-1zM21 18h1v1h-1zM118 27h1v1h-1zM105 29h1v1h-1z"/><path fill="#9c7e42" d="M142 7h1v1h-1z"/><path fill="#4e422a" d="M8 8h1v1h-1zM20 9h1v1h-1zM39 9h1v1h-1zM64 9h1v1h-1zM164 9h1v1h-1zM25 15h1v1h-1zM129 15h1v1h-1zM83 17h1v1h-1zM161 17h1v1h-1zM73 21h1v1h-1zM145 24h1v1h-1zM108 26h1v1h-1z"/><path fill="#7e722a" d="M11 8h1v1h-1zM132 15h2v1h-2zM144 15h1v1h-1zM151 15h1v1h-1zM111 17h1v1h-1zM132 17h1v1h-1zM136 21h1v1h-1zM168 21h1v1h-1zM166 22h1v1h-1zM170 24h1v1h-1zM169 28h1v1h-1z"/><path fill="#84782a" d="M14 8h1v1h-1zM52 9h1v1h-1zM104 17h1v1h-1zM126 17h1v1h-1zM134 17h1v1h-1zM146 22h1v1h-1zM46 24h1v1h-1zM172 24h1v1h-1zM160 26h1v1h-1z"/><path fill="#8a7e24" d="M23 8h1v1h-1zM46 8h1v1h-1zM35 9h1v1h-1zM136 15h1v1h-1zM144 21h2v1h-2zM148 22h1v1h-1zM148 24h1v1h-1zM158 24h1v1h-1zM145 26h1v1h-1zM159 26h1v1h-1z"/><path fill="#7e7824" d="M26 8h1v1h-1z"/><path fill="#6c602a" d="M28 8h1v1h-1zM54 8h1v1h-1zM57 8h1v1h-1zM48 9h1v1h-1zM112 15h1v1h-1zM107 17h2v1h-2zM117 17h1v1h-1zM164 17h1v1h-1zM167 26h1v1h-1z"/><path fill="#3c3024" d="M29 8h1v1h-1zM102 8h1v1h-1zM143 8h1v1h-1zM153 8h1v1h-1zM165 8h1v1h-1zM34 9h1v1h-1zM53 9h1v1h-1zM74 9h1v1h-1zM154 9h1v1h-1zM68 15h1v1h-1zM72 15h1v1h-1zM127 15h1v1h-1zM149 17h1v1h-1zM86 22h1v1h-1zM113 24h1v1h-1zM122 26h1v1h-1zM84 28h1v1h-1z"/><path fill="#907e24" d="M35 8h1v1h-1zM44 8h1v1h-1zM48 8h1v1h-1zM56 8h1v1h-1zM5 9h1v1h-1zM7 9h1v1h-1zM15 9h1v1h-1zM144 20h1v1h-1z"/><path fill="#72662a" d="M36 8h1v1h-1zM91 17h1v1h-1zM94 17h1v1h-1zM102 17h1v1h-1zM159 21h1v1h-1zM130 22h1v1h-1zM163 26h1v1h-1zM171 28h1v1h-1z"/><path fill="#2a0c2a" d="M39 8h1v1h-1zM70 8h1v1h-1zM88 8h1v1h-1zM91 8h1v1h-1zM100 8h1v1h-1zM115 8h1v1h-1zM120 8h2v1h-2zM130 8h1v1h-1zM134 8h1v1h-1zM151 8h1v1h-1zM161 8h1v1h-1zM67 9h1v1h-1zM71 9h1v1h-1zM84 9h1v1h-1zM95 9h1v1h-1zM121 9h1v1h-1zM124 9h1v1h-1zM129 9h1v1h-1zM140 9h1v1h-1zM151 9h1v1h-1zM165 9h1v1h-1zM14 15h1v1h-1zM44 15h1v1h-1zM67 15h1v1h-1zM84 15h1v1h-1zM138 15h1v1h-1zM148 15h1v1h-1zM157 15h1v1h-1zM163 15h1v1h-1zM7 17h1v1h-1zM14 17h1v1h-1zM140 17h1v1h-1zM153 17h1v1h-1zM5 20h1v1h-1zM7 20h1v1h-1zM11 20h1v1h-1zM14 20h1v1h-1zM16 20h1v1h-1zM24 20h1v1h-1zM30 20h2v1h-2zM34 20h1v1h-1zM40 20h1v1h-1zM44 20h1v1h-1zM46 20h1v1h-1zM55 20h1v1h-1zM60 20h2v1h-2zM63 20h1v1h-1zM65 20h1v1h-1zM72 20h1v1h-1zM87 20h1v1h-1zM94 20h1v1h-1zM123 20h1v1h-1zM126 20h2v1h-2zM132 20h1v1h-1zM135 20h1v1h-1zM141 20h3v1h-3zM6 21h3v1h-3zM11 21h1v1h-1zM25 21h1v1h-1zM31 21h1v1h-1zM45 21h1v1h-1zM69 21h1v1h-1zM71 21h1v1h-1zM82 21h1v1h-1zM86 21h1v1h-1zM94 21h1v1h-1zM96 21h2v1h-2zM109 21h2v1h-2zM114 21h1v1h-1zM122 21h2v1h-2zM129 21h1v1h-1zM134 21h1v1h-1zM139 21h1v1h-1zM163 21h1v1h-1zM10 22h2v1h-2zM27 22h1v1h-1zM36 22h1v1h-1zM43 22h1v1h-1zM45 22h1v1h-1zM53 22h1v1h-1zM70 22h1v1h-1zM78 22h1v1h-1zM81 22h1v1h-1zM89 22h1v1h-1zM96 22h1v1h-1zM105 22h2v1h-2zM108 22h1v1h-1zM131 22h1v1h-1zM18 24h1v1h-1zM24 24h1v1h-1zM32 24h2v1h-2zM48 24h1v1h-1zM68 24h1v1h-1zM70 24h1v1h-1zM73 24h3v1h-3zM77 24h2v1h-2zM86 24h1v1h-1zM99 24h1v1h-1zM102 24h1v1h-1zM106 24h1v1h-1zM109 24h1v1h-1zM114 24h1v1h-1zM125 24h1v1h-1zM129 24h1v1h-1zM1 26h1v1h-1zM21 26h1v1h-1zM23 26h1v1h-1zM37 26h1v1h-1zM57 26h1v1h-1zM69 26h1v1h-1zM71 26h1v1h-1zM76 26h1v1h-1zM79 26h1v1h-1zM88 26h1v1h-1zM95 26h1v1h-1zM102 26h1v1h-1zM105 26h1v1h-1zM114 26h1v1h-1zM116 26h1v1h-1zM123 26h1v1h-1zM127 26h1v1h-1zM135 26h1v1h-1zM140 26h1v1h-1zM143 26h1v1h-1zM11 27h1v1h-1zM14 28h1v1h-1zM23 28h1v1h-1zM29 28h1v1h-1zM31 28h1v1h-1zM33 28h1v1h-1zM38 28h1v1h-1zM41 28h1v1h-1zM90 28h1v1h-1zM98 28h1v1h-1zM110 28h1v1h-1zM112 28h1v1h-1zM124 28h1v1h-1zM131 28h1v1h-1z"/><path fill="#483c2a" d="M41 8h1v1h-1zM45 9h1v1h-1zM160 9h1v1h-1zM105 15h1v1h-1zM107 15h1v1h-1zM113 15h1v1h-1zM62 17h1v1h-1zM165 24h1v1h-1zM105 28h1v1h-1zM163 28h1v1h-1zM166 28h1v1h-1z"/><path fill="#8a782a" d="M52 8h1v1h-1zM95 15h1v1h-1zM131 17h1v1h-1zM148 17h1v1h-1z"/><path fill="#847824" d="M60 8h1v1h-1zM24 9h1v1h-1zM142 17h1v1h-1zM157 24h1v1h-1zM155 26h1v1h-1zM144 28h1v1h-1z"/><path fill="#302a24" d="M103 8h1v1h-1z"/><path fill="#1e1218" d="M112 8h1v1h-1z"/><path fill="#302424" d="M124 8h1v1h-1zM114 9h1v1h-1zM19 15h1v1h-1zM114 15h1v1h-1zM67 17h1v1h-1zM85 17h1v1h-1zM162 20h1v1h-1zM85 22h1v1h-1zM79 24h1v1h-1zM130 24h1v1h-1zM169 24h1v1h-1zM121 26h1v1h-1z"/><path fill="#24181e" d="M163 8h1v1h-1zM47 15h1v1h-1zM58 15h1v1h-1zM164 15h1v1h-1zM61 21h1v1h-1zM35 22h1v1h-1zM120 22h1v1h-1zM141 26h1v1h-1zM0 28h1v1h-1zM35 28h1v1h-1zM108 28h1v1h-1z"/><path fill="#60542a" d="M169 8h1v1h-1zM104 15h1v1h-1zM135 15h1v1h-1zM72 17h1v1h-1zM114 17h1v1h-1zM138 17h1v1h-1zM12 21h1v1h-1zM160 21h1v1h-1zM171 21h1v1h-1zM100 24h1v1h-1zM154 28h1v1h-1z"/><path fill="#604e2a" d="M9 9h1v1h-1zM38 9h1v1h-1zM149 15h1v1h-1zM115 17h1v1h-1z"/><path fill="#423624" d="M19 9h1v1h-1zM96 9h1v1h-1zM167 15h1v1h-1zM157 20h1v1h-1zM101 21h1v1h-1zM168 24h1v1h-1zM142 28h1v1h-1z"/><path fill="#eae424" d="M21 9h1v1h-1zM156 29h1v1h-1z"/><path fill="#665a2a" d="M26 9h1v1h-1zM68 9h1v1h-1zM63 15h1v1h-1zM89 15h1v1h-1zM112 17h1v1h-1zM120 17h1v1h-1zM133 17h1v1h-1zM135 17h1v1h-1zM170 20h1v1h-1zM20 26h1v1h-1zM147 26h1v1h-1z"/><path fill="#362a24" d="M28 9h1v1h-1zM72 9h2v1h-2zM168 9h1v1h-1zM20 15h1v1h-1zM96 15h1v1h-1zM100 15h1v1h-1zM128 15h1v1h-1zM35 17h1v1h-1zM76 17h1v1h-1zM150 17h1v1h-1zM155 17h1v1h-1zM159 17h1v1h-1zM69 22h1v1h-1zM65 24h1v1h-1zM67 26h1v1h-1zM149 28h1v1h-1z"/><path fill="#2a1230" d="M29 9h1v1h-1zM40 9h1v1h-1zM44 9h1v1h-1zM49 9h1v1h-1zM57 9h1v1h-1zM62 9h1v1h-1zM75 9h1v1h-1zM79 9h1v1h-1zM81 9h1v1h-1zM86 9h1v1h-1zM110 9h1v1h-1zM112 9h1v1h-1zM117 9h1v1h-1zM134 9h1v1h-1zM163 9h1v1h-1zM169 9h2v1h-2zM4 15h2v1h-2zM11 15h2v1h-2zM16 15h1v1h-1zM23 15h1v1h-1zM26 15h3v1h-3zM31 15h3v1h-3zM38 15h1v1h-1zM45 15h1v1h-1zM50 15h1v1h-1zM52 15h2v1h-2zM55 15h2v1h-2zM60 15h1v1h-1zM79 15h1v1h-1zM108 15h1v1h-1zM120 15h1v1h-1zM123 15h1v1h-1zM140 15h1v1h-1zM142 15h1v1h-1zM150 15h1v1h-1zM152 15h1v1h-1zM155 15h2v1h-2zM158 15h3v1h-3zM162 15h1v1h-1zM166 15h1v1h-1zM169 15h1v1h-1zM171 15h2v1h-2zM0 17h1v1h-1zM2 17h3v1h-3zM6 17h1v1h-1zM8 17h1v1h-1zM11 17h3v1h-3zM15 17h1v1h-1zM22 17h1v1h-1zM30 17h3v1h-3zM34 17h1v1h-1zM36 17h1v1h-1zM39 17h1v1h-1zM43 17h2v1h-2zM46 17h1v1h-1zM48 17h3v1h-3zM53 17h1v1h-1zM55 17h1v1h-1zM59 17h1v1h-1zM84 17h1v1h-1zM89 17h1v1h-1zM109 17h1v1h-1zM119 17h1v1h-1zM123 17h1v1h-1zM127 17h1v1h-1zM147 17h1v1h-1zM151 17h2v1h-2zM165 17h2v1h-2zM168 17h1v1h-1zM172 17h1v1h-1zM0 19h1v1h-1z"/><path fill="#42362a" d="M37 9h1v1h-1zM85 9h1v1h-1zM147 15h1v1h-1zM169 17h1v1h-1zM110 22h1v1h-1zM25 24h1v1h-1zM164 26h1v1h-1zM62 28h1v1h-1zM129 28h1v1h-1z"/><path fill="#6c5a2a" d="M43 9h1v1h-1z"/><path fill="#66542a" d="M46 9h1v1h-1zM63 9h1v1h-1zM71 15h1v1h-1zM122 17h1v1h-1z"/><path fill="#5a4e2a" d="M50 9h1v1h-1zM65 9h1v1h-1zM162 9h1v1h-1zM48 15h1v1h-1zM103 15h1v1h-1zM117 15h1v1h-1zM61 17h1v1h-1zM86 17h1v1h-1zM100 17h1v1h-1zM55 21h1v1h-1zM153 21h1v1h-1zM144 24h1v1h-1z"/><path fill="#3c302a" d="M88 9h1v1h-1z"/><path fill="#362424" d="M100 9h1v1h-1zM139 17h1v1h-1zM162 17h1v1h-1z"/><path fill="#180c18" d="M113 9h1v1h-1zM17 17h1v1h-1zM146 17h1v1h-1zM68 26h1v1h-1zM66 28h1v1h-1z"/><path fill="#1e121e" d="M119 9h1v1h-1zM127 9h1v1h-1zM157 9h1v1h-1zM29 15h1v1h-1zM43 15h1v1h-1zM168 15h1v1h-1zM163 17h1v1h-1zM167 17h1v1h-1zM142 21h1v1h-1zM64 22h1v1h-1zM39 28h1v1h-1z"/><path fill="#3c2a24" d="M133 9h1v1h-1zM101 15h1v1h-1z"/><path fill="#2a1e1e" d="M145 9h1v1h-1zM139 15h1v1h-1zM12 26h1v1h-1zM31 26h1v1h-1zM80 26h1v1h-1z"/><path fill="#301824" d="M45 10h1v1h-1z"/><path fill="#361e2a" d="M49 10h1v1h-1z"/><path fill="#a8a224" d="M78 10h1v1h-1z"/><path fill="#665436" d="M109 10h1v1h-1zM61 12h1v1h-1zM92 23h1v1h-1zM104 23h1v1h-1z"/><path fill="#3c242a" d="M141 10h1v1h-1z"/><path fill="#543048" d="M1 11h1v1h-1zM83 11h1v1h-1z"/><path fill="#4e2442" d="M2 11h1v1h-1z"/><path fill="#661e6c" d="M4 11h3v1h-3zM8 11h3v1h-3zM12 11h1v1h-1zM16 11h5v1h-5zM22 11h1v1h-1zM25 11h2v1h-2zM29 11h2v1h-2zM34 11h1v1h-1zM36 11h2v1h-2zM39 11h1v1h-1zM42 11h1v1h-1zM45 11h1v1h-1zM47 11h1v1h-1zM50 11h1v1h-1zM55 11h1v1h-1zM59 11h2v1h-2zM91 11h1v1h-1zM98 11h2v1h-2zM101 11h1v1h-1zM109 11h2v1h-2zM112 11h1v1h-1zM119 11h1v1h-1zM129 11h2v1h-2zM140 11h4v1h-4zM145 11h2v1h-2zM149 11h2v1h-2zM152 11h1v1h-1zM154 11h1v1h-1zM156 11h2v1h-2zM160 11h4v1h-4zM166 11h1v1h-1zM169 11h2v1h-2zM172 11h1v1h-1z"/><path fill="#848418" d="M7 11h1v1h-1zM114 12h1v1h-1zM70 14h1v1h-1zM162 28h1v1h-1zM23 29h1v1h-1z"/><path fill="#7e544e" d="M15 11h1v1h-1zM62 11h1v1h-1z"/><path fill="#481e42" d="M24 11h1v1h-1z"/><path fill="#724e4e" d="M27 11h1v1h-1z"/><path fill="#6c4248" d="M35 11h1v1h-1z"/><path fill="#66186c" d="M40 11h2v1h-2zM57 11h1v1h-1zM63 11h1v1h-1zM81 11h1v1h-1zM115 11h1v1h-1zM128 11h1v1h-1zM151 11h1v1h-1z"/><path fill="#78544e" d="M52 11h1v1h-1z"/><path fill="#661e72" d="M54 11h1v1h-1zM80 11h1v1h-1zM153 11h1v1h-1z"/><path fill="#5a3648" d="M58 11h1v1h-1zM116 11h1v1h-1zM127 18h1v1h-1z"/><path fill="#7e5a4e" d="M70 11h1v1h-1z"/><path fill="#a87e48" d="M85 11h1v1h-1zM139 11h1v1h-1z"/><path fill="#7e5448" d="M104 11h1v1h-1z"/><path fill="#966c48" d="M137 11h1v1h-1z"/><path fill="#6c484e" d="M168 11h1v1h-1z"/><path fill="#725a36" d="M25 12h1v1h-1zM28 12h1v1h-1zM98 27h1v1h-1zM116 27h1v1h-1z"/><path fill="#4e3630" d="M49 12h1v1h-1zM67 12h1v1h-1zM108 23h1v1h-1z"/><path fill="#8a8a18" d="M104 12h1v1h-1zM74 14h1v1h-1zM88 17h1v1h-1zM148 20h1v1h-1zM166 24h1v1h-1z"/><path fill="#5a483c" d="M115 12h1v1h-1z"/><path fill="#e4de24" d="M121 12h1v1h-1zM83 15h1v1h-1zM156 23h1v1h-1zM157 26h1v1h-1zM147 27h1v1h-1zM169 27h1v1h-1zM146 29h1v1h-1z"/><path fill="#7e6636" d="M138 12h1v1h-1z"/><path fill="#1e1e12" d="M165 12h1v1h-1z"/><path fill="#784e54" d="M0 13h1v1h-1zM87 13h1v1h-1zM119 13h1v1h-1zM38 14h1v1h-1zM85 14h1v1h-1z"/><path fill="#663c4e" d="M2 13h1v1h-1zM18 13h1v1h-1zM149 13h1v1h-1zM156 13h1v1h-1zM35 14h1v1h-1zM152 14h1v1h-1z"/><path fill="#781e7e" d="M3 13h1v1h-1zM7 13h1v1h-1zM11 13h2v1h-2zM14 13h2v1h-2zM17 13h1v1h-1zM23 13h1v1h-1zM25 13h5v1h-5zM33 13h1v1h-1zM35 13h4v1h-4zM40 13h1v1h-1zM42 13h4v1h-4zM49 13h1v1h-1zM51 13h2v1h-2zM54 13h1v1h-1zM58 13h1v1h-1zM60 13h1v1h-1zM70 13h2v1h-2zM79 13h1v1h-1zM100 13h3v1h-3zM110 13h1v1h-1zM113 13h1v1h-1zM115 13h1v1h-1zM127 13h1v1h-1zM134 13h1v1h-1zM137 13h2v1h-2zM144 13h5v1h-5zM150 13h3v1h-3zM154 13h1v1h-1zM163 13h1v1h-1zM165 13h1v1h-1zM168 13h5v1h-5z"/><path fill="#781e84" d="M4 13h1v1h-1zM131 13h1v1h-1zM119 14h1v1h-1z"/><path fill="#8a6054" d="M5 13h1v1h-1zM109 13h1v1h-1zM125 14h1v1h-1zM127 14h1v1h-1z"/><path fill="#7e4e54" d="M6 13h1v1h-1zM41 13h1v1h-1zM132 13h1v1h-1zM163 14h1v1h-1z"/><path fill="#542448" d="M8 13h1v1h-1zM13 13h1v1h-1zM19 13h1v1h-1zM56 13h1v1h-1zM82 13h1v1h-1zM120 13h2v1h-2zM139 13h1v1h-1zM21 14h1v1h-1zM71 14h1v1h-1zM92 14h1v1h-1zM94 14h1v1h-1zM131 14h1v1h-1zM141 14h1v1h-1z"/><path fill="#66364e" d="M9 13h1v1h-1zM118 13h1v1h-1zM13 14h1v1h-1zM84 14h1v1h-1z"/><path fill="#542a48" d="M10 13h1v1h-1zM31 13h1v1h-1zM59 13h1v1h-1zM122 13h1v1h-1zM5 14h1v1h-1zM42 14h1v1h-1z"/><path fill="#421242" d="M20 13h1v1h-1zM162 13h1v1h-1z"/><path fill="#60364e" d="M21 13h1v1h-1zM55 13h1v1h-1zM158 13h1v1h-1zM167 13h1v1h-1zM16 14h1v1h-1zM137 14h1v1h-1z"/><path fill="#421842" d="M22 13h1v1h-1zM53 13h1v1h-1zM34 14h1v1h-1zM59 14h1v1h-1z"/><path fill="#6c3c4e" d="M24 13h1v1h-1zM78 13h1v1h-1zM142 13h1v1h-1zM155 13h1v1h-1zM166 13h1v1h-1z"/><path fill="#724854" d="M30 13h1v1h-1zM74 13h1v1h-1zM90 13h1v1h-1zM128 13h1v1h-1zM161 13h1v1h-1zM167 14h1v1h-1z"/><path fill="#60304e" d="M32 13h1v1h-1zM50 13h1v1h-1zM43 14h1v1h-1zM50 14h1v1h-1zM121 14h1v1h-1z"/><path fill="#5a304e" d="M46 13h1v1h-1zM68 13h1v1h-1zM164 13h1v1h-1zM46 14h1v1h-1zM89 14h1v1h-1z"/><path fill="#4e2448" d="M47 13h1v1h-1zM123 13h1v1h-1zM129 13h1v1h-1zM140 13h1v1h-1z"/><path fill="#481848" d="M48 13h1v1h-1zM3 14h1v1h-1zM57 14h1v1h-1zM146 14h1v1h-1z"/><path fill="#7e5454" d="M57 13h1v1h-1zM19 14h1v1h-1zM47 14h1v1h-1zM63 14h1v1h-1zM139 14h1v1h-1z"/><path fill="#906054" d="M61 13h1v1h-1zM160 13h1v1h-1zM11 14h1v1h-1zM20 14h1v1h-1zM58 14h1v1h-1zM136 14h1v1h-1z"/><path fill="#6c424e" d="M63 13h1v1h-1z"/><path fill="#8a5a54" d="M80 13h1v1h-1zM126 13h1v1h-1zM7 14h1v1h-1zM68 14h1v1h-1z"/><path fill="#784854" d="M81 13h1v1h-1zM25 14h1v1h-1zM31 14h1v1h-1zM40 14h1v1h-1zM49 14h1v1h-1zM156 14h1v1h-1zM166 14h1v1h-1z"/><path fill="#90901e" d="M85 13h1v1h-1zM98 13h1v1h-1zM80 14h1v1h-1zM90 14h1v1h-1zM146 23h1v1h-1zM153 28h1v1h-1zM151 29h1v1h-1z"/><path fill="#845a54" d="M86 13h1v1h-1zM94 13h1v1h-1zM9 14h1v1h-1z"/><path fill="#9c6c54" d="M88 13h1v1h-1zM97 13h1v1h-1zM61 14h1v1h-1zM72 14h1v1h-1zM77 14h1v1h-1z"/><path fill="#a27854" d="M91 13h1v1h-1zM1 14h1v1h-1zM65 14h1v1h-1zM155 14h1v1h-1z"/><path fill="#ae844e" d="M92 13h1v1h-1zM103 13h1v1h-1zM124 13h1v1h-1zM143 13h1v1h-1z"/><path fill="#6c4254" d="M96 13h1v1h-1z"/><path fill="#966c54" d="M104 13h1v1h-1z"/><path fill="#ae7e54" d="M106 13h1v1h-1zM130 13h1v1h-1z"/><path fill="#9c7254" d="M107 13h1v1h-1zM135 14h1v1h-1z"/><path fill="#a87e4e" d="M114 13h1v1h-1z"/><path fill="#a87e54" d="M116 13h1v1h-1zM102 14h1v1h-1zM164 14h1v1h-1z"/><path fill="#966654" d="M117 13h1v1h-1zM136 13h1v1h-1zM69 14h1v1h-1zM126 14h1v1h-1z"/><path fill="#b4844e" d="M133 13h1v1h-1z"/><path fill="#b48454" d="M135 13h1v1h-1zM82 14h1v1h-1zM113 14h1v1h-1z"/><path fill="#481842" d="M153 13h1v1h-1z"/><path fill="#481e48" d="M159 13h1v1h-1zM55 14h1v1h-1z"/><path fill="#845454" d="M0 14h1v1h-1zM2 14h1v1h-1zM138 14h1v1h-1z"/><path fill="#a87854" d="M4 14h1v1h-1z"/><path fill="#7e1e84" d="M6 14h1v1h-1zM52 14h1v1h-1zM112 14h1v1h-1z"/><path fill="#7e2484" d="M8 14h1v1h-1zM12 14h1v1h-1zM23 14h1v1h-1zM28 14h1v1h-1zM32 14h2v1h-2zM36 14h1v1h-1zM44 14h1v1h-1zM48 14h1v1h-1zM53 14h1v1h-1zM56 14h1v1h-1zM76 14h1v1h-1zM79 14h1v1h-1zM96 14h4v1h-4zM101 14h1v1h-1zM105 14h1v1h-1zM109 14h2v1h-2zM114 14h1v1h-1zM118 14h1v1h-1zM120 14h1v1h-1zM123 14h1v1h-1zM130 14h1v1h-1zM133 14h1v1h-1zM140 14h1v1h-1zM142 14h1v1h-1zM149 14h1v1h-1zM154 14h1v1h-1zM157 14h3v1h-3zM165 14h1v1h-1zM168 14h2v1h-2z"/><path fill="#6c3c54" d="M10 14h1v1h-1zM15 14h1v1h-1zM161 14h1v1h-1zM170 14h1v1h-1z"/><path fill="#481248" d="M24 14h1v1h-1z"/><path fill="#542a4e" d="M26 14h1v1h-1zM100 14h1v1h-1z"/><path fill="#54244e" d="M27 14h1v1h-1z"/><path fill="#724254" d="M30 14h1v1h-1zM54 14h1v1h-1z"/><path fill="#5a2a4e" d="M37 14h1v1h-1zM39 14h1v1h-1zM95 14h1v1h-1zM103 14h2v1h-2zM108 14h1v1h-1zM124 14h1v1h-1z"/><path fill="#906654" d="M41 14h1v1h-1zM66 14h1v1h-1z"/><path fill="#544e18" d="M60 14h1v1h-1z"/><path fill="#ae8454" d="M116 14h1v1h-1zM134 14h1v1h-1z"/><path fill="#4e1e48" d="M144 14h1v1h-1zM148 14h1v1h-1z"/><path fill="#663c54" d="M147 14h1v1h-1zM160 14h1v1h-1z"/><path fill="#663654" d="M153 14h1v1h-1z"/><path fill="#42421e" d="M172 14h1v1h-1zM86 18h1v1h-1z"/><path fill="#180c1e" d="M22 15h1v1h-1z"/><path fill="#4e3c2a" d="M61 15h1v1h-1zM125 15h1v1h-1zM171 17h1v1h-1z"/><path fill="#54482a" d="M75 15h1v1h-1zM91 15h1v1h-1zM41 17h1v1h-1zM74 17h1v1h-1zM98 17h1v1h-1zM154 17h1v1h-1zM16 22h1v1h-1zM92 24h1v1h-1zM144 26h1v1h-1zM158 26h1v1h-1zM139 28h1v1h-1z"/><path fill="#78662a" d="M76 15h1v1h-1z"/><path fill="#5a482a" d="M92 15h1v1h-1z"/><path fill="#665a30" d="M98 15h1v1h-1z"/><path fill="#48362a" d="M106 15h1v1h-1z"/><path fill="#786c2a" d="M126 15h1v1h-1zM131 15h1v1h-1zM79 17h1v1h-1zM161 28h1v1h-1z"/><path fill="#785a3c" d="M12 16h1v1h-1z"/><path fill="#543636" d="M18 16h1v1h-1z"/><path fill="#604e3c" d="M23 16h1v1h-1z"/><path fill="#30122a" d="M40 16h1v1h-1z"/><path fill="#5a5a18" d="M58 16h1v1h-1zM81 27h1v1h-1z"/><path fill="#66483c" d="M85 16h1v1h-1zM169 19h1v1h-1z"/><path fill="#7e603c" d="M116 16h1v1h-1z"/><path fill="#908a18" d="M65 17h1v1h-1z"/><path fill="#2a181e" d="M80 17h1v1h-1z"/><path fill="#908a1e" d="M87 17h1v1h-1zM165 22h1v1h-1z"/><path fill="#b4b42a" d="M141 17h1v1h-1z"/><path fill="#967842" d="M27 18h1v1h-1z"/><path fill="#9c7842" d="M29 18h1v1h-1z"/><path fill="#3c3c1e" d="M57 18h1v1h-1z"/><path fill="#6c4e48" d="M69 18h1v1h-1zM157 18h1v1h-1z"/><path fill="#5a3c42" d="M159 18h1v1h-1zM117 25h1v1h-1zM143 25h1v1h-1z"/><path fill="#484218" d="M160 18h1v1h-1z"/><path fill="#361830" d="M1 19h1v1h-1zM31 19h1v1h-1zM71 25h1v1h-1z"/><path fill="#786042" d="M3 19h1v1h-1zM132 19h1v1h-1z"/><path fill="#4e1854" d="M5 19h2v1h-2zM13 19h1v1h-1zM18 19h1v1h-1zM20 19h1v1h-1zM37 19h1v1h-1zM52 19h2v1h-2zM56 19h1v1h-1zM60 19h1v1h-1zM93 19h1v1h-1zM95 19h1v1h-1zM113 19h1v1h-1zM136 19h1v1h-1zM140 19h1v1h-1zM143 19h1v1h-1zM145 19h1v1h-1zM159 19h1v1h-1zM165 19h1v1h-1z"/><path fill="#4e185a" d="M7 19h1v1h-1zM10 19h1v1h-1zM12 19h1v1h-1zM15 19h1v1h-1zM19 19h1v1h-1zM24 19h1v1h-1zM27 19h1v1h-1zM33 19h1v1h-1zM38 19h2v1h-2zM45 19h1v1h-1zM47 19h1v1h-1zM54 19h1v1h-1zM59 19h1v1h-1zM76 19h1v1h-1zM86 19h1v1h-1zM103 19h1v1h-1zM115 19h1v1h-1zM122 19h1v1h-1zM129 19h1v1h-1zM137 19h3v1h-3zM172 19h1v1h-1z"/><path fill="#4e303c" d="M14 19h1v1h-1zM16 19h1v1h-1zM133 19h1v1h-1zM144 19h1v1h-1zM1 25h1v1h-1zM50 25h1v1h-1zM60 25h1v1h-1zM66 25h1v1h-1zM103 25h1v1h-1z"/><path fill="#54363c" d="M17 19h1v1h-1zM50 19h1v1h-1zM83 19h1v1h-1zM100 19h1v1h-1zM150 19h1v1h-1zM167 19h1v1h-1zM80 25h1v1h-1zM131 25h1v1h-1zM142 25h1v1h-1z"/><path fill="#5a3c3c" d="M22 19h1v1h-1zM123 19h1v1h-1zM51 25h1v1h-1zM83 25h1v1h-1z"/><path fill="#664842" d="M23 19h1v1h-1zM166 19h1v1h-1zM67 25h1v1h-1zM134 25h2v1h-2z"/><path fill="#725442" d="M26 19h1v1h-1zM44 25h1v1h-1zM93 25h1v1h-1zM112 25h1v1h-1zM118 25h1v1h-1zM155 25h1v1h-1z"/><path fill="#422436" d="M28 19h1v1h-1zM73 25h1v1h-1zM115 25h1v1h-1z"/><path fill="#90723c" d="M30 19h1v1h-1zM134 19h1v1h-1z"/><path fill="#4e363c" d="M32 19h1v1h-1zM58 19h1v1h-1z"/><path fill="#3c1e36" d="M36 19h1v1h-1zM99 19h1v1h-1zM120 19h1v1h-1zM163 19h1v1h-1zM168 19h1v1h-1zM40 25h1v1h-1zM121 25h1v1h-1zM129 25h2v1h-2zM138 25h1v1h-1z"/><path fill="#54185a" d="M42 19h1v1h-1zM48 19h1v1h-1zM90 19h1v1h-1zM128 19h1v1h-1zM135 19h1v1h-1zM156 19h1v1h-1zM171 19h1v1h-1zM0 25h1v1h-1zM2 25h2v1h-2zM12 25h1v1h-1zM18 25h1v1h-1zM23 25h1v1h-1zM27 25h3v1h-3zM33 25h2v1h-2zM36 25h2v1h-2zM41 25h1v1h-1zM43 25h1v1h-1zM47 25h2v1h-2zM52 25h1v1h-1zM54 25h2v1h-2zM57 25h1v1h-1zM59 25h1v1h-1zM63 25h1v1h-1zM74 25h1v1h-1zM78 25h1v1h-1zM84 25h1v1h-1zM91 25h2v1h-2zM94 25h1v1h-1zM100 25h1v1h-1zM102 25h1v1h-1zM109 25h1v1h-1zM111 25h1v1h-1zM139 25h1v1h-1zM167 25h1v1h-1z"/><path fill="#301230" d="M44 19h1v1h-1zM99 25h1v1h-1z"/><path fill="#361e36" d="M49 19h1v1h-1z"/><path fill="#6c4e42" d="M55 19h1v1h-1zM96 19h1v1h-1zM70 25h1v1h-1zM76 25h1v1h-1zM165 25h1v1h-1z"/><path fill="#6c4e3c" d="M61 19h1v1h-1zM162 19h1v1h-1z"/><path fill="#785a42" d="M67 19h1v1h-1zM112 19h1v1h-1zM49 25h1v1h-1z"/><path fill="#7e6042" d="M68 19h1v1h-1zM116 19h1v1h-1zM81 25h1v1h-1z"/><path fill="#60423c" d="M73 19h1v1h-1zM111 19h1v1h-1zM124 19h1v1h-1z"/><path fill="#846642" d="M87 19h1v1h-1zM155 19h1v1h-1zM4 25h1v1h-1zM137 25h1v1h-1z"/><path fill="#664e42" d="M91 19h1v1h-1z"/><path fill="#604842" d="M98 19h1v1h-1z"/><path fill="#9c7e3c" d="M101 19h1v1h-1zM114 19h1v1h-1zM125 19h1v1h-1zM158 19h1v1h-1zM141 25h1v1h-1zM157 25h1v1h-1zM170 25h1v1h-1z"/><path fill="#604242" d="M110 19h1v1h-1zM131 19h1v1h-1zM157 19h1v1h-1zM15 25h1v1h-1z"/><path fill="#725a42" d="M121 19h1v1h-1z"/><path fill="#8a6c42" d="M130 19h1v1h-1zM97 25h1v1h-1z"/><path fill="#84663c" d="M142 19h1v1h-1z"/><path fill="#8a7824" d="M145 20h1v1h-1zM146 26h1v1h-1zM161 26h1v1h-1zM145 28h1v1h-1z"/><path fill="#f0ea1e" d="M146 20h1v1h-1zM162 25h1v1h-1zM148 27h1v1h-1zM164 27h1v1h-1zM167 27h1v1h-1zM170 28h1v1h-1zM155 29h1v1h-1z"/><path fill="#7e7224" d="M149 20h1v1h-1z"/><path fill="#3c1242" d="M0 23h1v1h-1zM2 23h1v1h-1zM4 23h3v1h-3zM8 23h8v1h-8zM17 23h10v1h-10zM28 23h8v1h-8zM37 23h3v1h-3zM42 23h10v1h-10zM53 23h4v1h-4zM58 23h4v1h-4zM65 23h1v1h-1zM71 23h2v1h-2zM76 23h1v1h-1zM82 23h1v1h-1zM84 23h2v1h-2zM87 23h3v1h-3zM96 23h1v1h-1zM98 23h3v1h-3zM105 23h2v1h-2zM109 23h3v1h-3zM116 23h2v1h-2zM119 23h1v1h-1zM121 23h4v1h-4zM126 23h1v1h-1zM130 23h5v1h-5zM136 23h1v1h-1zM138 23h2v1h-2zM143 23h1v1h-1zM167 23h1v1h-1z"/><path fill="#2a1224" d="M93 23h1v1h-1zM97 23h1v1h-1z"/><path fill="#181212" d="M129 23h1v1h-1zM88 25h1v1h-1z"/><path fill="#5a541e" d="M153 23h1v1h-1z"/><path fill="#7e6630" d="M158 23h1v1h-1z"/><path fill="#f0f01e" d="M166 23h1v1h-1z"/><path fill="#363024" d="M17 24h1v1h-1z"/><path fill="#301e24" d="M80 24h1v1h-1z"/><path fill="#541860" d="M5 25h1v1h-1zM16 25h1v1h-1zM19 25h4v1h-4zM25 25h1v1h-1zM30 25h1v1h-1zM35 25h1v1h-1zM38 25h1v1h-1zM46 25h1v1h-1zM53 25h1v1h-1zM56 25h1v1h-1zM58 25h1v1h-1zM61 25h1v1h-1zM64 25h1v1h-1zM72 25h1v1h-1zM75 25h1v1h-1zM79 25h1v1h-1zM87 25h1v1h-1zM89 25h1v1h-1zM95 25h2v1h-2zM106 25h1v1h-1zM113 25h1v1h-1zM116 25h1v1h-1zM122 25h1v1h-1zM125 25h1v1h-1zM127 25h1v1h-1zM133 25h1v1h-1zM136 25h1v1h-1z"/><path fill="#5a1860" d="M11 25h1v1h-1zM13 25h1v1h-1zM108 25h1v1h-1zM124 25h1v1h-1zM126 25h1v1h-1z"/><path fill="#785442" d="M31 25h1v1h-1z"/><path fill="#3c1836" d="M39 25h1v1h-1z"/><path fill="#300c30" d="M62 25h1v1h-1zM68 25h1v1h-1z"/><path fill="#54303c" d="M69 25h1v1h-1z"/><path fill="#7e7e18" d="M77 25h1v1h-1z"/><path fill="#421e36" d="M110 25h1v1h-1z"/><path fill="#544236" d="M54 27h1v1h-1zM137 27h1v1h-1zM34 29h1v1h-1z"/><path fill="#301e30" d="M133 27h1v1h-1z"/><path fill="#968430" d="M156 27h1v1h-1z"/><path fill="#4e482a" d="M81 28h1v1h-1z"/><path fill="#a8a21e" d="M165 28h1v1h-1z"/><path fill="#7e781e" d="M167 28h1v1h-1z"/><path fill="#482a36" d="M78 29h1v1h-1z"/><path fill="#2a2a18" d="M96 29h1v1h-1z"/><path fill="#727218" d="M99 29h1v1h-1z"/><path fill="#8a723c" d="M157 29h1v1h-1z"/></g>
<rect x="441.5" y="33.6" width="4" height="266.7" fill="#fff"/>
<line x1="330.7" y1="34.6" x2="330.7" y2="299.3" stroke="#b0a8b0" stroke-width="0.7" opacity="0.8"/>
<line x1="413.7" y1="34.6" x2="413.7" y2="299.3" stroke="#b0a8b0" stroke-width="0.7" opacity="0.8"/>
<text x="447.00" y="42.60" font-size="8.0" text-anchor="start" fill="#1c5a96" font-style="italic" textLength="16.50" lengthAdjust="spacingAndGlyphs" stroke="#1c5a96" stroke-width="0.3">Nkg7</text>
<text x="447.00" y="51.42" font-size="8.0" text-anchor="start" fill="#1c5a96" font-style="italic" textLength="15.80" lengthAdjust="spacingAndGlyphs" stroke="#1c5a96" stroke-width="0.3">Cd7</text>
<text x="447.00" y="60.24" font-size="8.0" text-anchor="start" fill="#1c5a96" font-style="italic" textLength="21.00" lengthAdjust="spacingAndGlyphs" stroke="#1c5a96" stroke-width="0.3">Fcer1g</text>
<text x="447.00" y="69.06" font-size="8.0" text-anchor="start" fill="#1c5a96" font-style="italic" textLength="12.50" lengthAdjust="spacingAndGlyphs" stroke="#1c5a96" stroke-width="0.3">Xcl1</text>
<text x="447.00" y="77.88" font-size="8.0" text-anchor="start" fill="#1c5a96" font-style="italic" textLength="17.00" lengthAdjust="spacingAndGlyphs" stroke="#1c5a96" stroke-width="0.3">Ly6c2</text>
<text x="447.00" y="86.70" font-size="8.0" text-anchor="start" fill="#1c5a96" font-style="italic" textLength="15.80" lengthAdjust="spacingAndGlyphs" stroke="#1c5a96" stroke-width="0.3">Crip1</text>
<text x="447.00" y="95.52" font-size="8.0" text-anchor="start" fill="#1c5a96" font-style="italic" textLength="14.20" lengthAdjust="spacingAndGlyphs" stroke="#1c5a96" stroke-width="0.3">Rgs1</text>
<text x="447.00" y="104.34" font-size="8.0" text-anchor="start" fill="#1c5a96" font-style="italic" textLength="21.90" lengthAdjust="spacingAndGlyphs" stroke="#1c5a96" stroke-width="0.3">S100a6</text>
<text x="447.00" y="113.16" font-size="8.0" text-anchor="start" fill="#1c5a96" font-style="italic" textLength="17.20" lengthAdjust="spacingAndGlyphs" stroke="#1c5a96" stroke-width="0.3">Gzma</text>
<text x="447.00" y="121.98" font-size="8.0" text-anchor="start" fill="#1c5a96" font-style="italic" textLength="12.90" lengthAdjust="spacingAndGlyphs" stroke="#1c5a96" stroke-width="0.3">Ccl5</text>
<text x="447.00" y="130.80" font-size="8.0" text-anchor="start" fill="#c61e3a" font-style="italic" textLength="7.10" lengthAdjust="spacingAndGlyphs" stroke="#c61e3a" stroke-width="0.3">Il4</text>
<text x="447.00" y="139.62" font-size="8.0" text-anchor="start" fill="#c61e3a" font-style="italic" textLength="19.90" lengthAdjust="spacingAndGlyphs" stroke="#c61e3a" stroke-width="0.3">Phgdh</text>
<text x="447.00" y="148.44" font-size="8.0" text-anchor="start" fill="#c61e3a" font-style="italic" textLength="22.30" lengthAdjust="spacingAndGlyphs" stroke="#c61e3a" stroke-width="0.3">Npepl1</text>
<text x="447.00" y="157.26" font-size="8.0" text-anchor="start" fill="#c61e3a" font-style="italic" textLength="11.10" lengthAdjust="spacingAndGlyphs" stroke="#c61e3a" stroke-width="0.3">Lbh</text>
<text x="447.00" y="166.08" font-size="8.0" text-anchor="start" fill="#c61e3a" font-style="italic" textLength="26.90" lengthAdjust="spacingAndGlyphs" stroke="#c61e3a" stroke-width="0.3">Smpdl3a</text>
<text x="447.00" y="174.90" font-size="8.0" text-anchor="start" fill="#c61e3a" font-style="italic" textLength="12.50" lengthAdjust="spacingAndGlyphs" stroke="#c61e3a" stroke-width="0.3">Cd4</text>
<text x="447.00" y="183.72" font-size="8.0" text-anchor="start" fill="#c61e3a" font-style="italic" textLength="24.60" lengthAdjust="spacingAndGlyphs" stroke="#c61e3a" stroke-width="0.3">Izumo1r</text>
<text x="447.00" y="192.54" font-size="8.0" text-anchor="start" fill="#c61e3a" font-style="italic" textLength="13.40" lengthAdjust="spacingAndGlyphs" stroke="#c61e3a" stroke-width="0.3">Il6ra</text>
<text x="447.00" y="201.36" font-size="8.0" text-anchor="start" fill="#c61e3a" font-style="italic" textLength="16.50" lengthAdjust="spacingAndGlyphs" stroke="#c61e3a" stroke-width="0.3">Zfos1</text>
<text x="447.00" y="210.18" font-size="8.0" text-anchor="start" fill="#c61e3a" font-style="italic" textLength="44.90" lengthAdjust="spacingAndGlyphs" stroke="#c61e3a" stroke-width="0.3">1700097n02rik</text>
<text x="447.00" y="219.00" font-size="8.0" text-anchor="start" fill="#30a83e" font-style="italic" textLength="17.70" lengthAdjust="spacingAndGlyphs" stroke="#30a83e" stroke-width="0.3">Pxdc1</text>
<text x="447.00" y="227.82" font-size="8.0" text-anchor="start" fill="#30a83e" font-style="italic" textLength="13.90" lengthAdjust="spacingAndGlyphs" stroke="#30a83e" stroke-width="0.3">Sdc1</text>
<text x="447.00" y="236.64" font-size="8.0" text-anchor="start" fill="#30a83e" font-style="italic" textLength="9.20" lengthAdjust="spacingAndGlyphs" stroke="#30a83e" stroke-width="0.3">Bik</text>
<text x="447.00" y="245.46" font-size="8.0" text-anchor="start" fill="#30a83e" font-style="italic" textLength="13.60" lengthAdjust="spacingAndGlyphs" stroke="#30a83e" stroke-width="0.3">Emb</text>
<text x="447.00" y="254.28" font-size="8.0" text-anchor="start" fill="#30a83e" font-style="italic" textLength="33.60" lengthAdjust="spacingAndGlyphs" stroke="#30a83e" stroke-width="0.3">Tmem176b</text>
<text x="447.00" y="263.10" font-size="8.0" text-anchor="start" fill="#30a83e" font-style="italic" textLength="18.80" lengthAdjust="spacingAndGlyphs" stroke="#30a83e" stroke-width="0.3">Lgals3</text>
<text x="447.00" y="271.92" font-size="8.0" text-anchor="start" fill="#30a83e" font-style="italic" textLength="44.00" lengthAdjust="spacingAndGlyphs" stroke="#30a83e" stroke-width="0.3">5830411n06rik</text>
<text x="447.00" y="280.74" font-size="8.0" text-anchor="start" fill="#30a83e" font-style="italic" textLength="18.40" lengthAdjust="spacingAndGlyphs" stroke="#30a83e" stroke-width="0.3">Pdcd1</text>
<text x="447.00" y="289.56" font-size="8.0" text-anchor="start" fill="#30a83e" font-style="italic" textLength="33.20" lengthAdjust="spacingAndGlyphs" stroke="#30a83e" stroke-width="0.3">Tmem176a</text>
<text x="447.00" y="298.38" font-size="8.0" text-anchor="start" fill="#30a83e" font-style="italic" textLength="16.30" lengthAdjust="spacingAndGlyphs" stroke="#30a83e" stroke-width="0.3">Lmo4</text>
<text x="468.50" y="15.80" font-size="10.2" text-anchor="start" fill="#000" textLength="43.50" lengthAdjust="spacingAndGlyphs" stroke="#000" stroke-width="0.16">Expression</text>
<text x="472.80" y="26.40" font-size="10.2" text-anchor="start" fill="#000" textLength="34.40" lengthAdjust="spacingAndGlyphs" stroke="#000" stroke-width="0.16">(z-score)</text>
<defs><linearGradient id="gC" x1="0" y1="0" x2="0" y2="1"><stop offset="0.000" stop-color="#f5f01e"/><stop offset="0.133" stop-color="#dede23"/><stop offset="0.265" stop-color="#aaaa28"/><stop offset="0.398" stop-color="#767628"/><stop offset="0.531" stop-color="#3e3e1a"/><stop offset="0.663" stop-color="#060506"/><stop offset="0.729" stop-color="#220e26"/><stop offset="0.796" stop-color="#3a1242"/><stop offset="0.928" stop-color="#701e78"/><stop offset="1.000" stop-color="#87238c"/></linearGradient></defs>
<rect x="478.1" y="32.6" width="7" height="76.2" fill="url(#gC)"/>
<line x1="478.1" y1="42.7" x2="479.6" y2="42.7" stroke="#fff" stroke-width="0.6" opacity="0.6"/><line x1="483.6" y1="42.7" x2="485.1" y2="42.7" stroke="#fff" stroke-width="0.6" opacity="0.6"/>
<text x="487.50" y="46.00" font-size="9.2" text-anchor="start" fill="#000" stroke="#000" stroke-width="0.16">2</text>
<line x1="478.1" y1="62.9" x2="479.6" y2="62.9" stroke="#fff" stroke-width="0.6" opacity="0.6"/><line x1="483.6" y1="62.9" x2="485.1" y2="62.9" stroke="#fff" stroke-width="0.6" opacity="0.6"/>
<text x="487.50" y="66.20" font-size="9.2" text-anchor="start" fill="#000" stroke="#000" stroke-width="0.16">1</text>
<line x1="478.1" y1="83.1" x2="479.6" y2="83.1" stroke="#fff" stroke-width="0.6" opacity="0.6"/><line x1="483.6" y1="83.1" x2="485.1" y2="83.1" stroke="#fff" stroke-width="0.6" opacity="0.6"/>
<text x="487.50" y="86.40" font-size="9.2" text-anchor="start" fill="#000" stroke="#000" stroke-width="0.16">0</text>
<line x1="478.1" y1="103.3" x2="479.6" y2="103.3" stroke="#fff" stroke-width="0.6" opacity="0.6"/><line x1="483.6" y1="103.3" x2="485.1" y2="103.3" stroke="#fff" stroke-width="0.6" opacity="0.6"/>
<text x="485.80" y="106.60" font-size="9.2" text-anchor="start" fill="#000" stroke="#000" stroke-width="0.16">-1</text>
<text x="7.50" y="332.80" font-size="12.2" text-anchor="start" fill="#000" font-weight="bold" stroke="#000" stroke-width="0.16">D</text>
<rect x="43.3" y="339.5" width="114.1" height="100.9" fill="none" stroke="#000" stroke-width="1.5"/>
<text x="93.00" y="330.30" font-size="9.0" text-anchor="start" fill="#000" textLength="15.80" lengthAdjust="spacingAndGlyphs" stroke="#000" stroke-width="0.16">Icos</text>
<line x1="40.3" y1="434.8" x2="43.3" y2="434.8" stroke="#000" stroke-width="1"/>
<text x="39.50" y="438.00" font-size="8.6" text-anchor="end" fill="#000" stroke="#000" stroke-width="0.16">1</text>
<line x1="40.3" y1="388.2" x2="43.3" y2="388.2" stroke="#000" stroke-width="1"/>
<text x="39.50" y="391.40" font-size="8.6" text-anchor="end" fill="#000" stroke="#000" stroke-width="0.16">2</text>
<line x1="40.3" y1="360.0" x2="43.3" y2="360.0" stroke="#000" stroke-width="1"/>
<text x="39.50" y="363.20" font-size="8.6" text-anchor="end" fill="#000" stroke="#000" stroke-width="0.16">3</text>
<line x1="64.4" y1="440.4" x2="64.4" y2="443.0" stroke="#000" stroke-width="1"/>
<text x="64.40" y="450.80" font-size="9.1" text-anchor="middle" fill="#1c5a96" textLength="23.00" lengthAdjust="spacingAndGlyphs" stroke="#1c5a96" stroke-width="0.16">iNKT1</text>
<line x1="100.5" y1="440.4" x2="100.5" y2="443.0" stroke="#000" stroke-width="1"/>
<text x="100.50" y="450.80" font-size="9.1" text-anchor="middle" fill="#c61e3a" textLength="23.20" lengthAdjust="spacingAndGlyphs" stroke="#c61e3a" stroke-width="0.16">iNKT2</text>
<line x1="135.8" y1="440.4" x2="135.8" y2="443.0" stroke="#000" stroke-width="1"/>
<text x="135.80" y="450.80" font-size="9.1" text-anchor="middle" fill="#30a83e" textLength="29.40" lengthAdjust="spacingAndGlyphs" stroke="#30a83e" stroke-width="0.16">iNKT17</text>
<rect x="173.2" y="339.6" width="113.0" height="101.0" fill="none" stroke="#000" stroke-width="1.5"/>
<text x="218.70" y="330.30" font-size="9.0" text-anchor="start" fill="#000" textLength="24.00" lengthAdjust="spacingAndGlyphs" stroke="#000" stroke-width="0.16">Pdcd1</text>
<line x1="170.2" y1="435.2" x2="173.2" y2="435.2" stroke="#000" stroke-width="1"/>
<text x="169.40" y="438.40" font-size="8.6" text-anchor="end" fill="#000" stroke="#000" stroke-width="0.16">1</text>
<line x1="170.2" y1="392.0" x2="173.2" y2="392.0" stroke="#000" stroke-width="1"/>
<text x="169.40" y="395.20" font-size="8.6" text-anchor="end" fill="#000" stroke="#000" stroke-width="0.16">2</text>
<line x1="170.2" y1="365.4" x2="173.2" y2="365.4" stroke="#000" stroke-width="1"/>
<text x="169.40" y="368.60" font-size="8.6" text-anchor="end" fill="#000" stroke="#000" stroke-width="0.16">3</text>
<line x1="195.0" y1="440.6" x2="195.0" y2="443.20000000000005" stroke="#000" stroke-width="1"/>
<text x="195.00" y="450.80" font-size="9.1" text-anchor="middle" fill="#1c5a96" textLength="23.00" lengthAdjust="spacingAndGlyphs" stroke="#1c5a96" stroke-width="0.16">iNKT1</text>
<line x1="230.8" y1="440.6" x2="230.8" y2="443.20000000000005" stroke="#000" stroke-width="1"/>
<text x="230.80" y="450.80" font-size="9.1" text-anchor="middle" fill="#c61e3a" textLength="23.20" lengthAdjust="spacingAndGlyphs" stroke="#c61e3a" stroke-width="0.16">iNKT2</text>
<line x1="266.6" y1="440.6" x2="266.6" y2="443.20000000000005" stroke="#000" stroke-width="1"/>
<text x="266.60" y="450.80" font-size="9.1" text-anchor="middle" fill="#30a83e" textLength="29.40" lengthAdjust="spacingAndGlyphs" stroke="#30a83e" stroke-width="0.16">iNKT17</text>
<rect x="303.5" y="339.6" width="113.6" height="100.6" fill="none" stroke="#000" stroke-width="1.5"/>
<text x="352.30" y="330.30" font-size="9.0" text-anchor="start" fill="#000" textLength="16.70" lengthAdjust="spacingAndGlyphs" stroke="#000" stroke-width="0.16">Cd4</text>
<line x1="300.5" y1="435.2" x2="303.5" y2="435.2" stroke="#000" stroke-width="1"/>
<text x="299.70" y="438.40" font-size="8.6" text-anchor="end" fill="#000" stroke="#000" stroke-width="0.16">1</text>
<line x1="300.5" y1="378.5" x2="303.5" y2="378.5" stroke="#000" stroke-width="1"/>
<text x="299.70" y="381.70" font-size="8.6" text-anchor="end" fill="#000" stroke="#000" stroke-width="0.16">2</text>
<line x1="300.5" y1="346.2" x2="303.5" y2="346.2" stroke="#000" stroke-width="1"/>
<text x="299.70" y="349.40" font-size="8.6" text-anchor="end" fill="#000" stroke="#000" stroke-width="0.16">3</text>
<line x1="324.4" y1="440.2" x2="324.4" y2="442.8" stroke="#000" stroke-width="1"/>
<text x="324.40" y="450.80" font-size="9.1" text-anchor="middle" fill="#1c5a96" textLength="23.00" lengthAdjust="spacingAndGlyphs" stroke="#1c5a96" stroke-width="0.16">iNKT1</text>
<line x1="360.5" y1="440.2" x2="360.5" y2="442.8" stroke="#000" stroke-width="1"/>
<text x="360.50" y="450.80" font-size="9.1" text-anchor="middle" fill="#c61e3a" textLength="23.20" lengthAdjust="spacingAndGlyphs" stroke="#c61e3a" stroke-width="0.16">iNKT2</text>
<line x1="396.2" y1="440.2" x2="396.2" y2="442.8" stroke="#000" stroke-width="1"/>
<text x="396.20" y="450.80" font-size="9.1" text-anchor="middle" fill="#30a83e" textLength="29.40" lengthAdjust="spacingAndGlyphs" stroke="#30a83e" stroke-width="0.16">iNKT17</text>
<text x="0" y="0" font-size="8.4" transform="translate(18.6,422.2) rotate(-90)" fill="#000" stroke="#000" stroke-width="0.15" textLength="63.8" lengthAdjust="spacingAndGlyphs">Gene count (log<tspan font-size="5.5" dy="2">10</tspan><tspan dy="-2">)</tspan></text>
<line x1="64.4" y1="354.4" x2="64.4" y2="434.8" stroke="#000" stroke-width="1.1"/>
<line x1="63.2" y1="354.4" x2="65.60000000000001" y2="354.4" stroke="#000" stroke-width="0.8"/>
<path d="M100.80 346.50 L101.08 347.00 L101.46 347.68 L101.90 348.48 L102.40 349.38 L102.93 350.31 L103.47 351.26 L104.00 352.17 L104.50 353.00 L104.98 353.77 L105.47 354.51 L105.96 355.24 L106.46 355.97 L106.96 356.70 L107.47 357.44 L107.98 358.21 L108.50 359.00 L109.03 359.83 L109.57 360.69 L110.12 361.57 L110.67 362.47 L111.22 363.37 L111.76 364.26 L112.29 365.14 L112.80 366.00 L113.32 366.84 L113.88 367.66 L114.45 368.47 L114.99 369.28 L115.50 370.08 L115.93 370.89 L116.28 371.69 L116.50 372.50 L116.59 373.31 L116.58 374.11 L116.47 374.92 L116.29 375.72 L116.06 376.53 L115.81 377.34 L115.55 378.16 L115.30 379.00 L115.05 379.85 L114.77 380.71 L114.46 381.59 L114.13 382.47 L113.79 383.35 L113.46 384.24 L113.12 385.12 L112.80 386.00 L112.49 386.88 L112.18 387.76 L111.87 388.65 L111.56 389.53 L111.24 390.41 L110.93 391.29 L110.62 392.15 L110.30 393.00 L109.99 393.85 L109.68 394.71 L109.38 395.56 L109.08 396.41 L108.76 397.23 L108.43 398.03 L108.08 398.79 L107.70 399.50 L107.28 400.17 L106.82 400.79 L106.33 401.38 L105.83 401.94 L105.33 402.47 L104.85 402.99 L104.40 403.50 L104.00 404.00 L103.63 404.47 L103.29 404.90 L102.96 405.30 L102.66 405.69 L102.38 406.08 L102.13 406.51 L101.90 406.97 L101.70 407.50 L101.53 408.08 L101.38 408.70 L101.26 409.35 L101.16 410.03 L101.09 410.74 L101.04 411.47 L101.01 412.23 L101.00 413.00 L101.01 413.81 L101.04 414.67 L101.09 415.56 L101.16 416.47 L101.26 417.38 L101.38 418.29 L101.53 419.16 L101.70 420.00 L101.91 420.80 L102.16 421.59 L102.44 422.37 L102.74 423.12 L103.05 423.87 L103.37 424.59 L103.69 425.30 L104.00 426.00 L104.31 426.68 L104.64 427.34 L104.97 427.98 L105.31 428.61 L105.63 429.22 L105.95 429.82 L106.24 430.42 L106.50 431.00 L106.74 431.60 L106.96 432.23 L107.17 432.85 L107.36 433.46 L107.53 434.03 L107.67 434.54 L107.80 434.97 L107.90 435.30 L93.10 435.30 L93.20 434.97 L93.33 434.54 L93.47 434.03 L93.64 433.46 L93.83 432.85 L94.04 432.23 L94.26 431.60 L94.50 431.00 L94.76 430.42 L95.05 429.82 L95.37 429.22 L95.69 428.61 L96.03 427.98 L96.36 427.34 L96.69 426.68 L97.00 426.00 L97.31 425.30 L97.63 424.59 L97.95 423.87 L98.26 423.12 L98.56 422.37 L98.84 421.59 L99.09 420.80 L99.30 420.00 L99.47 419.16 L99.62 418.29 L99.74 417.38 L99.84 416.47 L99.91 415.56 L99.96 414.67 L99.99 413.81 L100.00 413.00 L99.99 412.23 L99.96 411.47 L99.91 410.74 L99.84 410.03 L99.74 409.35 L99.62 408.70 L99.47 408.08 L99.30 407.50 L99.10 406.97 L98.87 406.51 L98.62 406.08 L98.34 405.69 L98.04 405.30 L97.71 404.90 L97.37 404.47 L97.00 404.00 L96.60 403.50 L96.15 402.99 L95.67 402.47 L95.17 401.94 L94.67 401.38 L94.18 400.79 L93.72 400.17 L93.30 399.50 L92.92 398.79 L92.57 398.03 L92.24 397.23 L91.92 396.41 L91.62 395.56 L91.32 394.71 L91.01 393.85 L90.70 393.00 L90.38 392.15 L90.07 391.29 L89.76 390.41 L89.44 389.53 L89.13 388.65 L88.82 387.76 L88.51 386.88 L88.20 386.00 L87.88 385.12 L87.54 384.24 L87.21 383.35 L86.87 382.47 L86.54 381.59 L86.23 380.71 L85.95 379.85 L85.70 379.00 L85.45 378.16 L85.19 377.34 L84.94 376.53 L84.71 375.72 L84.53 374.92 L84.42 374.11 L84.41 373.31 L84.50 372.50 L84.72 371.69 L85.07 370.89 L85.50 370.08 L86.01 369.28 L86.55 368.47 L87.12 367.66 L87.68 366.84 L88.20 366.00 L88.71 365.14 L89.24 364.26 L89.78 363.37 L90.33 362.47 L90.88 361.57 L91.43 360.69 L91.97 359.83 L92.50 359.00 L93.02 358.21 L93.53 357.44 L94.04 356.70 L94.54 355.97 L95.04 355.24 L95.53 354.51 L96.02 353.77 L96.50 353.00 L97.00 352.17 L97.53 351.26 L98.07 350.31 L98.60 349.38 L99.10 348.48 L99.54 347.68 L99.92 347.00 L100.20 346.50Z" fill="#c8203a"/>
<path d="M145.80 343.90 L146.08 344.35 L146.45 344.92 L146.90 345.59 L147.40 346.36 L147.91 347.20 L148.42 348.09 L148.89 349.03 L149.30 350.00 L149.68 351.02 L150.08 352.11 L150.47 353.27 L150.84 354.48 L151.16 355.71 L151.43 356.97 L151.61 358.24 L151.70 359.50 L151.68 360.74 L151.58 361.97 L151.39 363.21 L151.15 364.47 L150.86 365.76 L150.52 367.11 L150.17 368.51 L149.80 370.00 L149.40 371.62 L148.94 373.39 L148.43 375.26 L147.90 377.16 L147.36 379.04 L146.81 380.84 L146.29 382.51 L145.80 384.00 L145.33 385.29 L144.87 386.43 L144.41 387.46 L143.96 388.41 L143.52 389.30 L143.09 390.18 L142.69 391.06 L142.30 392.00 L141.94 392.98 L141.60 393.96 L141.28 394.94 L140.97 395.91 L140.67 396.86 L140.38 397.78 L140.09 398.66 L139.80 399.50 L139.50 400.29 L139.20 401.05 L138.90 401.77 L138.61 402.47 L138.32 403.14 L138.06 403.78 L137.82 404.40 L137.60 405.00 L137.41 405.54 L137.23 405.99 L137.08 406.39 L136.94 406.78 L136.82 407.20 L136.72 407.68 L136.65 408.27 L136.60 409.00 L136.57 409.90 L136.57 410.95 L136.59 412.10 L136.64 413.31 L136.70 414.55 L136.78 415.77 L136.88 416.94 L137.00 418.00 L137.14 418.98 L137.31 419.91 L137.50 420.82 L137.71 421.69 L137.93 422.54 L138.16 423.37 L138.38 424.19 L138.60 425.00 L138.82 425.81 L139.06 426.61 L139.30 427.40 L139.55 428.17 L139.79 428.92 L140.02 429.64 L140.22 430.34 L140.40 431.00 L140.55 431.65 L140.69 432.30 L140.81 432.93 L140.91 433.52 L141.00 434.08 L141.08 434.57 L141.15 434.98 L141.20 435.30 L130.40 435.30 L130.45 434.98 L130.52 434.57 L130.60 434.08 L130.69 433.52 L130.79 432.93 L130.91 432.30 L131.05 431.65 L131.20 431.00 L131.38 430.34 L131.58 429.64 L131.81 428.92 L132.05 428.17 L132.30 427.40 L132.54 426.61 L132.78 425.81 L133.00 425.00 L133.22 424.19 L133.44 423.37 L133.67 422.54 L133.89 421.69 L134.10 420.82 L134.29 419.91 L134.46 418.98 L134.60 418.00 L134.72 416.94 L134.82 415.77 L134.90 414.55 L134.96 413.31 L135.01 412.10 L135.03 410.95 L135.03 409.90 L135.00 409.00 L134.95 408.27 L134.88 407.68 L134.78 407.20 L134.66 406.78 L134.52 406.39 L134.37 405.99 L134.19 405.54 L134.00 405.00 L133.78 404.40 L133.54 403.78 L133.28 403.14 L132.99 402.47 L132.70 401.77 L132.40 401.05 L132.10 400.29 L131.80 399.50 L131.51 398.66 L131.22 397.78 L130.93 396.86 L130.63 395.91 L130.32 394.94 L130.00 393.96 L129.66 392.98 L129.30 392.00 L128.91 391.06 L128.51 390.18 L128.08 389.30 L127.64 388.41 L127.19 387.46 L126.73 386.43 L126.27 385.29 L125.80 384.00 L125.31 382.51 L124.79 380.84 L124.24 379.04 L123.70 377.16 L123.17 375.26 L122.66 373.39 L122.20 371.62 L121.80 370.00 L121.43 368.51 L121.08 367.11 L120.74 365.76 L120.45 364.47 L120.21 363.21 L120.02 361.97 L119.92 360.74 L119.90 359.50 L119.99 358.24 L120.17 356.97 L120.44 355.71 L120.76 354.48 L121.13 353.27 L121.52 352.11 L121.92 351.02 L122.30 350.00 L122.71 349.03 L123.18 348.09 L123.69 347.20 L124.20 346.36 L124.70 345.59 L125.15 344.92 L125.52 344.35 L125.80 343.90Z" fill="#3cb44a"/>
<line x1="195.0" y1="368.8" x2="195.0" y2="435.2" stroke="#000" stroke-width="1.1"/>
<line x1="193.8" y1="368.8" x2="196.2" y2="368.8" stroke="#000" stroke-width="0.8"/>
<path d="M231.20 359.60 L231.31 360.08 L231.46 360.71 L231.64 361.46 L231.84 362.30 L232.04 363.20 L232.25 364.14 L232.43 365.08 L232.60 366.00 L232.75 366.92 L232.88 367.89 L233.01 368.88 L233.14 369.90 L233.26 370.93 L233.37 371.96 L233.49 372.99 L233.60 374.00 L233.71 375.01 L233.80 376.02 L233.90 377.04 L233.99 378.06 L234.08 379.07 L234.18 380.07 L234.28 381.05 L234.40 382.00 L234.53 382.93 L234.69 383.84 L234.85 384.74 L235.01 385.62 L235.18 386.49 L235.33 387.34 L235.48 388.18 L235.60 389.00 L235.72 389.80 L235.83 390.57 L235.95 391.32 L236.05 392.06 L236.13 392.79 L236.19 393.52 L236.22 394.26 L236.20 395.00 L236.14 395.75 L236.05 396.50 L235.92 397.25 L235.76 398.00 L235.59 398.75 L235.40 399.50 L235.20 400.25 L235.00 401.00 L234.78 401.76 L234.53 402.52 L234.26 403.29 L233.98 404.06 L233.70 404.82 L233.43 405.57 L233.20 406.30 L233.00 407.00 L232.83 407.67 L232.67 408.30 L232.53 408.90 L232.41 409.50 L232.31 410.10 L232.24 410.70 L232.20 411.33 L232.20 412.00 L232.23 412.70 L232.29 413.43 L232.37 414.18 L232.48 414.94 L232.63 415.71 L232.81 416.48 L233.03 417.24 L233.30 418.00 L233.61 418.76 L233.97 419.52 L234.37 420.29 L234.81 421.06 L235.27 421.82 L235.76 422.57 L236.27 423.30 L236.80 424.00 L237.36 424.68 L237.98 425.34 L238.63 425.99 L239.30 426.62 L239.97 427.24 L240.62 427.84 L241.24 428.43 L241.80 429.00 L242.32 429.56 L242.83 430.10 L243.31 430.63 L243.77 431.15 L244.20 431.65 L244.60 432.12 L244.97 432.57 L245.30 433.00 L245.59 433.41 L245.85 433.81 L246.07 434.19 L246.27 434.55 L246.44 434.88 L246.58 435.17 L246.70 435.41 L246.80 435.60 L214.80 435.60 L214.90 435.41 L215.02 435.17 L215.16 434.88 L215.33 434.55 L215.53 434.19 L215.75 433.81 L216.01 433.41 L216.30 433.00 L216.63 432.57 L217.00 432.12 L217.40 431.65 L217.83 431.15 L218.29 430.63 L218.77 430.10 L219.28 429.56 L219.80 429.00 L220.36 428.43 L220.98 427.84 L221.63 427.24 L222.30 426.62 L222.97 425.99 L223.62 425.34 L224.24 424.68 L224.80 424.00 L225.33 423.30 L225.84 422.57 L226.33 421.82 L226.79 421.06 L227.23 420.29 L227.63 419.52 L227.99 418.76 L228.30 418.00 L228.57 417.24 L228.79 416.48 L228.97 415.71 L229.12 414.94 L229.23 414.18 L229.31 413.43 L229.37 412.70 L229.40 412.00 L229.40 411.33 L229.36 410.70 L229.29 410.10 L229.19 409.50 L229.07 408.90 L228.93 408.30 L228.77 407.67 L228.60 407.00 L228.40 406.30 L228.17 405.57 L227.90 404.82 L227.62 404.06 L227.34 403.29 L227.07 402.52 L226.82 401.76 L226.60 401.00 L226.40 400.25 L226.20 399.50 L226.01 398.75 L225.84 398.00 L225.68 397.25 L225.55 396.50 L225.46 395.75 L225.40 395.00 L225.38 394.26 L225.41 393.52 L225.47 392.79 L225.55 392.06 L225.65 391.32 L225.77 390.57 L225.88 389.80 L226.00 389.00 L226.12 388.18 L226.27 387.34 L226.42 386.49 L226.59 385.62 L226.75 384.74 L226.91 383.84 L227.07 382.93 L227.20 382.00 L227.32 381.05 L227.42 380.07 L227.52 379.07 L227.61 378.06 L227.70 377.04 L227.80 376.02 L227.89 375.01 L228.00 374.00 L228.11 372.99 L228.23 371.96 L228.34 370.93 L228.46 369.90 L228.59 368.88 L228.72 367.89 L228.85 366.92 L229.00 366.00 L229.17 365.08 L229.35 364.14 L229.56 363.20 L229.76 362.30 L229.96 361.46 L230.14 360.71 L230.29 360.08 L230.40 359.60Z" fill="#c8203a"/>
<path d="M268.40 343.80 L268.50 344.19 L268.61 344.71 L268.74 345.32 L268.89 346.01 L269.07 346.74 L269.28 347.50 L269.52 348.26 L269.80 349.00 L270.10 349.71 L270.43 350.42 L270.78 351.13 L271.16 351.87 L271.58 352.64 L272.04 353.46 L272.55 354.34 L273.10 355.30 L273.74 356.33 L274.46 357.41 L275.25 358.55 L276.07 359.74 L276.89 360.99 L277.69 362.28 L278.44 363.62 L279.10 365.00 L279.73 366.48 L280.36 368.07 L280.98 369.73 L281.55 371.43 L282.06 373.13 L282.47 374.78 L282.76 376.35 L282.90 377.80 L282.87 379.13 L282.69 380.38 L282.39 381.57 L281.99 382.70 L281.53 383.80 L281.04 384.87 L280.55 385.93 L280.10 387.00 L279.65 388.07 L279.17 389.13 L278.67 390.18 L278.14 391.20 L277.62 392.20 L277.09 393.17 L276.58 394.10 L276.10 395.00 L275.64 395.85 L275.18 396.64 L274.73 397.40 L274.29 398.12 L273.85 398.84 L273.43 399.55 L273.01 400.26 L272.60 401.00 L272.19 401.76 L271.79 402.52 L271.39 403.29 L270.99 404.06 L270.62 404.82 L270.25 405.57 L269.91 406.30 L269.60 407.00 L269.30 407.67 L269.01 408.30 L268.73 408.90 L268.48 409.50 L268.25 410.10 L268.05 410.70 L267.90 411.33 L267.80 412.00 L267.75 412.70 L267.76 413.43 L267.80 414.18 L267.88 414.94 L267.99 415.71 L268.12 416.48 L268.26 417.24 L268.40 418.00 L268.55 418.75 L268.73 419.50 L268.92 420.25 L269.13 421.00 L269.36 421.75 L269.59 422.50 L269.84 423.25 L270.10 424.00 L270.38 424.75 L270.69 425.51 L271.01 426.27 L271.35 427.03 L271.69 427.78 L272.01 428.53 L272.32 429.27 L272.60 430.00 L272.86 430.76 L273.12 431.56 L273.37 432.38 L273.61 433.18 L273.82 433.93 L274.01 434.60 L274.17 435.17 L274.30 435.60 L258.90 435.60 L259.03 435.17 L259.19 434.60 L259.38 433.93 L259.59 433.18 L259.83 432.38 L260.08 431.56 L260.34 430.76 L260.60 430.00 L260.88 429.27 L261.19 428.53 L261.51 427.78 L261.85 427.03 L262.19 426.27 L262.51 425.51 L262.82 424.75 L263.10 424.00 L263.36 423.25 L263.61 422.50 L263.84 421.75 L264.07 421.00 L264.28 420.25 L264.47 419.50 L264.65 418.75 L264.80 418.00 L264.94 417.24 L265.08 416.48 L265.21 415.71 L265.32 414.94 L265.40 414.18 L265.44 413.43 L265.45 412.70 L265.40 412.00 L265.30 411.33 L265.15 410.70 L264.95 410.10 L264.73 409.50 L264.47 408.90 L264.19 408.30 L263.90 407.67 L263.60 407.00 L263.29 406.30 L262.95 405.57 L262.58 404.82 L262.21 404.06 L261.81 403.29 L261.41 402.52 L261.01 401.76 L260.60 401.00 L260.19 400.26 L259.77 399.55 L259.35 398.84 L258.91 398.12 L258.47 397.40 L258.02 396.64 L257.56 395.85 L257.10 395.00 L256.62 394.10 L256.11 393.17 L255.58 392.20 L255.06 391.20 L254.53 390.18 L254.03 389.13 L253.55 388.07 L253.10 387.00 L252.65 385.93 L252.16 384.87 L251.67 383.80 L251.21 382.70 L250.81 381.57 L250.51 380.38 L250.33 379.13 L250.30 377.80 L250.44 376.35 L250.73 374.78 L251.14 373.13 L251.65 371.43 L252.22 369.73 L252.84 368.07 L253.47 366.48 L254.10 365.00 L254.76 363.62 L255.51 362.28 L256.31 360.99 L257.13 359.74 L257.95 358.55 L258.74 357.41 L259.46 356.33 L260.10 355.30 L260.65 354.34 L261.16 353.46 L261.62 352.64 L262.04 351.87 L262.42 351.13 L262.77 350.42 L263.10 349.71 L263.40 349.00 L263.68 348.26 L263.92 347.50 L264.13 346.74 L264.31 346.01 L264.46 345.32 L264.59 344.71 L264.70 344.19 L264.80 343.80Z" fill="#3cb44a"/>
<line x1="324.4" y1="361" x2="324.4" y2="435.2" stroke="#000" stroke-width="1.1"/>
<line x1="323.2" y1="361" x2="325.59999999999997" y2="361" stroke="#000" stroke-width="0.8"/>
<line x1="396.2" y1="383.7" x2="396.2" y2="435.2" stroke="#000" stroke-width="1.1"/>
<line x1="395.0" y1="383.7" x2="397.4" y2="383.7" stroke="#000" stroke-width="0.8"/>
<path d="M361.30 344.50 L361.46 344.89 L361.68 345.38 L361.95 345.96 L362.24 346.62 L362.54 347.37 L362.82 348.18 L363.08 349.06 L363.30 350.00 L363.47 351.02 L363.62 352.14 L363.76 353.33 L363.88 354.59 L363.98 355.91 L364.09 357.25 L364.19 358.62 L364.30 360.00 L364.42 361.40 L364.53 362.84 L364.65 364.31 L364.76 365.81 L364.87 367.34 L364.96 368.88 L365.04 370.44 L365.10 372.00 L365.14 373.58 L365.18 375.18 L365.19 376.80 L365.20 378.44 L365.19 380.08 L365.18 381.73 L365.14 383.37 L365.10 385.00 L365.04 386.67 L364.95 388.39 L364.85 390.14 L364.73 391.88 L364.61 393.56 L364.50 395.17 L364.39 396.66 L364.30 398.00 L364.21 399.17 L364.11 400.20 L364.02 401.11 L363.93 401.94 L363.85 402.71 L363.80 403.46 L363.78 404.21 L363.80 405.00 L363.86 405.80 L363.94 406.57 L364.05 407.32 L364.18 408.06 L364.34 408.79 L364.53 409.52 L364.75 410.26 L365.00 411.00 L365.28 411.75 L365.60 412.50 L365.95 413.25 L366.32 414.00 L366.72 414.75 L367.14 415.50 L367.56 416.25 L368.00 417.00 L368.46 417.76 L368.96 418.52 L369.49 419.29 L370.03 420.06 L370.57 420.82 L371.08 421.57 L371.56 422.30 L372.00 423.00 L372.39 423.68 L372.75 424.34 L373.09 424.99 L373.41 425.62 L373.70 426.24 L373.98 426.84 L374.25 427.43 L374.50 428.00 L374.74 428.55 L374.96 429.08 L375.17 429.59 L375.36 430.09 L375.54 430.57 L375.70 431.05 L375.86 431.53 L376.00 432.00 L376.13 432.49 L376.25 433.01 L376.35 433.54 L376.44 434.05 L376.52 434.53 L376.59 434.96 L376.65 435.32 L376.70 435.60 L344.30 435.60 L344.35 435.32 L344.41 434.96 L344.48 434.53 L344.56 434.05 L344.65 433.54 L344.75 433.01 L344.87 432.49 L345.00 432.00 L345.14 431.53 L345.30 431.05 L345.46 430.57 L345.64 430.09 L345.83 429.59 L346.04 429.08 L346.26 428.55 L346.50 428.00 L346.75 427.43 L347.02 426.84 L347.30 426.24 L347.59 425.62 L347.91 424.99 L348.25 424.34 L348.61 423.68 L349.00 423.00 L349.44 422.30 L349.92 421.57 L350.43 420.82 L350.97 420.06 L351.51 419.29 L352.04 418.52 L352.54 417.76 L353.00 417.00 L353.44 416.25 L353.86 415.50 L354.28 414.75 L354.68 414.00 L355.05 413.25 L355.40 412.50 L355.72 411.75 L356.00 411.00 L356.25 410.26 L356.47 409.52 L356.66 408.79 L356.82 408.06 L356.95 407.32 L357.06 406.57 L357.14 405.80 L357.20 405.00 L357.22 404.21 L357.20 403.46 L357.15 402.71 L357.07 401.94 L356.98 401.11 L356.89 400.20 L356.79 399.17 L356.70 398.00 L356.61 396.66 L356.50 395.17 L356.39 393.56 L356.27 391.88 L356.15 390.14 L356.05 388.39 L355.96 386.67 L355.90 385.00 L355.86 383.37 L355.82 381.73 L355.81 380.08 L355.80 378.44 L355.81 376.80 L355.82 375.18 L355.86 373.58 L355.90 372.00 L355.96 370.44 L356.04 368.88 L356.13 367.34 L356.24 365.81 L356.35 364.31 L356.47 362.84 L356.58 361.40 L356.70 360.00 L356.81 358.62 L356.91 357.25 L357.02 355.91 L357.12 354.59 L357.24 353.33 L357.38 352.14 L357.53 351.02 L357.70 350.00 L357.92 349.06 L358.18 348.18 L358.46 347.37 L358.76 346.62 L359.05 345.96 L359.32 345.38 L359.54 344.89 L359.70 344.50Z" fill="#c8203a"/>
<path d="M114.1 383.7h0M88.7 369.0h0M105.1 371.7h0M89.9 384.4h0M101.9 370.6h0M110.5 389.3h0M94.0 371.9h0M93.3 387.8h0M94.1 401.9h0M102.6 351.6h0M94.5 392.3h0M95.2 392.1h0M116.7 376.2h0M103.3 365.6h0M99.4 360.1h0M87.2 378.2h0M94.7 365.3h0M92.0 359.3h0M111.9 382.8h0M112.8 372.8h0M98.5 352.8h0M108.4 390.4h0M98.4 364.1h0M105.3 354.1h0M93.4 364.9h0M106.5 354.6h0M103.4 351.0h0M100.6 373.7h0M103.7 397.5h0M93.1 397.1h0M102.6 390.2h0M97.4 376.0h0M107.2 363.5h0M111.5 386.4h0M108.1 384.4h0M109.1 391.2h0M100.6 351.7h0M89.0 385.1h0M100.4 399.5h0M107.4 374.3h0M107.8 400.1h0M105.5 366.1h0M106.9 389.9h0M102.5 386.4h0M101.8 401.1h0M101.6 374.5h0M97.1 351.3h0M99.3 353.2h0M93.1 373.3h0M88.0 372.9h0M92.2 397.6h0M98.0 364.5h0M108.4 386.8h0M88.6 364.3h0M97.1 353.0h0M90.9 384.2h0M96.6 364.7h0M98.1 363.7h0M92.1 364.0h0M101.4 401.0h0M103.5 357.1h0M99.1 352.6h0M106.6 355.3h0M104.8 401.4h0M105.7 367.4h0M113.5 370.0h0M102.7 353.4h0M89.3 372.7h0M95.3 355.2h0M104.0 379.4h0M100.2 355.5h0M100.7 356.0h0M113.3 384.7h0M95.2 399.8h0M100.6 369.6h0M93.1 371.8h0M109.5 391.6h0M100.9 354.3h0M109.1 360.7h0M87.8 386.5h0M105.9 397.7h0M98.6 399.8h0M111.0 380.3h0M96.9 376.7h0M95.0 385.6h0M115.1 381.4h0M90.1 394.2h0M93.6 360.6h0M94.5 396.5h0M106.4 376.0h0M102.0 362.2h0M92.4 373.0h0M105.5 368.2h0M101.3 387.7h0M102.2 379.3h0M110.3 373.5h0M103.5 393.3h0M104.7 357.6h0M98.4 352.5h0M96.5 374.9h0M96.0 353.9h0M107.8 358.6h0M105.9 359.1h0M92.6 397.3h0M101.4 383.9h0M103.4 361.4h0M88.7 381.5h0M95.2 393.8h0M95.1 394.6h0M104.0 350.2h0M105.0 355.4h0M97.3 395.3h0M100.5 381.2h0M114.1 371.8h0M101.2 371.2h0M112.1 383.6h0M96.8 378.1h0M95.6 395.2h0M96.8 398.1h0M95.6 391.0h0M90.5 403.5h0M90.3 400.5h0M88.9 399.0h0M89.8 396.0h0M87.8 396.7h0M86.5 404.5h0M86.2 399.1h0M87.6 403.8h0M85.6 400.5h0M87.8 395.6h0M87.2 434.6h0M89.0 434.3h0M90.2 434.4h0M91.8 434.8h0M92.8 435.2h0M94.6 435.1h0M96.0 434.8h0M96.9 434.4h0M98.3 434.3h0M99.9 435.0h0M101.3 434.7h0M102.8 435.1h0M103.6 435.3h0M105.2 434.8h0M106.9 435.3h0M108.2 434.3h0M109.4 434.6h0M111.0 434.4h0M112.3 434.5h0M113.7 435.2h0M139.1 379.0h0M133.8 360.5h0M145.4 368.9h0M131.0 370.6h0M129.6 345.8h0M136.2 390.6h0M126.9 367.9h0M148.7 356.7h0M129.4 357.4h0M136.3 390.2h0M130.5 379.6h0M142.8 372.0h0M135.3 374.6h0M137.8 367.6h0M138.7 345.8h0M135.3 354.3h0M140.0 389.0h0M134.3 394.2h0M135.6 357.2h0M143.7 365.3h0M136.7 345.4h0M139.7 396.9h0M137.8 378.7h0M127.9 370.0h0M131.3 389.8h0M134.9 398.0h0M135.2 371.4h0M127.3 363.9h0M124.1 370.6h0M138.5 372.2h0M131.7 388.0h0M135.1 395.1h0M134.3 390.2h0M139.1 382.3h0M132.8 384.9h0M144.1 381.0h0M141.3 358.3h0M129.6 355.4h0M138.8 394.4h0M140.1 364.6h0M136.8 390.3h0M126.3 354.4h0M142.3 351.6h0M132.7 395.4h0M138.1 378.5h0M125.1 365.8h0M139.9 356.4h0M133.7 365.0h0M49.0 434.2h0M50.2 435.2h0M51.6 434.5h0M52.7 434.2h0M54.2 434.9h0M55.7 434.8h0M57.0 434.2h0M58.5 435.3h0M59.6 435.0h0M61.4 434.8h0M62.4 434.8h0M64.2 435.1h0M65.4 434.7h0M66.5 434.5h0M68.1 435.0h0M69.2 435.1h0M70.7 434.8h0M71.8 435.2h0M73.5 434.8h0M74.5 434.9h0M75.9 435.3h0M77.5 435.0h0M78.8 435.1h0M55.0 379.5h0M68.8 366.4h0M71.7 375.4h0M69.3 360.9h0M52.5 381.9h0M59.9 369.9h0M52.9 368.0h0M69.8 381.7h0M62.1 390.6h0M54.7 391.2h0M60.6 370.0h0M54.2 371.5h0M62.7 358.9h0M57.4 394.4h0M70.3 367.5h0M75.7 372.6h0M69.4 384.6h0M66.9 363.1h0M63.5 394.6h0M52.0 395.6h0M67.3 367.6h0M67.6 373.2h0M57.3 361.5h0M54.9 382.4h0M58.5 393.3h0M58.6 367.0h0M236.0 395.6h0M228.9 397.6h0M240.2 388.5h0M237.2 400.8h0M235.4 405.2h0M236.0 401.6h0M232.3 391.0h0M242.2 397.6h0M239.6 382.2h0M223.1 400.1h0M227.7 403.9h0M237.9 398.9h0M230.7 398.9h0M228.4 403.3h0M234.4 389.4h0M232.3 399.2h0M240.7 383.6h0M223.8 399.2h0M236.2 391.9h0M227.0 397.4h0M235.4 397.9h0M234.5 399.9h0M219.7 388.2h0M233.6 402.3h0M234.0 400.1h0M237.7 399.7h0M241.3 389.3h0M233.7 383.4h0M232.2 405.0h0M232.1 392.8h0M234.7 398.0h0M227.8 403.4h0M235.5 388.7h0M225.9 405.1h0M219.9 392.5h0M235.0 403.3h0M233.4 383.3h0M228.4 399.1h0M220.9 390.0h0M238.2 392.7h0M240.8 394.3h0M228.3 398.0h0M230.5 400.5h0M225.5 385.2h0M234.3 389.5h0M237.3 387.8h0M223.3 401.0h0M220.7 402.4h0M235.5 400.0h0M237.1 401.9h0M228.3 383.9h0M231.1 383.1h0M225.0 399.3h0M241.1 382.8h0M229.3 382.5h0M241.7 392.6h0M239.6 403.4h0M224.4 388.9h0M232.1 398.6h0M232.5 398.8h0M224.6 379.9h0M227.3 379.2h0M235.1 380.7h0M229.8 366.3h0M234.5 360.2h0M235.1 366.5h0M233.8 368.9h0M231.6 375.1h0M215.0 435.7h0M216.4 434.9h0M217.8 435.5h0M218.6 434.8h0M220.6 435.6h0M221.9 434.7h0M222.7 435.2h0M224.5 434.9h0M225.7 435.3h0M227.2 435.8h0M228.7 435.6h0M229.7 435.3h0M231.4 435.1h0M232.6 435.2h0M234.1 435.2h0M235.5 434.6h0M236.6 434.8h0M237.9 434.8h0M239.6 435.8h0M241.1 435.2h0M242.0 434.7h0M243.6 435.7h0M244.7 435.7h0M246.3 435.4h0M275.8 363.5h0M271.1 398.4h0M267.1 368.9h0M264.4 396.1h0M275.0 390.5h0M259.0 387.9h0M266.0 354.6h0M262.8 356.5h0M264.8 384.7h0M260.4 367.7h0M275.8 365.3h0M279.1 385.5h0M260.6 377.8h0M259.8 382.5h0M259.8 394.9h0M266.5 352.2h0M275.0 375.2h0M266.2 380.1h0M266.5 353.0h0M261.6 354.8h0M265.6 354.2h0M265.1 365.2h0M265.7 357.0h0M266.4 392.4h0M259.4 384.6h0M263.6 399.2h0M267.2 347.9h0M264.5 350.2h0M262.3 370.5h0M265.6 390.6h0M268.3 398.2h0M269.4 390.5h0M266.0 348.1h0M255.5 381.3h0M267.7 389.7h0M265.1 356.3h0M262.7 397.0h0M257.6 367.4h0M265.3 380.2h0M264.5 346.7h0M261.3 370.3h0M275.5 393.6h0M266.6 346.5h0M273.9 388.6h0M267.2 370.8h0M252.2 378.7h0M267.7 386.9h0M271.3 360.2h0M262.0 379.3h0M267.5 359.4h0M252.1 434.8h0M253.2 435.7h0M254.8 435.0h0M255.7 435.3h0M257.0 434.7h0M258.8 434.9h0M260.2 434.7h0M261.4 435.2h0M262.7 435.4h0M264.0 435.6h0M265.3 435.3h0M266.7 435.0h0M268.5 435.7h0M269.8 435.6h0M270.9 435.2h0M272.2 434.8h0M273.9 434.9h0M275.3 434.7h0M276.4 435.4h0M178.8 435.2h0M180.2 435.5h0M181.7 435.4h0M183.2 435.4h0M184.2 435.4h0M185.6 434.7h0M187.3 435.0h0M188.7 435.6h0M189.9 434.8h0M191.0 435.0h0M192.4 435.5h0M193.9 435.2h0M195.2 434.7h0M196.9 435.8h0M197.9 434.8h0M199.4 434.6h0M201.0 435.3h0M202.3 435.1h0M203.7 435.4h0M205.0 434.8h0M206.6 434.9h0M207.9 435.4h0M208.9 435.8h0M210.4 435.8h0M186.0 363.0h0M181.0 375.0h0M200.0 372.0h0M205.0 380.0h0M190.0 378.0h0M183.0 388.0h0M209.0 383.0h0M196.0 385.0h0M351.9 368.5h0M344.9 377.9h0M358.2 390.4h0M368.3 384.5h0M369.0 390.9h0M374.6 368.5h0M365.2 393.2h0M369.4 385.0h0M361.3 367.0h0M367.6 380.5h0M360.0 400.8h0M360.9 391.1h0M359.3 372.1h0M371.6 386.6h0M368.7 392.7h0M357.1 396.1h0M359.0 380.7h0M371.1 377.5h0M350.4 396.7h0M374.2 397.5h0M368.2 370.4h0M357.7 369.0h0M359.5 369.9h0M366.9 378.4h0M348.0 400.1h0M364.0 382.6h0M362.4 375.4h0M373.5 380.9h0M359.2 370.2h0M354.5 389.8h0M370.4 391.8h0M357.8 399.4h0M376.1 377.9h0M349.6 401.2h0M347.6 385.8h0M361.2 370.0h0M356.8 377.9h0M344.9 375.5h0M352.8 391.3h0M374.5 385.1h0M347.0 379.6h0M346.0 400.5h0M361.5 387.1h0M371.5 386.2h0M372.8 388.7h0M369.5 399.0h0M370.3 385.7h0M373.0 396.4h0M358.5 363.5h0M366.5 358.5h0M351.1 361.5h0M350.5 357.6h0M359.8 352.1h0M369.8 361.1h0M365.1 347.2h0M364.5 349.1h0M355.5 354.4h0M358.8 348.0h0M356.5 354.9h0M358.6 356.2h0M364.4 358.0h0M366.8 361.1h0M344.2 435.2h0M345.3 435.7h0M347.0 434.8h0M348.4 434.7h0M349.4 435.0h0M351.0 435.4h0M352.6 435.3h0M354.0 434.8h0M355.3 435.2h0M356.5 434.7h0M357.7 435.5h0M359.4 434.8h0M360.6 435.3h0M362.3 434.8h0M363.4 434.6h0M364.9 435.5h0M366.1 434.7h0M367.9 435.7h0M368.9 435.5h0M370.3 435.8h0M371.6 434.9h0M373.0 434.8h0M374.5 435.2h0M376.1 435.4h0M310.3 435.5h0M311.9 435.5h0M312.9 435.7h0M314.8 434.7h0M316.0 434.9h0M317.4 435.0h0M318.7 435.7h0M320.5 434.6h0M321.7 434.8h0M323.2 435.3h0M324.4 435.5h0M325.7 434.9h0M327.0 434.6h0M328.6 435.5h0M329.8 435.5h0M331.8 435.2h0M332.9 435.4h0M334.1 434.8h0M335.9 435.1h0M336.8 434.8h0M338.5 435.2h0M339.6 435.1h0M380.7 435.6h0M382.0 435.6h0M383.6 435.7h0M384.7 435.7h0M386.0 435.3h0M387.8 435.0h0M389.0 434.6h0M390.5 435.0h0M391.4 435.0h0M393.2 435.1h0M394.1 435.5h0M395.8 435.7h0M397.2 435.0h0M398.7 434.7h0M400.1 435.5h0M401.3 434.9h0M402.7 435.3h0M404.1 435.2h0M405.3 434.9h0M406.9 435.4h0M407.9 435.4h0M409.5 435.3h0M410.8 435.0h0M320.0 366.0h0M334.5 361.0h0M335.5 362.0h0M349.0 363.0h0M400.6 383.7h0" stroke="#582478" stroke-width="4.0" stroke-linecap="round" fill="none"/>
<text x="7.80" y="474.30" font-size="12.2" text-anchor="start" fill="#000" font-weight="bold" stroke="#000" stroke-width="0.16">E</text>
<defs><filter id="bl1" x="-50%" y="-50%" width="200%" height="200%"><feGaussianBlur stdDeviation="1.2"/></filter><filter id="bl2" x="-50%" y="-50%" width="200%" height="200%"><feGaussianBlur stdDeviation="2.2"/></filter><marker id="ah" viewBox="0 0 10 10" refX="9" refY="5" markerWidth="6.5" markerHeight="6.5" orient="auto-start-reverse" markerUnits="userSpaceOnUse"><path d="M0 0L10 5L0 10z" fill="#000"/></marker></defs>
<path d="M71.8 513.3h0M73.5 514.0h0M73.5 517.4h0M55.0 519.4h0M74.4 513.7h0M62.5 516.7h0M81.2 514.0h0M71.9 512.4h0M65.4 512.9h0M66.3 515.6h0M75.1 525.5h0M71.9 515.8h0M83.2 514.6h0M69.9 519.0h0M74.4 516.6h0M61.8 522.5h0M68.5 514.1h0M60.8 518.0h0M71.3 515.1h0M65.8 516.9h0M64.6 519.2h0M73.0 510.6h0M61.9 507.7h0M65.7 515.0h0M73.3 514.0h0M64.7 518.6h0M66.3 523.2h0M66.0 517.4h0M65.5 513.4h0M63.9 513.4h0M87.2 513.1h0M67.3 517.0h0M74.1 513.0h0M53.4 521.6h0M62.1 516.3h0M62.8 511.9h0M60.1 524.8h0M67.0 525.7h0M71.9 512.9h0M64.4 516.5h0M62.0 516.9h0M58.8 507.1h0M65.8 508.4h0M58.6 525.0h0M69.8 516.8h0M74.8 516.5h0M68.4 507.0h0M85.3 512.4h0M69.1 516.3h0M79.0 508.5h0M76.2 508.4h0M74.2 510.4h0M70.7 506.2h0M67.7 513.8h0M74.7 520.5h0M65.6 518.1h0M63.5 517.1h0M66.7 522.1h0M72.4 525.1h0M82.6 509.0h0M68.9 523.9h0M76.9 520.8h0M80.2 514.0h0M64.2 509.4h0M68.3 520.2h0M55.9 518.6h0M78.1 524.9h0M64.6 517.1h0M75.6 515.1h0M68.8 512.3h0M74.3 512.8h0M64.6 513.9h0M74.6 519.3h0M58.6 515.3h0M83.7 509.7h0M71.4 516.2h0M67.1 512.5h0M70.3 519.1h0M71.1 528.4h0M63.1 515.4h0M78.9 512.2h0M64.5 516.1h0M66.3 512.3h0M69.0 515.6h0M71.8 511.9h0M69.1 516.9h0M61.9 519.4h0M69.0 516.4h0M67.8 515.1h0M54.2 509.7h0M63.5 512.6h0M69.5 513.5h0M71.4 512.7h0M76.7 517.5h0M64.8 513.1h0M78.8 518.7h0M69.4 513.5h0M71.9 513.4h0M71.6 520.1h0M69.6 515.0h0M73.4 509.7h0M63.7 512.5h0M66.3 515.2h0M77.5 513.0h0M73.3 512.5h0M82.8 511.3h0M73.8 513.5h0M86.2 518.5h0M78.1 509.2h0M69.6 523.4h0M77.3 518.8h0M57.3 515.1h0M72.0 516.9h0M84.1 509.7h0M73.8 506.4h0M81.9 509.4h0M58.9 517.2h0M66.9 511.7h0M73.2 512.1h0M64.0 510.6h0M70.6 518.6h0M72.2 507.7h0M73.9 513.8h0M67.7 512.0h0M69.5 514.5h0M72.4 519.9h0M64.3 524.0h0M65.5 513.8h0M68.3 519.4h0M71.6 511.1h0M75.9 519.5h0M61.7 521.6h0M76.4 509.0h0M67.5 519.0h0M65.7 514.0h0M75.9 516.4h0M82.1 511.4h0M72.4 509.7h0M71.6 510.5h0M71.0 518.4h0M62.2 520.7h0M71.3 520.4h0M86.5 516.9h0M72.2 511.1h0M75.0 520.8h0M78.8 504.0h0M68.7 521.0h0M71.7 517.4h0M67.5 510.8h0M78.7 513.5h0M76.2 518.0h0M63.8 526.3h0M65.6 509.8h0M70.3 521.9h0M72.6 516.6h0M58.4 514.9h0M63.8 511.3h0M60.2 517.9h0M74.6 509.0h0M77.2 513.7h0M96.3 508.0h0M69.9 508.5h0M78.5 516.9h0M64.4 518.1h0M73.4 527.6h0M64.9 514.3h0M67.6 508.4h0M60.8 512.1h0M71.5 515.7h0M58.3 519.1h0M74.7 511.8h0M76.3 514.8h0M61.6 514.2h0M78.7 513.1h0M74.5 506.4h0M74.6 520.3h0M61.3 510.1h0M59.4 519.1h0M64.3 518.9h0M74.2 524.7h0M69.8 513.4h0M64.4 525.8h0M64.0 511.0h0M64.8 514.7h0M73.8 514.5h0M69.0 512.6h0M58.3 522.9h0M65.5 524.0h0M64.4 516.9h0M59.6 525.6h0M71.7 515.5h0M78.3 517.4h0M65.0 522.4h0M72.6 514.0h0M72.3 512.3h0M65.4 516.2h0M71.6 518.7h0M68.0 516.4h0" stroke="#000" stroke-width="0.9" stroke-linecap="square" fill="none" opacity="0.28"/>
<ellipse cx="69.5" cy="507.5" rx="9.5" ry="3.4" transform="rotate(-55 69.5 507.5)" fill="#000" opacity="0.6" filter="url(#bl1)"/>
<ellipse cx="73.5" cy="501.5" rx="5" ry="2.4" transform="rotate(-55 73.5 501.5)" fill="#000" opacity="0.85" filter="url(#bl1)"/>
<ellipse cx="70.5" cy="516.3" rx="11" ry="2.8" transform="rotate(-3 70.5 516.3)" fill="#000" opacity="0.6" filter="url(#bl1)"/>
<ellipse cx="76.5" cy="516.5" rx="4.2" ry="2.4" transform="rotate(0 76.5 516.5)" fill="#000" opacity="0.9" filter="url(#bl1)"/>
<ellipse cx="62" cy="519" rx="4" ry="2.5" transform="rotate(-20 62 519)" fill="#000" opacity="0.3" filter="url(#bl2)"/>
<path d="M62.2 521.4h0M72.9 506.1h0M79.0 499.0h0M73.1 502.9h0M64.1 517.6h0M75.3 501.2h0M73.8 504.1h0M63.0 519.5h0M77.1 503.8h0M67.1 513.0h0M68.2 507.5h0M73.2 508.2h0M76.3 506.4h0M60.5 517.0h0M70.3 505.7h0M73.6 508.3h0M67.3 502.4h0M69.1 506.3h0M65.3 515.9h0M73.0 509.2h0M71.1 504.3h0M64.6 509.4h0M70.6 508.2h0M71.1 510.3h0M64.0 516.6h0M75.4 508.9h0M73.6 509.5h0M75.9 507.3h0M67.7 501.1h0M66.2 508.4h0M66.6 511.8h0M63.2 515.4h0M72.0 506.4h0M68.6 508.4h0M69.8 510.3h0M71.8 498.1h0M76.2 500.3h0M71.0 502.6h0M66.8 509.8h0M65.3 508.5h0M79.1 497.5h0M75.0 505.2h0M73.8 507.6h0M58.4 512.4h0M68.9 517.2h0M67.5 512.0h0M69.1 508.1h0M76.9 506.9h0M66.6 520.3h0M73.3 515.6h0M73.5 504.8h0M74.1 501.9h0M71.6 504.0h0M65.3 517.2h0M65.1 511.9h0M68.0 509.4h0M67.5 518.1h0M65.0 508.9h0M79.6 502.5h0M70.6 507.7h0M72.0 518.7h0M61.8 513.4h0M70.9 506.4h0M69.6 502.5h0M72.5 505.4h0M85.8 483.0h0M68.9 510.5h0M63.4 520.2h0M80.3 503.4h0M59.9 523.0h0M66.1 512.0h0M66.5 518.6h0M80.4 505.4h0M72.9 506.5h0M76.7 506.8h0M72.8 505.3h0M63.7 518.3h0M73.4 511.8h0M72.9 502.0h0M67.6 515.3h0M75.3 502.5h0M68.2 506.6h0M64.4 516.2h0M68.8 508.8h0M74.3 498.4h0M74.0 506.9h0M71.8 502.6h0M68.0 509.6h0M67.8 516.9h0M77.8 503.7h0M69.4 512.2h0M59.7 519.7h0M68.3 506.6h0M65.5 514.5h0M70.0 506.3h0M71.4 512.3h0M63.6 514.4h0M64.6 513.1h0M74.6 505.9h0M64.8 505.5h0M71.8 502.3h0M71.5 512.0h0M75.2 503.1h0M73.9 514.5h0M70.1 512.2h0M80.5 506.3h0M70.1 509.2h0M67.1 515.1h0M81.0 497.7h0M65.3 516.3h0M70.0 511.5h0M71.7 505.9h0M70.1 507.1h0M77.9 500.7h0M75.3 508.7h0M80.0 498.3h0M76.9 502.4h0M64.2 518.9h0M73.4 507.5h0M68.0 513.3h0M67.0 514.8h0M64.3 516.4h0M76.3 509.2h0M77.0 505.2h0M73.6 504.6h0M74.1 509.7h0M69.1 507.1h0M61.1 521.0h0M69.6 503.5h0M66.9 510.1h0M67.7 511.4h0M71.8 505.8h0M73.8 505.5h0M73.6 506.2h0M78.3 497.4h0M63.2 512.7h0M74.6 509.6h0M72.1 507.1h0M68.5 515.5h0M76.4 511.6h0M76.1 505.5h0M61.5 521.3h0M70.3 502.9h0M70.6 508.7h0M78.6 507.4h0M78.7 504.4h0M70.7 506.6h0M77.3 498.0h0M61.8 518.1h0M69.9 515.1h0M65.2 509.3h0M77.8 500.2h0M69.4 510.4h0M69.9 509.0h0M72.0 504.8h0M76.8 501.9h0M72.6 515.3h0M68.1 519.6h0M74.2 510.7h0M76.6 503.0h0M76.6 500.0h0M72.2 509.5h0M74.8 502.9h0M67.7 503.5h0M75.4 502.2h0M68.1 513.9h0M69.8 505.5h0M73.3 504.1h0M68.0 520.3h0M72.8 505.1h0M81.5 500.4h0M73.6 507.8h0M66.8 513.7h0M67.0 509.5h0M75.9 508.1h0M82.1 498.7h0M78.5 487.7h0M64.5 516.0h0M70.7 506.6h0M77.6 503.1h0M67.0 510.6h0M79.1 497.7h0M76.6 500.3h0M69.6 521.1h0M71.8 503.2h0M72.5 507.9h0M76.7 507.4h0M74.4 502.3h0M72.4 511.6h0M77.6 504.2h0M69.6 508.5h0M63.1 514.7h0M73.9 507.0h0M63.3 517.4h0M69.5 506.4h0M75.3 502.1h0M75.2 501.6h0M61.2 511.8h0M66.3 506.9h0M64.2 516.5h0M71.8 501.3h0M73.6 504.9h0M68.5 511.0h0M84.2 498.6h0M58.6 512.9h0M71.5 512.5h0M69.4 512.0h0M77.4 503.4h0M69.9 510.4h0M74.6 493.9h0M76.2 507.3h0M72.1 508.7h0M73.0 511.6h0M72.7 500.7h0M68.6 513.6h0M61.6 517.7h0M75.1 505.9h0M64.9 517.3h0M77.7 499.2h0M71.2 500.7h0" stroke="#000" stroke-width="0.9" stroke-linecap="square" fill="none" opacity="0.45"/>
<path d="M65 509.2C65.5 501 72 494 77.5 492.6C82.5 491.6 84.2 494.5 82.6 498.4C81 502 78.5 505 76 507.5C72.5 511 66 513 65 509.2Z" fill="none" stroke="#555" stroke-width="0.7"/>
<path d="M72.2 634.2h0M77.7 630.0h0M66.7 616.3h0M76.8 625.2h0M71.0 618.0h0M81.8 631.5h0M81.3 621.1h0M72.0 627.9h0M80.3 621.0h0M67.2 631.2h0M88.6 618.3h0M74.4 626.8h0M70.8 638.3h0M72.0 634.1h0M85.7 625.5h0M60.8 636.7h0M71.9 629.2h0M67.5 624.3h0M65.7 629.2h0M74.0 617.8h0M84.1 617.3h0M70.6 632.0h0M72.4 619.2h0M62.2 625.8h0M70.1 613.4h0M72.1 623.3h0M75.1 628.2h0M81.7 625.8h0M80.2 607.8h0M84.0 632.2h0M79.4 624.1h0M82.2 616.5h0M64.2 631.4h0M74.6 621.6h0M76.3 623.6h0M90.1 622.8h0M80.6 612.9h0M66.9 628.8h0M69.6 629.9h0M76.1 622.7h0M69.7 630.2h0M67.0 632.2h0M71.9 625.3h0M74.9 633.3h0M85.3 614.8h0M69.2 626.5h0M79.6 628.1h0M78.9 626.8h0M66.8 631.2h0M73.6 616.5h0M81.4 615.9h0M79.5 620.6h0M78.6 635.2h0M67.7 628.8h0M81.6 621.6h0M81.5 614.9h0M85.0 620.3h0M84.7 621.5h0M75.4 632.5h0M92.9 624.7h0M78.0 626.7h0M79.8 637.4h0M75.4 623.9h0M94.6 629.7h0M84.0 624.7h0M87.4 625.2h0M70.3 617.2h0M90.6 602.7h0M71.5 622.3h0M80.5 623.7h0M70.8 629.6h0M61.7 625.7h0M77.8 626.0h0M71.1 626.4h0M88.4 618.5h0M72.2 631.2h0M87.1 615.6h0M88.2 610.5h0M81.3 605.5h0M85.8 613.7h0M85.8 616.5h0M74.7 613.5h0M76.9 625.1h0M69.7 618.2h0M71.6 608.2h0M78.2 616.1h0M81.4 615.5h0M80.3 609.0h0M82.8 628.3h0M90.3 612.4h0M84.3 621.2h0M66.7 621.0h0M82.3 618.4h0M69.6 618.4h0M72.3 635.6h0M82.1 621.8h0M54.1 631.3h0M90.5 611.0h0M80.1 620.4h0M73.0 624.2h0M77.6 621.0h0M88.3 614.7h0M76.3 612.4h0M61.8 631.1h0M73.7 621.2h0M77.4 624.4h0M67.4 626.2h0M71.6 625.9h0M79.4 624.8h0M80.9 626.1h0M74.3 622.1h0M73.5 619.3h0M75.6 629.9h0M79.3 620.8h0M93.8 613.5h0M80.9 616.3h0M83.3 612.7h0M71.4 625.5h0M72.2 633.3h0M80.0 620.7h0M77.2 616.6h0M68.5 618.2h0M82.9 623.9h0M64.7 624.5h0M78.0 625.8h0M72.0 621.7h0M76.5 619.0h0M76.2 630.5h0M92.1 614.2h0M76.2 613.2h0M67.8 618.2h0M83.6 625.3h0M82.2 613.5h0M87.0 609.7h0M76.3 630.7h0M77.6 626.0h0M92.2 604.6h0M88.4 618.4h0M77.2 628.9h0M61.9 622.3h0M76.0 616.6h0M85.4 622.1h0M74.0 611.9h0M86.8 617.5h0M86.0 627.6h0M77.2 622.2h0M74.5 627.5h0M66.6 631.7h0M58.5 631.6h0M76.1 626.9h0M88.0 620.2h0M73.4 634.7h0M85.9 619.7h0M92.2 630.9h0M85.2 624.9h0" stroke="#000" stroke-width="0.9" stroke-linecap="square" fill="none" opacity="0.25"/>
<ellipse cx="77" cy="623.5" rx="16" ry="6" transform="rotate(-53 77 623.5)" fill="#000" opacity="0.85" filter="url(#bl2)"/>
<ellipse cx="77" cy="623.5" rx="13" ry="4.5" transform="rotate(-53 77 623.5)" fill="#000" opacity="0.8" filter="url(#bl1)"/>
<ellipse cx="80.5" cy="617.5" rx="6.5" ry="4.2" transform="rotate(-53 80.5 617.5)" fill="#000" opacity="0.9" filter="url(#bl1)"/>
<ellipse cx="70" cy="633" rx="4.5" ry="3.5" transform="rotate(-53 70 633)" fill="#000" opacity="0.8" filter="url(#bl1)"/>
<path d="M81.2 619.2h0M70.7 618.6h0M69.4 623.7h0M79.2 632.5h0M65.6 633.4h0M81.8 619.1h0M76.2 632.6h0M81.8 632.6h0M72.1 636.9h0M81.8 628.4h0M84.7 620.1h0M78.1 632.0h0M78.9 628.8h0M75.7 624.6h0M85.0 622.8h0M78.8 615.3h0M69.9 631.1h0M67.3 630.3h0M70.8 614.6h0M86.5 621.9h0M79.8 616.8h0M90.7 612.1h0M88.5 615.0h0M76.0 628.4h0M66.4 632.2h0M88.8 620.8h0M77.3 616.6h0M81.6 621.2h0M72.6 621.4h0M89.2 623.0h0M69.6 635.4h0M84.2 615.4h0M73.7 614.3h0M73.6 605.5h0M86.1 630.3h0M71.6 624.4h0M77.7 619.4h0M76.2 624.6h0M77.3 622.5h0M83.9 618.6h0M81.9 617.3h0M84.9 619.3h0M76.2 615.2h0M74.4 619.0h0M85.9 603.4h0M78.4 619.2h0M86.4 629.2h0M72.8 598.8h0M79.6 628.1h0M82.5 612.1h0M70.2 624.3h0M84.3 624.5h0M82.6 615.6h0M67.1 627.4h0M91.8 624.3h0M83.4 618.6h0M74.2 635.1h0M75.0 626.6h0M74.5 627.9h0M77.8 634.6h0M71.1 618.9h0M81.8 611.5h0M77.5 617.6h0M68.8 632.9h0M75.3 630.3h0M69.3 624.4h0M65.9 634.8h0M70.7 630.8h0M75.7 630.7h0M66.2 635.8h0M81.7 625.2h0M77.6 622.9h0M74.6 616.1h0M77.2 621.3h0M66.2 628.6h0M77.0 636.6h0M83.7 610.4h0M69.9 630.1h0M77.2 624.8h0M72.4 626.3h0M77.8 623.0h0M74.5 627.2h0M73.0 629.0h0M68.7 625.2h0M83.5 626.5h0M70.6 630.9h0M65.9 636.9h0M71.0 621.0h0M72.2 619.9h0M81.7 621.7h0M75.3 624.1h0M76.3 616.9h0M73.0 627.9h0M75.7 631.1h0M80.1 624.8h0M66.2 636.5h0M67.6 628.3h0M70.1 635.1h0M74.8 626.4h0M75.1 617.7h0M89.0 608.8h0M70.8 618.3h0M86.9 617.1h0M70.5 612.5h0M67.4 637.4h0M75.9 627.7h0M75.2 625.3h0M61.1 628.9h0M76.2 622.4h0M72.7 639.1h0M82.3 625.8h0M72.9 615.8h0M77.9 621.0h0M77.6 626.2h0M83.8 624.5h0M75.0 626.0h0M84.2 613.0h0M80.3 618.1h0M76.4 637.4h0M85.5 605.1h0M87.8 615.2h0M66.1 630.9h0M75.1 625.8h0M64.7 633.2h0M73.2 611.5h0M72.6 631.0h0M85.6 622.1h0M75.9 625.4h0M68.2 618.4h0M76.9 620.8h0M74.2 635.7h0M69.4 633.1h0M71.8 630.4h0M71.9 627.3h0M64.7 627.6h0M80.0 611.3h0M83.7 623.8h0M71.3 629.8h0M83.8 626.4h0M68.5 633.4h0M64.9 628.7h0M70.5 631.8h0" stroke="#000" stroke-width="0.9" stroke-linecap="square" fill="none" opacity="0.45"/>
<rect x="75.8" y="607.7" width="12.9" height="7.3" fill="none" stroke="#777" stroke-width="0.7"/>
<rect x="61.7" y="628.8" width="10.6" height="11.4" fill="none" stroke="#777" stroke-width="0.7"/>
<path d="M141.3 597.6h0M141.0 588.4h0M150.4 592.4h0M128.1 588.4h0M142.9 591.8h0M138.1 591.0h0M133.9 597.4h0M134.6 584.2h0M134.2 597.1h0M135.8 595.5h0M139.6 592.3h0M132.3 592.1h0M143.8 589.7h0M139.9 586.2h0M131.0 596.1h0M137.7 592.3h0M136.6 603.3h0M134.0 576.8h0M138.4 583.8h0M135.5 598.0h0M137.9 594.6h0M136.4 596.5h0M140.3 590.7h0M135.8 592.5h0M140.1 591.6h0M144.3 580.2h0M127.7 588.3h0M141.6 579.5h0M136.1 589.1h0M132.4 596.1h0M132.8 588.9h0M135.4 602.5h0M140.7 586.4h0M139.2 592.4h0M138.6 589.3h0M140.3 600.5h0M135.9 589.8h0M140.7 593.1h0M138.3 586.0h0M141.0 599.1h0M139.7 597.0h0M135.7 588.5h0M137.6 593.5h0M131.4 584.6h0M141.4 595.7h0M138.7 586.3h0M134.6 601.8h0M131.4 581.2h0M137.8 591.8h0M136.6 586.5h0M137.2 590.2h0M135.8 581.1h0M138.9 599.8h0M135.7 579.2h0M139.9 580.4h0M132.6 602.5h0M140.1 588.7h0M136.1 600.4h0M138.8 600.6h0M138.5 589.6h0M142.3 585.2h0M141.6 591.8h0M138.8 590.4h0M135.5 594.4h0M139.8 582.1h0M140.8 583.6h0M138.1 600.8h0M142.2 591.6h0M135.2 597.3h0M135.8 585.8h0M143.2 595.8h0M134.4 595.9h0M132.4 577.0h0M131.8 589.7h0M130.4 586.5h0M137.2 601.9h0M141.1 597.7h0M135.2 583.7h0M134.9 592.3h0M130.3 597.5h0M133.1 589.0h0M143.1 595.2h0M144.2 587.3h0M137.1 593.2h0M144.2 597.0h0M139.9 594.4h0M138.8 578.1h0M135.3 603.5h0M140.9 593.5h0" stroke="#000" stroke-width="0.9" stroke-linecap="square" fill="none" opacity="0.35"/>
<ellipse cx="150" cy="592" rx="4.5" ry="11" transform="rotate(0 150 592)" fill="#000" opacity="0.35" filter="url(#bl2)"/>
<ellipse cx="150" cy="586" rx="3" ry="4.5" transform="rotate(0 150 586)" fill="#000" opacity="0.4" filter="url(#bl1)"/>
<path d="M148.0 586.9h0M151.7 591.3h0M148.9 583.3h0M149.1 590.5h0M149.8 592.9h0M152.8 601.6h0M148.6 597.8h0M146.9 597.0h0M150.7 583.8h0M153.8 583.3h0M150.9 589.5h0M150.7 595.9h0M147.7 593.4h0M146.0 595.9h0M151.5 601.9h0M152.3 593.5h0M151.6 584.5h0M155.5 586.9h0M149.9 590.6h0M150.9 597.1h0M148.9 593.4h0M153.2 582.2h0M145.7 594.1h0M155.0 588.8h0M151.4 588.4h0M148.2 585.2h0M148.5 601.9h0M156.9 595.5h0M150.7 586.9h0M147.4 596.5h0M148.2 583.2h0M150.4 583.9h0M152.8 592.0h0M149.9 600.6h0M147.7 596.6h0M151.2 600.7h0M153.6 573.9h0M150.8 596.3h0M151.8 598.4h0M148.8 583.7h0M152.6 578.8h0M146.6 599.0h0M154.1 592.8h0M151.1 580.6h0M151.9 587.8h0M150.1 591.5h0M149.5 599.1h0M150.2 595.5h0M146.8 596.7h0M145.9 601.9h0M148.4 592.7h0M150.0 600.7h0M150.3 586.3h0M143.9 602.1h0M154.7 590.9h0M151.0 589.1h0M150.9 596.5h0M146.2 588.9h0M151.7 592.0h0M150.6 588.8h0M150.6 585.0h0M152.5 602.6h0M151.8 589.3h0M150.7 589.6h0M148.1 596.7h0M150.4 591.6h0M155.2 599.8h0M151.8 595.5h0M148.4 595.8h0M155.0 594.6h0M146.3 583.7h0M152.8 580.0h0M149.4 590.6h0M151.4 592.5h0M152.2 595.4h0M149.4 581.9h0M148.7 590.0h0M146.7 596.1h0M151.9 597.0h0M149.6 589.2h0M147.9 597.3h0M148.6 595.8h0M148.3 585.2h0M150.1 596.8h0M149.0 600.1h0M148.5 595.1h0M146.3 581.6h0M150.9 590.9h0M148.4 595.6h0M149.7 583.8h0M152.1 591.1h0M152.9 584.7h0M149.5 591.4h0M153.7 598.8h0M152.0 596.0h0M147.9 602.6h0M150.5 592.5h0M146.2 592.0h0M145.9 599.7h0M149.7 585.6h0M145.0 597.2h0M152.5 592.5h0M148.8 590.3h0M153.2 588.3h0M149.7 595.6h0M150.3 582.6h0M148.7 597.5h0M153.4 595.0h0M147.5 589.2h0M151.0 592.4h0M150.0 589.5h0M150.4 580.6h0M152.1 582.6h0M148.1 594.9h0M148.6 585.5h0M153.6 587.1h0M151.6 592.4h0M150.8 596.6h0M151.0 601.9h0M151.8 581.5h0M148.4 583.6h0M151.5 590.1h0M149.2 595.8h0M151.8 593.3h0M148.4 592.4h0M149.6 601.6h0M148.7 593.5h0M154.6 588.4h0M151.8 589.0h0M154.8 592.7h0M148.1 581.1h0M147.1 583.4h0M151.3 588.8h0M149.6 585.0h0M148.3 591.0h0M150.6 593.0h0M150.8 599.5h0M154.7 592.6h0M151.9 585.4h0M150.1 593.8h0M148.0 602.8h0M147.8 589.0h0M151.1 605.9h0M144.7 592.3h0M152.3 591.1h0M150.6 590.1h0M147.3 596.6h0M153.4 594.5h0M148.1 592.0h0M153.0 589.5h0M148.0 596.4h0M151.9 583.8h0M150.1 597.1h0M151.0 588.5h0M148.9 586.4h0M151.3 593.3h0M152.2 586.1h0M150.1 596.0h0" stroke="#000" stroke-width="0.9" stroke-linecap="square" fill="none" opacity="0.45"/>
<rect x="144.2" y="578.7" width="11.4" height="27.5" fill="none" stroke="#777" stroke-width="0.7"/>
<path d="M140.4 663.7h0M136.2 655.0h0M151.8 649.0h0M152.7 656.1h0M145.9 638.0h0M148.3 657.4h0M153.0 648.1h0M152.7 657.8h0M150.4 656.1h0M149.9 653.6h0M133.7 648.7h0M146.3 656.3h0M147.6 647.1h0M138.4 667.9h0M171.1 653.2h0M146.3 653.9h0M144.8 645.1h0M147.5 650.1h0M151.4 650.1h0M143.9 649.1h0M137.3 656.3h0M157.2 658.2h0M139.4 643.1h0M160.4 655.5h0M150.0 650.3h0M130.1 648.0h0M144.3 652.0h0M142.8 641.5h0M139.3 655.6h0M135.2 648.7h0M153.5 650.1h0M148.8 654.3h0M145.3 656.3h0M146.2 656.2h0M144.3 652.5h0M143.2 654.0h0M144.3 647.9h0M141.0 649.9h0M137.4 648.4h0M144.8 645.8h0M153.2 650.3h0M138.0 651.6h0M136.1 651.4h0M143.5 649.0h0M147.2 648.2h0M134.8 651.8h0M142.5 648.1h0M153.4 656.4h0M136.8 661.1h0M149.3 661.7h0M150.0 651.4h0M144.8 652.8h0M151.1 648.4h0M153.9 653.7h0M148.9 663.3h0M149.4 660.3h0M143.5 660.1h0M154.6 652.2h0M138.6 647.1h0M135.7 644.4h0M148.1 652.3h0M130.9 650.8h0M142.5 661.1h0M147.6 655.1h0M164.1 651.4h0M137.4 657.0h0M137.7 655.2h0M145.9 657.7h0M140.9 656.5h0M131.3 641.0h0M141.7 649.1h0M139.9 656.3h0M145.9 646.9h0M143.9 647.1h0M131.2 650.5h0M150.6 655.9h0M147.2 645.2h0M134.3 651.1h0M144.0 646.8h0M148.8 654.2h0M152.9 647.9h0M136.2 650.1h0M153.1 639.1h0M145.9 656.5h0M145.0 659.5h0M147.1 650.9h0M138.2 661.0h0M162.0 646.1h0M137.3 640.2h0M146.3 646.1h0M156.0 645.3h0M154.5 649.2h0M146.8 656.9h0M144.1 644.7h0M145.6 642.6h0M134.3 646.1h0M142.3 657.3h0M142.6 652.2h0M160.4 654.1h0M142.0 659.7h0M151.6 650.7h0M135.5 648.8h0M143.4 647.7h0M143.3 652.6h0M147.1 659.2h0M138.2 655.8h0M161.8 660.8h0M146.0 648.2h0M139.0 654.5h0M137.0 635.7h0M151.2 649.5h0M143.3 650.0h0M149.9 649.9h0M125.4 653.7h0M137.9 661.4h0M162.8 646.7h0M147.2 650.7h0M135.2 642.1h0M141.5 646.3h0M160.3 659.9h0M138.5 652.5h0M144.2 653.9h0M132.3 655.2h0M129.4 657.9h0M134.1 653.5h0M155.1 657.7h0M144.1 649.3h0M140.3 649.3h0M157.1 651.1h0M160.3 648.0h0M136.0 659.7h0M143.3 651.7h0M136.4 641.3h0M161.0 654.4h0M148.7 648.4h0M132.8 657.6h0M154.2 662.6h0M146.6 651.2h0M159.8 663.2h0M160.0 657.7h0M141.5 645.5h0M139.6 650.9h0M140.5 634.3h0M141.7 647.5h0M147.4 652.7h0M147.5 649.5h0M142.3 650.5h0M152.6 646.4h0M147.1 648.9h0M146.6 639.1h0M129.2 666.1h0M138.1 649.4h0M147.1 658.5h0M144.4 658.0h0M142.7 661.0h0M131.9 660.5h0M160.2 650.5h0M142.0 655.6h0M148.8 654.8h0" stroke="#000" stroke-width="0.9" stroke-linecap="square" fill="none" opacity="0.25"/>
<ellipse cx="137" cy="653" rx="5" ry="9.5" transform="rotate(0 137 653)" fill="#000" opacity="0.5" filter="url(#bl2)"/>
<ellipse cx="137.5" cy="646.5" rx="4.2" ry="3.3" transform="rotate(0 137.5 646.5)" fill="#000" opacity="0.75" filter="url(#bl1)"/>
<ellipse cx="136.5" cy="660" rx="3.8" ry="3" transform="rotate(0 136.5 660)" fill="#000" opacity="0.55" filter="url(#bl1)"/>
<ellipse cx="153.5" cy="644" rx="3.6" ry="3.8" transform="rotate(0 153.5 644)" fill="#000" opacity="0.85" filter="url(#bl1)"/>
<ellipse cx="150" cy="651" rx="6" ry="5" transform="rotate(0 150 651)" fill="#000" opacity="0.18" filter="url(#bl2)"/>
<path d="M138.3 643.2h0M144.2 653.9h0M140.3 663.8h0M135.7 641.5h0M138.2 658.5h0M135.6 660.9h0M136.2 658.0h0M140.3 642.8h0M140.5 648.3h0M136.4 659.8h0M139.5 651.7h0M140.5 653.8h0M138.2 658.8h0M137.5 652.6h0M138.5 653.6h0M135.9 654.3h0M138.5 656.1h0M133.8 651.3h0M131.9 656.8h0M136.1 662.9h0M137.3 661.3h0M135.9 647.4h0M144.2 647.1h0M139.3 654.5h0M142.6 649.1h0M135.4 655.4h0M140.2 646.8h0M132.7 652.8h0M139.0 648.1h0M139.6 650.1h0M140.1 646.7h0M135.5 661.9h0M135.9 655.0h0M137.7 653.1h0M140.2 646.3h0M136.7 655.3h0M140.0 652.3h0M132.3 640.4h0M135.4 656.6h0M139.2 650.2h0M138.8 656.4h0M141.2 648.6h0M135.2 657.8h0M137.1 647.6h0M131.4 665.8h0M130.1 652.1h0M139.8 657.9h0M138.2 655.7h0M136.0 656.9h0M140.5 651.5h0M137.5 657.1h0M134.6 663.3h0M136.0 655.9h0M132.7 653.5h0M139.6 655.7h0M137.5 654.4h0M132.9 657.9h0M140.8 652.1h0M135.7 652.9h0M136.7 657.7h0M144.3 650.2h0M140.0 645.6h0M137.5 659.0h0M125.3 664.9h0M137.4 648.3h0M131.0 652.9h0M138.6 647.7h0M129.5 665.1h0M133.6 651.2h0M137.1 648.7h0M132.8 654.6h0M143.0 659.3h0M131.2 664.1h0M134.0 661.0h0M138.0 661.6h0M138.7 661.4h0M138.5 661.5h0M134.7 649.8h0M141.4 649.7h0M137.7 640.7h0M129.3 653.4h0M137.7 655.5h0M140.4 656.9h0M136.4 653.8h0M133.2 646.0h0M137.5 653.9h0M135.7 652.3h0M131.5 653.2h0M132.7 662.5h0M137.3 648.8h0M137.4 630.9h0M135.7 648.1h0M139.8 653.0h0M138.9 657.7h0M136.1 651.6h0M142.7 651.6h0M135.1 655.1h0M145.0 645.6h0M140.5 653.1h0M129.8 656.1h0M140.1 646.5h0M135.3 651.0h0M134.2 648.4h0M138.6 653.0h0M140.1 649.1h0M140.7 655.2h0M137.5 650.3h0M139.2 658.7h0M134.7 656.7h0M133.7 641.1h0M139.2 646.7h0M137.7 651.6h0M138.3 638.9h0M133.5 655.3h0M136.3 650.5h0M137.9 651.1h0M141.2 651.4h0M135.2 650.8h0M139.2 654.2h0M133.2 661.8h0M137.7 649.9h0M137.2 648.9h0M139.8 645.9h0M145.2 654.9h0M134.7 665.7h0M141.0 656.0h0M140.9 646.7h0M138.3 636.3h0M134.8 647.5h0M130.8 653.7h0M134.1 644.7h0M137.1 661.6h0M145.1 652.1h0M131.5 648.4h0M141.6 641.8h0M138.3 646.4h0M140.7 648.3h0M140.8 650.9h0M141.9 650.7h0M134.6 657.6h0M139.4 652.4h0M136.8 653.2h0M132.9 649.2h0M136.2 663.8h0M135.0 658.6h0M135.4 644.9h0M136.5 641.0h0M137.3 664.4h0M133.2 641.5h0M141.0 654.7h0M139.0 649.5h0M139.8 659.5h0M136.5 655.1h0M143.0 661.9h0M133.8 657.3h0M135.0 647.0h0M134.4 648.8h0M133.4 651.9h0M138.7 652.8h0M138.5 657.1h0M137.2 650.8h0M141.3 652.0h0M137.5 653.9h0M139.8 659.9h0M141.3 653.3h0M134.9 656.2h0M139.7 646.3h0M127.4 665.1h0M133.8 650.0h0M137.8 648.6h0M134.8 654.3h0M131.6 656.5h0M141.6 664.6h0M126.5 648.8h0M136.6 650.3h0M135.0 651.8h0M136.2 643.9h0M142.2 658.8h0M131.9 650.5h0M141.6 649.2h0M135.8 641.3h0M136.7 654.7h0M133.0 664.6h0M144.7 638.0h0M137.9 666.7h0M140.7 663.1h0M136.7 648.8h0M134.3 660.7h0M143.0 650.9h0M138.8 656.8h0M142.2 665.9h0M134.4 656.2h0M139.1 653.2h0M134.5 657.9h0M133.9 650.5h0M136.0 657.7h0M141.3 660.3h0M144.4 651.5h0M135.7 653.4h0M128.0 653.0h0M142.0 659.6h0M133.1 638.3h0M136.2 649.7h0M137.2 665.9h0M136.4 650.3h0M146.0 660.8h0M140.5 656.0h0M135.6 652.4h0M138.6 659.2h0M138.6 648.4h0M139.7 649.8h0M137.7 651.2h0M142.0 652.3h0M133.8 660.4h0M133.4 652.0h0M135.4 655.1h0M135.1 656.5h0M129.1 656.8h0M134.9 654.2h0M141.6 662.6h0M137.3 664.3h0M140.6 651.5h0M135.3 654.3h0M137.1 649.0h0M134.3 654.1h0M138.1 656.9h0M138.4 658.3h0M137.8 663.3h0M135.7 653.4h0M132.7 643.7h0M140.5 646.3h0M138.6 654.8h0M132.8 648.3h0M138.1 657.6h0M135.9 656.0h0M138.0 650.3h0M135.0 653.8h0M137.9 655.3h0M138.0 651.8h0M139.1 659.7h0M134.9 641.1h0M128.9 644.6h0M130.7 642.2h0M134.8 652.7h0M140.1 646.2h0M139.1 653.8h0M143.0 660.0h0M140.9 646.9h0M137.7 652.6h0M140.6 654.0h0M134.3 649.2h0M139.7 652.1h0M136.3 665.4h0M139.2 651.5h0M132.1 657.2h0M140.8 654.1h0M133.3 647.2h0M138.9 648.0h0M131.3 659.0h0M137.9 660.2h0M144.6 653.3h0M141.0 656.6h0M136.2 643.2h0M137.3 646.6h0M140.7 652.3h0M137.9 651.9h0M133.8 651.5h0M139.0 655.6h0M131.3 654.5h0M136.0 665.7h0M131.3 654.8h0M134.0 661.3h0M142.4 646.4h0M138.6 641.1h0M141.2 649.0h0M141.6 645.9h0M139.2 643.7h0M137.4 656.5h0M132.6 645.5h0M131.8 654.6h0M134.4 645.3h0M134.6 650.8h0M138.0 655.6h0M137.7 650.0h0M142.6 652.0h0M137.0 640.3h0M138.6 641.9h0M143.4 651.2h0M133.6 650.7h0M135.8 657.6h0M139.1 657.6h0M140.0 656.5h0M135.9 654.0h0M134.9 663.2h0M135.1 656.2h0M134.5 653.8h0M139.4 658.5h0M136.3 648.5h0M137.9 660.0h0M136.5 653.0h0M138.3 651.1h0M141.4 640.9h0M141.0 649.2h0M133.8 648.3h0M139.0 655.7h0M139.0 653.7h0M136.9 648.6h0M140.6 649.0h0M140.9 644.7h0M142.7 664.8h0M138.6 656.3h0M142.9 649.9h0M139.6 650.1h0" stroke="#000" stroke-width="0.9" stroke-linecap="square" fill="none" opacity="0.35"/>
<path d="M155.3 647.6h0M153.8 645.9h0M155.5 649.9h0M155.2 643.6h0M148.0 646.8h0M150.6 640.6h0M158.7 650.3h0M152.9 643.4h0M154.1 644.1h0M159.2 645.5h0M154.7 642.0h0M155.7 641.4h0M152.9 648.7h0M154.0 645.0h0M155.5 644.0h0M154.5 646.9h0M160.5 651.0h0M155.0 647.0h0M153.9 643.9h0M154.3 645.4h0M155.4 646.6h0M150.6 646.7h0M151.5 646.4h0M152.0 646.2h0M150.1 642.2h0M154.3 647.0h0M151.0 642.1h0M155.1 643.7h0M152.9 647.4h0M150.3 651.8h0M155.1 644.8h0M152.7 646.0h0M153.2 643.2h0M156.5 646.8h0M152.5 643.2h0M150.8 645.5h0M152.3 648.2h0M154.0 644.6h0M154.2 645.8h0M157.6 649.0h0M155.1 646.8h0M151.3 648.8h0M152.0 645.7h0M155.1 647.1h0M154.2 644.1h0M153.5 646.8h0M153.6 643.2h0M157.1 647.0h0M154.1 646.1h0M155.0 643.7h0M157.1 646.0h0M152.2 652.3h0M151.1 643.1h0M151.5 644.6h0M149.7 640.4h0M157.2 644.2h0M154.9 651.5h0M153.3 647.2h0M156.1 644.5h0M149.3 644.9h0M152.0 649.7h0M151.3 646.9h0M152.7 643.8h0M157.2 642.7h0M151.0 650.2h0M153.7 641.8h0M150.6 649.5h0M152.5 651.4h0M154.5 640.6h0M153.0 640.6h0M154.2 644.0h0M150.3 643.6h0M155.9 644.5h0M150.7 644.7h0M149.4 645.4h0M153.3 639.7h0M154.5 642.1h0M153.2 647.9h0M154.7 652.0h0M149.8 641.0h0M155.7 643.7h0M156.0 639.8h0M151.2 650.1h0M156.1 652.3h0M151.9 646.9h0M152.2 644.0h0M152.1 642.6h0M157.7 645.6h0M149.6 644.6h0M151.3 645.0h0M152.9 640.5h0M149.5 641.6h0M154.2 647.5h0M149.2 649.0h0M157.7 642.0h0M152.0 641.8h0M158.5 646.8h0M152.5 649.9h0M149.5 647.5h0M153.6 646.7h0M151.6 646.5h0M150.8 646.9h0M152.4 647.6h0M154.8 646.8h0M151.6 640.9h0M153.7 641.3h0M149.3 639.4h0M152.4 648.6h0M151.5 647.5h0M151.6 647.9h0M156.6 647.9h0M153.1 642.0h0M152.9 641.8h0M157.0 643.3h0M156.5 641.7h0M158.1 644.5h0M151.9 645.1h0M154.3 649.7h0M154.8 644.8h0M152.7 639.7h0M148.1 650.0h0M153.4 647.6h0M153.2 646.7h0M153.7 647.0h0M150.2 646.8h0M156.2 647.2h0M153.9 650.9h0M154.9 648.5h0M152.4 646.1h0M152.0 647.8h0" stroke="#000" stroke-width="0.9" stroke-linecap="square" fill="none" opacity="0.4"/>
<rect x="148" y="638.8" width="12.4" height="8.7" fill="none" stroke="#777" stroke-width="0.7"/>
<rect x="130.2" y="658" width="12.5" height="7.4" fill="none" stroke="#777" stroke-width="0.7"/>
<rect x="52.3" y="478.0" width="53.1" height="51.9" fill="none" stroke="#000" stroke-width="1.7"/>
<path d="M49.1 484.0l1.2 -1.4l0.9 0.6" fill="none" stroke="#444" stroke-width="0.6"/>
<path d="M49.1 494.4l1.2 -1.4l0.9 0.6" fill="none" stroke="#444" stroke-width="0.6"/>
<path d="M49.1 506.3l1.2 -1.4l0.9 0.6" fill="none" stroke="#444" stroke-width="0.6"/>
<path d="M49.1 518.8l1.2 -1.4l0.9 0.6" fill="none" stroke="#444" stroke-width="0.6"/>
<path d="M49.1 525.5l1.2 -1.4l0.9 0.6" fill="none" stroke="#444" stroke-width="0.6"/>
<path d="M60.3 533.1l1.4 -1.2l0.6 0.9" fill="none" stroke="#444" stroke-width="0.6"/>
<path d="M77.8 533.1l1.4 -1.2l0.6 0.9" fill="none" stroke="#444" stroke-width="0.6"/>
<path d="M91.1 533.1l1.4 -1.2l0.6 0.9" fill="none" stroke="#444" stroke-width="0.6"/>
<path d="M100.7 533.1l1.4 -1.2l0.6 0.9" fill="none" stroke="#444" stroke-width="0.6"/>
<rect x="52.7" y="587.2" width="52.3" height="53.1" fill="none" stroke="#000" stroke-width="1.7"/>
<path d="M49.5 593.3l1.2 -1.4l0.9 0.6" fill="none" stroke="#444" stroke-width="0.6"/>
<path d="M49.5 603.9l1.2 -1.4l0.9 0.6" fill="none" stroke="#444" stroke-width="0.6"/>
<path d="M49.5 616.1l1.2 -1.4l0.9 0.6" fill="none" stroke="#444" stroke-width="0.6"/>
<path d="M49.5 628.9l1.2 -1.4l0.9 0.6" fill="none" stroke="#444" stroke-width="0.6"/>
<path d="M49.5 635.8l1.2 -1.4l0.9 0.6" fill="none" stroke="#444" stroke-width="0.6"/>
<path d="M60.6 643.5l1.4 -1.2l0.6 0.9" fill="none" stroke="#444" stroke-width="0.6"/>
<path d="M77.8 643.5l1.4 -1.2l0.6 0.9" fill="none" stroke="#444" stroke-width="0.6"/>
<path d="M90.9 643.5l1.4 -1.2l0.6 0.9" fill="none" stroke="#444" stroke-width="0.6"/>
<path d="M100.3 643.5l1.4 -1.2l0.6 0.9" fill="none" stroke="#444" stroke-width="0.6"/>
<rect x="124.1" y="554.1" width="53.2" height="52.9" fill="none" stroke="#000" stroke-width="1.7"/>
<path d="M120.9 560.2l1.2 -1.4l0.9 0.6" fill="none" stroke="#444" stroke-width="0.6"/>
<path d="M120.9 570.8l1.2 -1.4l0.9 0.6" fill="none" stroke="#444" stroke-width="0.6"/>
<path d="M120.9 582.9l1.2 -1.4l0.9 0.6" fill="none" stroke="#444" stroke-width="0.6"/>
<path d="M120.9 595.6l1.2 -1.4l0.9 0.6" fill="none" stroke="#444" stroke-width="0.6"/>
<path d="M120.9 602.5l1.2 -1.4l0.9 0.6" fill="none" stroke="#444" stroke-width="0.6"/>
<path d="M132.1 610.2l1.4 -1.2l0.6 0.9" fill="none" stroke="#444" stroke-width="0.6"/>
<path d="M149.7 610.2l1.4 -1.2l0.6 0.9" fill="none" stroke="#444" stroke-width="0.6"/>
<path d="M163.0 610.2l1.4 -1.2l0.6 0.9" fill="none" stroke="#444" stroke-width="0.6"/>
<path d="M172.6 610.2l1.4 -1.2l0.6 0.9" fill="none" stroke="#444" stroke-width="0.6"/>
<rect x="124.1" y="616.8" width="53.2" height="52.3" fill="none" stroke="#000" stroke-width="1.7"/>
<path d="M120.9 622.8l1.2 -1.4l0.9 0.6" fill="none" stroke="#444" stroke-width="0.6"/>
<path d="M120.9 633.3l1.2 -1.4l0.9 0.6" fill="none" stroke="#444" stroke-width="0.6"/>
<path d="M120.9 645.3l1.2 -1.4l0.9 0.6" fill="none" stroke="#444" stroke-width="0.6"/>
<path d="M120.9 657.9l1.2 -1.4l0.9 0.6" fill="none" stroke="#444" stroke-width="0.6"/>
<path d="M120.9 664.7l1.2 -1.4l0.9 0.6" fill="none" stroke="#444" stroke-width="0.6"/>
<path d="M132.1 672.3l1.4 -1.2l0.6 0.9" fill="none" stroke="#444" stroke-width="0.6"/>
<path d="M149.7 672.3l1.4 -1.2l0.6 0.9" fill="none" stroke="#444" stroke-width="0.6"/>
<path d="M163.0 672.3l1.4 -1.2l0.6 0.9" fill="none" stroke="#444" stroke-width="0.6"/>
<path d="M172.6 672.3l1.4 -1.2l0.6 0.9" fill="none" stroke="#444" stroke-width="0.6"/>
<rect x="200.8" y="535.1" width="52.2" height="52.6" fill="none" stroke="#000" stroke-width="1.7"/>
<path d="M197.6 541.2l1.2 -1.4l0.9 0.6" fill="none" stroke="#444" stroke-width="0.6"/>
<path d="M197.6 551.7l1.2 -1.4l0.9 0.6" fill="none" stroke="#444" stroke-width="0.6"/>
<path d="M197.6 563.8l1.2 -1.4l0.9 0.6" fill="none" stroke="#444" stroke-width="0.6"/>
<path d="M197.6 576.4l1.2 -1.4l0.9 0.6" fill="none" stroke="#444" stroke-width="0.6"/>
<path d="M197.6 583.2l1.2 -1.4l0.9 0.6" fill="none" stroke="#444" stroke-width="0.6"/>
<path d="M208.7 590.9l1.4 -1.2l0.6 0.9" fill="none" stroke="#444" stroke-width="0.6"/>
<path d="M225.9 590.9l1.4 -1.2l0.6 0.9" fill="none" stroke="#444" stroke-width="0.6"/>
<path d="M238.9 590.9l1.4 -1.2l0.6 0.9" fill="none" stroke="#444" stroke-width="0.6"/>
<path d="M248.3 590.9l1.4 -1.2l0.6 0.9" fill="none" stroke="#444" stroke-width="0.6"/>
<rect x="200.8" y="590.8" width="52.2" height="52.6" fill="none" stroke="#000" stroke-width="1.7"/>
<path d="M197.6 596.9l1.2 -1.4l0.9 0.6" fill="none" stroke="#444" stroke-width="0.6"/>
<path d="M197.6 607.4l1.2 -1.4l0.9 0.6" fill="none" stroke="#444" stroke-width="0.6"/>
<path d="M197.6 619.5l1.2 -1.4l0.9 0.6" fill="none" stroke="#444" stroke-width="0.6"/>
<path d="M197.6 632.1l1.2 -1.4l0.9 0.6" fill="none" stroke="#444" stroke-width="0.6"/>
<path d="M197.6 638.9l1.2 -1.4l0.9 0.6" fill="none" stroke="#444" stroke-width="0.6"/>
<path d="M208.7 646.6l1.4 -1.2l0.6 0.9" fill="none" stroke="#444" stroke-width="0.6"/>
<path d="M225.9 646.6l1.4 -1.2l0.6 0.9" fill="none" stroke="#444" stroke-width="0.6"/>
<path d="M238.9 646.6l1.4 -1.2l0.6 0.9" fill="none" stroke="#444" stroke-width="0.6"/>
<path d="M248.3 646.6l1.4 -1.2l0.6 0.9" fill="none" stroke="#444" stroke-width="0.6"/>
<rect x="200.7" y="646.7" width="52.0" height="52.9" fill="none" stroke="#000" stroke-width="1.7"/>
<path d="M197.5 652.8l1.2 -1.4l0.9 0.6" fill="none" stroke="#444" stroke-width="0.6"/>
<path d="M197.5 663.4l1.2 -1.4l0.9 0.6" fill="none" stroke="#444" stroke-width="0.6"/>
<path d="M197.5 675.5l1.2 -1.4l0.9 0.6" fill="none" stroke="#444" stroke-width="0.6"/>
<path d="M197.5 688.2l1.2 -1.4l0.9 0.6" fill="none" stroke="#444" stroke-width="0.6"/>
<path d="M197.5 695.1l1.2 -1.4l0.9 0.6" fill="none" stroke="#444" stroke-width="0.6"/>
<path d="M208.5 702.8l1.4 -1.2l0.6 0.9" fill="none" stroke="#444" stroke-width="0.6"/>
<path d="M225.7 702.8l1.4 -1.2l0.6 0.9" fill="none" stroke="#444" stroke-width="0.6"/>
<path d="M238.7 702.8l1.4 -1.2l0.6 0.9" fill="none" stroke="#444" stroke-width="0.6"/>
<path d="M248.1 702.8l1.4 -1.2l0.6 0.9" fill="none" stroke="#444" stroke-width="0.6"/>
<ellipse cx="211.1" cy="559.5" rx="10.4" ry="7.6" transform="rotate(-40 211.1 559.5)" fill="none" stroke="#555" stroke-width="0.7"/>
<ellipse cx="226.1" cy="566.1" rx="7.9" ry="7.4" transform="rotate(-20 226.1 566.1)" fill="none" stroke="#555" stroke-width="0.7"/>
<ellipse cx="211.8" cy="575.6" rx="7.6" ry="7.1" transform="rotate(-30 211.8 575.6)" fill="none" stroke="#555" stroke-width="0.7"/>
<ellipse cx="211.2" cy="573.8" rx="3.6" ry="4.0" transform="rotate(0 211.2 573.8)" fill="#2a2a8c" opacity="0.95" filter="url(#bl1)"/>
<path d="M211.3 575.1h0M209.3 572.6h0M211.6 577.6h0M213.0 577.0h0M209.3 575.8h0M216.0 576.0h0M218.6 573.6h0M206.2 576.6h0M209.8 575.0h0M209.1 577.1h0M211.4 574.0h0M209.2 579.6h0M215.3 575.6h0M216.9 573.3h0M209.0 572.9h0M209.6 576.4h0M214.8 572.8h0M213.6 573.5h0M214.9 571.3h0M210.3 575.9h0M211.2 577.4h0M206.5 576.0h0M212.8 578.7h0M214.0 578.6h0M205.9 577.9h0M213.4 578.6h0M209.8 575.6h0M214.1 578.9h0M212.8 571.3h0M212.9 573.0h0M211.3 575.1h0M210.5 576.6h0M212.9 576.4h0M213.8 570.3h0M208.4 576.1h0M212.1 574.2h0M212.4 577.0h0M211.8 577.2h0M209.4 575.3h0M208.1 576.4h0M211.4 571.0h0M214.2 578.8h0M211.7 576.4h0M211.5 573.8h0M211.2 579.8h0M213.1 576.8h0M216.3 573.9h0M211.2 573.1h0M206.8 573.8h0M214.3 574.9h0M212.4 572.5h0M210.5 573.3h0M209.0 573.6h0M211.8 577.3h0M219.0 571.7h0M213.7 573.1h0M211.0 575.1h0M216.2 577.6h0M214.0 578.4h0M213.1 573.3h0" stroke="#5050b0" stroke-width="0.9" stroke-linecap="square" fill="none" opacity="0.35"/>
<ellipse cx="211.1" cy="615.2" rx="10.4" ry="7.6" transform="rotate(-40 211.1 615.2)" fill="none" stroke="#555" stroke-width="0.7"/>
<ellipse cx="226.1" cy="621.8" rx="7.9" ry="7.4" transform="rotate(-20 226.1 621.8)" fill="none" stroke="#555" stroke-width="0.7"/>
<ellipse cx="211.8" cy="631.3" rx="7.6" ry="7.1" transform="rotate(-30 211.8 631.3)" fill="none" stroke="#555" stroke-width="0.7"/>
<ellipse cx="212.3" cy="618.2" rx="3.8" ry="2.8" transform="rotate(-20 212.3 618.2)" fill="#9a1a1a" opacity="0.95" filter="url(#bl1)"/>
<path d="M215.7 616.8h0M212.5 618.0h0M209.3 620.2h0M210.2 623.6h0M215.8 619.5h0M213.7 617.2h0M213.1 617.8h0M210.8 618.6h0M210.6 615.8h0M210.3 621.4h0M214.1 617.3h0M212.3 618.8h0M210.5 615.3h0M210.3 619.6h0M214.1 619.5h0M219.9 619.2h0M211.1 617.5h0M217.4 623.2h0M217.5 620.1h0M215.8 615.4h0M207.9 618.9h0M213.9 614.9h0M214.1 616.1h0M216.5 614.9h0M211.0 616.7h0M210.9 614.2h0M222.5 620.7h0M218.1 623.6h0M215.5 624.5h0M213.7 621.7h0M216.1 617.1h0M210.0 616.3h0M215.2 622.2h0M217.8 619.2h0M213.6 620.7h0M220.0 619.4h0M218.0 619.3h0M208.6 619.5h0M213.9 617.8h0M219.8 615.1h0M212.4 622.3h0M212.4 617.5h0M210.6 617.3h0M210.8 620.3h0M217.7 619.6h0M214.8 613.7h0M215.3 619.1h0M204.4 615.9h0M209.8 618.9h0M214.7 622.9h0M218.1 623.6h0M212.9 618.2h0M212.0 618.6h0M215.7 616.3h0M213.4 619.5h0M209.7 616.9h0M214.8 622.0h0M212.9 625.6h0M210.9 621.5h0M215.4 623.3h0" stroke="#b03030" stroke-width="0.9" stroke-linecap="square" fill="none" opacity="0.3"/>
<path d="M222.4 623.7h0M224.7 624.6h0M226.2 621.3h0M221.8 622.1h0M225.0 619.4h0M224.3 623.7h0M226.1 622.9h0M227.7 622.2h0M229.2 625.6h0M227.6 619.7h0M223.8 622.2h0M227.2 627.1h0M228.1 623.8h0M224.2 625.1h0M224.5 622.2h0" stroke="#c05050" stroke-width="0.9" stroke-linecap="square" fill="none" opacity="0.25"/>
<path d="M217.4 632.1h0M211.8 628.7h0M215.9 635.6h0M207.4 632.9h0M211.5 633.9h0M213.3 634.8h0M210.1 630.9h0M213.3 627.7h0M208.9 632.4h0M214.1 632.0h0M213.9 630.4h0M210.1 633.1h0M217.4 635.1h0M211.6 627.2h0M216.3 633.0h0" stroke="#c05050" stroke-width="0.9" stroke-linecap="square" fill="none" opacity="0.25"/>
<ellipse cx="211.0" cy="671.1" rx="10.4" ry="7.6" transform="rotate(-40 211.0 671.1)" fill="none" stroke="#555" stroke-width="0.7"/>
<ellipse cx="226.0" cy="677.7" rx="7.9" ry="7.4" transform="rotate(-20 226.0 677.7)" fill="none" stroke="#555" stroke-width="0.7"/>
<ellipse cx="211.7" cy="687.2" rx="7.6" ry="7.1" transform="rotate(-30 211.7 687.2)" fill="none" stroke="#555" stroke-width="0.7"/>
<ellipse cx="225.4" cy="678.6" rx="2.8" ry="3.6" transform="rotate(0 225.4 678.6)" fill="#1a8a3a" opacity="0.95" filter="url(#bl1)"/>
<path d="M224.0 676.9h0M222.4 676.4h0M229.1 679.7h0M229.2 677.6h0M227.3 684.8h0M225.6 675.9h0M225.0 677.1h0M222.0 685.6h0M222.9 679.0h0M228.3 674.0h0M227.6 676.1h0M223.1 677.9h0M225.3 674.9h0M228.0 681.5h0M224.6 678.5h0M223.5 674.0h0M228.7 677.3h0M225.2 681.4h0M223.9 676.0h0M226.2 675.0h0M227.4 682.7h0M224.2 678.4h0M224.1 678.8h0M226.5 679.0h0M226.2 680.9h0M222.9 675.9h0M223.2 675.6h0M224.8 684.4h0M229.4 678.8h0M222.1 675.1h0M224.6 677.7h0M225.7 682.2h0M224.7 684.4h0M225.0 676.6h0M225.3 679.2h0M223.0 680.4h0M222.7 675.6h0M224.9 678.7h0M227.6 683.2h0M227.0 684.3h0M227.0 679.6h0M225.9 677.7h0M222.8 678.3h0M224.2 687.0h0M225.5 676.3h0M224.3 677.7h0M224.6 676.5h0M223.2 681.4h0M223.9 677.4h0M224.6 680.2h0M225.1 675.8h0M227.3 676.7h0M226.9 682.5h0M225.4 678.5h0M223.6 677.2h0M227.2 681.3h0M223.8 681.5h0M224.9 678.7h0M222.7 680.4h0M222.8 678.9h0" stroke="#2a9a4a" stroke-width="0.9" stroke-linecap="square" fill="none" opacity="0.35"/>
<text x="227.20" y="546.30" font-size="8.2" text-anchor="start" fill="#1c5a96" textLength="21.60" lengthAdjust="spacingAndGlyphs" stroke="#1c5a96" stroke-width="0.08">iNKT1</text>
<text x="227.00" y="555.70" font-size="8.2" text-anchor="start" fill="#1c5a96" textLength="22.00" lengthAdjust="spacingAndGlyphs" stroke="#1c5a96" stroke-width="0.08">98.8%</text>
<text x="227.20" y="602.90" font-size="8.2" text-anchor="start" fill="#c61e3a" textLength="21.60" lengthAdjust="spacingAndGlyphs" stroke="#c61e3a" stroke-width="0.08">iNKT2</text>
<text x="227.00" y="612.20" font-size="8.2" text-anchor="start" fill="#c61e3a" textLength="22.00" lengthAdjust="spacingAndGlyphs" stroke="#c61e3a" stroke-width="0.08">95.3%</text>
<text x="227.00" y="657.60" font-size="8.2" text-anchor="start" fill="#30a83e" textLength="22.20" lengthAdjust="spacingAndGlyphs" stroke="#30a83e" stroke-width="0.08">iNKT17</text>
<text x="229.50" y="666.00" font-size="8.2" text-anchor="start" fill="#30a83e" textLength="17.50" lengthAdjust="spacingAndGlyphs" stroke="#30a83e" stroke-width="0.08">99.2%</text>
<text x="0" y="0" font-size="10.8" transform="translate(16.4,543.8) rotate(-90)" fill="#000" textLength="46.6" lengthAdjust="spacingAndGlyphs">PBS-57 Cd1d</text>
<text x="0" y="0" font-size="10.0" transform="translate(42.3,538.6) rotate(-90)" fill="#000" textLength="27.9" lengthAdjust="spacingAndGlyphs">Tetramer</text>
<text x="0" y="0" font-size="10.0" transform="translate(42.5,640.0) rotate(-90)" fill="#000" textLength="14.1" lengthAdjust="spacingAndGlyphs">PD-1</text>
<text x="0" y="0" font-size="10.4" transform="translate(114.4,669.9) rotate(-90)" fill="#000" textLength="12.4" lengthAdjust="spacingAndGlyphs">CD4</text>
<text x="0" y="0" font-size="10.0" transform="translate(190.7,697.9) rotate(-90)" fill="#000" textLength="12.4" lengthAdjust="spacingAndGlyphs">PLZF</text>
<text x="51.50" y="548.00" font-size="10.6" text-anchor="start" fill="#111" textLength="21.50" lengthAdjust="spacingAndGlyphs" stroke="#111" stroke-width="0.08">TCRβ</text>
<text x="50.80" y="655.00" font-size="10.6" text-anchor="start" fill="#111" textLength="20.20" lengthAdjust="spacingAndGlyphs" stroke="#111" stroke-width="0.08">ICOS</text>
<text x="124.40" y="691.00" font-size="10.6" text-anchor="start" fill="#111" textLength="21.20" lengthAdjust="spacingAndGlyphs" stroke="#111" stroke-width="0.08">CD27</text>
<text x="198.20" y="713.80" font-size="10.6" text-anchor="start" fill="#111" textLength="25.80" lengthAdjust="spacingAndGlyphs" stroke="#111" stroke-width="0.08">RORγt</text>
<path d="M77.3 502.8V598.9" stroke="#000" stroke-width="0.9" fill="none" marker-end="url(#ah)"/>
<path d="M64.2 629V576.6H130" stroke="#000" stroke-width="0.9" fill="none" marker-end="url(#ah)"/>
<path d="M88 612.5L132.2 635.6" stroke="#000" stroke-width="0.9" fill="none" marker-end="url(#ah)"/>
<path d="M152.3 585.4L203.6 570.8" stroke="#000" stroke-width="0.9" fill="none" marker-end="url(#ah)"/>
<path d="M158 644.6L205.4 627" stroke="#000" stroke-width="0.9" fill="none" marker-end="url(#ah)"/>
<path d="M140.8 662.3H206.2" stroke="#000" stroke-width="0.9" fill="none" marker-end="url(#ah)"/>
<text x="267.50" y="475.20" font-size="12.2" text-anchor="start" fill="#000" font-weight="bold" stroke="#000" stroke-width="0.16">F</text>
<text x="276.30" y="504.40" font-size="9.2" text-anchor="start" fill="#000" font-style="italic" textLength="52.90" lengthAdjust="spacingAndGlyphs" stroke="#000" stroke-width="0.16">Bulk RNAseq</text>
<g><rect x="272.00" y="515.90" width="10.77" height="5.77" fill="#b4b43a"/><rect x="282.47" y="515.90" width="10.77" height="5.77" fill="#b4b43a"/><rect x="292.93" y="515.90" width="10.77" height="5.77" fill="#46174f"/><rect x="303.40" y="515.90" width="10.77" height="5.77" fill="#46174f"/><rect x="313.87" y="515.90" width="10.77" height="5.77" fill="#46174f"/><rect x="324.33" y="515.90" width="10.77" height="5.77" fill="#46174f"/><rect x="272.00" y="521.37" width="10.77" height="5.77" fill="#d2d232"/><rect x="282.47" y="521.37" width="10.77" height="5.77" fill="#9a9a3a"/><rect x="292.93" y="521.37" width="10.77" height="5.77" fill="#6e2878"/><rect x="303.40" y="521.37" width="10.77" height="5.77" fill="#6e2878"/><rect x="313.87" y="521.37" width="10.77" height="5.77" fill="#231426"/><rect x="324.33" y="521.37" width="10.77" height="5.77" fill="#231426"/><rect x="272.00" y="526.83" width="10.77" height="5.77" fill="#7a7a36"/><rect x="282.47" y="526.83" width="10.77" height="5.77" fill="#d2d232"/><rect x="292.93" y="526.83" width="10.77" height="5.77" fill="#46174f"/><rect x="303.40" y="526.83" width="10.77" height="5.77" fill="#46174f"/><rect x="313.87" y="526.83" width="10.77" height="5.77" fill="#46174f"/><rect x="324.33" y="526.83" width="10.77" height="5.77" fill="#46174f"/><rect x="272.00" y="532.30" width="10.77" height="5.77" fill="#5e5e2c"/><rect x="282.47" y="532.30" width="10.77" height="5.77" fill="#ecec22"/><rect x="292.93" y="532.30" width="10.77" height="5.77" fill="#46174f"/><rect x="303.40" y="532.30" width="10.77" height="5.77" fill="#46174f"/><rect x="313.87" y="532.30" width="10.77" height="5.77" fill="#46174f"/><rect x="324.33" y="532.30" width="10.77" height="5.77" fill="#46174f"/><rect x="272.00" y="537.77" width="10.77" height="5.77" fill="#9a9a3a"/><rect x="282.47" y="537.77" width="10.77" height="5.77" fill="#d2d232"/><rect x="292.93" y="537.77" width="10.77" height="5.77" fill="#46174f"/><rect x="303.40" y="537.77" width="10.77" height="5.77" fill="#46174f"/><rect x="313.87" y="537.77" width="10.77" height="5.77" fill="#46174f"/><rect x="324.33" y="537.77" width="10.77" height="5.77" fill="#46174f"/><rect x="272.00" y="543.23" width="10.77" height="5.77" fill="#ecec22"/><rect x="282.47" y="543.23" width="10.77" height="5.77" fill="#30301a"/><rect x="292.93" y="543.23" width="10.77" height="5.77" fill="#5a1f6a"/><rect x="303.40" y="543.23" width="10.77" height="5.77" fill="#321838"/><rect x="313.87" y="543.23" width="10.77" height="5.77" fill="#231426"/><rect x="324.33" y="543.23" width="10.77" height="5.77" fill="#6e2878"/><rect x="272.00" y="548.70" width="10.77" height="5.77" fill="#9a9a3a"/><rect x="282.47" y="548.70" width="10.77" height="5.77" fill="#d2d232"/><rect x="292.93" y="548.70" width="10.77" height="5.77" fill="#46174f"/><rect x="303.40" y="548.70" width="10.77" height="5.77" fill="#321838"/><rect x="313.87" y="548.70" width="10.77" height="5.77" fill="#46174f"/><rect x="324.33" y="548.70" width="10.77" height="5.77" fill="#321838"/><rect x="272.00" y="554.17" width="10.77" height="5.77" fill="#d2d232"/><rect x="282.47" y="554.17" width="10.77" height="5.77" fill="#0e0c0e"/><rect x="292.93" y="554.17" width="10.77" height="5.77" fill="#a834ac"/><rect x="303.40" y="554.17" width="10.77" height="5.77" fill="#8a2e92"/><rect x="313.87" y="554.17" width="10.77" height="5.77" fill="#0e0c0e"/><rect x="324.33" y="554.17" width="10.77" height="5.77" fill="#30301a"/><rect x="272.00" y="559.63" width="10.77" height="5.77" fill="#b4b43a"/><rect x="282.47" y="559.63" width="10.77" height="5.77" fill="#9a9a3a"/><rect x="292.93" y="559.63" width="10.77" height="5.77" fill="#46174f"/><rect x="303.40" y="559.63" width="10.77" height="5.77" fill="#46174f"/><rect x="313.87" y="559.63" width="10.77" height="5.77" fill="#46174f"/><rect x="324.33" y="559.63" width="10.77" height="5.77" fill="#46174f"/><rect x="272.00" y="565.10" width="10.77" height="5.77" fill="#30301a"/><rect x="282.47" y="565.10" width="10.77" height="5.77" fill="#ecec22"/><rect x="292.93" y="565.10" width="10.77" height="5.77" fill="#46174f"/><rect x="303.40" y="565.10" width="10.77" height="5.77" fill="#46174f"/><rect x="313.87" y="565.10" width="10.77" height="5.77" fill="#46174f"/><rect x="324.33" y="565.10" width="10.77" height="5.77" fill="#46174f"/><rect x="272.00" y="570.57" width="10.77" height="5.77" fill="#6e2878"/><rect x="282.47" y="570.57" width="10.77" height="5.77" fill="#6e2878"/><rect x="292.93" y="570.57" width="10.77" height="5.77" fill="#7a7a36"/><rect x="303.40" y="570.57" width="10.77" height="5.77" fill="#b4b43a"/><rect x="313.87" y="570.57" width="10.77" height="5.77" fill="#231426"/><rect x="324.33" y="570.57" width="10.77" height="5.77" fill="#0e0c0e"/><rect x="272.00" y="576.03" width="10.77" height="5.77" fill="#5a1f6a"/><rect x="282.47" y="576.03" width="10.77" height="5.77" fill="#8a2e92"/><rect x="292.93" y="576.03" width="10.77" height="5.77" fill="#9a9a3a"/><rect x="303.40" y="576.03" width="10.77" height="5.77" fill="#9a9a3a"/><rect x="313.87" y="576.03" width="10.77" height="5.77" fill="#30301a"/><rect x="324.33" y="576.03" width="10.77" height="5.77" fill="#231426"/><rect x="272.00" y="581.50" width="10.77" height="5.77" fill="#5a1f6a"/><rect x="282.47" y="581.50" width="10.77" height="5.77" fill="#5a1f6a"/><rect x="292.93" y="581.50" width="10.77" height="5.77" fill="#d2d232"/><rect x="303.40" y="581.50" width="10.77" height="5.77" fill="#7a7a36"/><rect x="313.87" y="581.50" width="10.77" height="5.77" fill="#0e0c0e"/><rect x="324.33" y="581.50" width="10.77" height="5.77" fill="#8a2e92"/><rect x="272.00" y="586.97" width="10.77" height="5.77" fill="#6e2878"/><rect x="282.47" y="586.97" width="10.77" height="5.77" fill="#321838"/><rect x="292.93" y="586.97" width="10.77" height="5.77" fill="#9a9a3a"/><rect x="303.40" y="586.97" width="10.77" height="5.77" fill="#d2d232"/><rect x="313.87" y="586.97" width="10.77" height="5.77" fill="#231426"/><rect x="324.33" y="586.97" width="10.77" height="5.77" fill="#231426"/><rect x="272.00" y="592.43" width="10.77" height="5.77" fill="#a834ac"/><rect x="282.47" y="592.43" width="10.77" height="5.77" fill="#a834ac"/><rect x="292.93" y="592.43" width="10.77" height="5.77" fill="#b4b43a"/><rect x="303.40" y="592.43" width="10.77" height="5.77" fill="#7a7a36"/><rect x="313.87" y="592.43" width="10.77" height="5.77" fill="#0e0c0e"/><rect x="324.33" y="592.43" width="10.77" height="5.77" fill="#30301a"/><rect x="272.00" y="597.90" width="10.77" height="5.77" fill="#231426"/><rect x="282.47" y="597.90" width="10.77" height="5.77" fill="#321838"/><rect x="292.93" y="597.90" width="10.77" height="5.77" fill="#b4b43a"/><rect x="303.40" y="597.90" width="10.77" height="5.77" fill="#b4b43a"/><rect x="313.87" y="597.90" width="10.77" height="5.77" fill="#6e2878"/><rect x="324.33" y="597.90" width="10.77" height="5.77" fill="#6e2878"/><rect x="272.00" y="603.37" width="10.77" height="5.77" fill="#231426"/><rect x="282.47" y="603.37" width="10.77" height="5.77" fill="#5a1f6a"/><rect x="292.93" y="603.37" width="10.77" height="5.77" fill="#9a9a3a"/><rect x="303.40" y="603.37" width="10.77" height="5.77" fill="#b4b43a"/><rect x="313.87" y="603.37" width="10.77" height="5.77" fill="#5a1f6a"/><rect x="324.33" y="603.37" width="10.77" height="5.77" fill="#231426"/><rect x="272.00" y="608.83" width="10.77" height="5.77" fill="#5a1f6a"/><rect x="282.47" y="608.83" width="10.77" height="5.77" fill="#5a1f6a"/><rect x="292.93" y="608.83" width="10.77" height="5.77" fill="#7a7a36"/><rect x="303.40" y="608.83" width="10.77" height="5.77" fill="#d2d232"/><rect x="313.87" y="608.83" width="10.77" height="5.77" fill="#231426"/><rect x="324.33" y="608.83" width="10.77" height="5.77" fill="#231426"/><rect x="272.00" y="614.30" width="10.77" height="5.77" fill="#0e0c0e"/><rect x="282.47" y="614.30" width="10.77" height="5.77" fill="#5a1f6a"/><rect x="292.93" y="614.30" width="10.77" height="5.77" fill="#ecec22"/><rect x="303.40" y="614.30" width="10.77" height="5.77" fill="#30301a"/><rect x="313.87" y="614.30" width="10.77" height="5.77" fill="#6e2878"/><rect x="324.33" y="614.30" width="10.77" height="5.77" fill="#231426"/><rect x="272.00" y="619.77" width="10.77" height="5.77" fill="#231426"/><rect x="282.47" y="619.77" width="10.77" height="5.77" fill="#a834ac"/><rect x="292.93" y="619.77" width="10.77" height="5.77" fill="#9a9a3a"/><rect x="303.40" y="619.77" width="10.77" height="5.77" fill="#30301a"/><rect x="313.87" y="619.77" width="10.77" height="5.77" fill="#9a9a3a"/><rect x="324.33" y="619.77" width="10.77" height="5.77" fill="#6e2878"/><rect x="272.00" y="625.23" width="10.77" height="5.77" fill="#46174f"/><rect x="282.47" y="625.23" width="10.77" height="5.77" fill="#46174f"/><rect x="292.93" y="625.23" width="10.77" height="5.77" fill="#46174f"/><rect x="303.40" y="625.23" width="10.77" height="5.77" fill="#46174f"/><rect x="313.87" y="625.23" width="10.77" height="5.77" fill="#9a9a3a"/><rect x="324.33" y="625.23" width="10.77" height="5.77" fill="#b4b43a"/><rect x="272.00" y="630.70" width="10.77" height="5.77" fill="#46174f"/><rect x="282.47" y="630.70" width="10.77" height="5.77" fill="#46174f"/><rect x="292.93" y="630.70" width="10.77" height="5.77" fill="#46174f"/><rect x="303.40" y="630.70" width="10.77" height="5.77" fill="#46174f"/><rect x="313.87" y="630.70" width="10.77" height="5.77" fill="#9a9a3a"/><rect x="324.33" y="630.70" width="10.77" height="5.77" fill="#b4b43a"/><rect x="272.00" y="636.17" width="10.77" height="5.77" fill="#321838"/><rect x="282.47" y="636.17" width="10.77" height="5.77" fill="#321838"/><rect x="292.93" y="636.17" width="10.77" height="5.77" fill="#321838"/><rect x="303.40" y="636.17" width="10.77" height="5.77" fill="#321838"/><rect x="313.87" y="636.17" width="10.77" height="5.77" fill="#ecec22"/><rect x="324.33" y="636.17" width="10.77" height="5.77" fill="#5e5e2c"/><rect x="272.00" y="641.63" width="10.77" height="5.77" fill="#6e2878"/><rect x="282.47" y="641.63" width="10.77" height="5.77" fill="#6e2878"/><rect x="292.93" y="641.63" width="10.77" height="5.77" fill="#0e0c0e"/><rect x="303.40" y="641.63" width="10.77" height="5.77" fill="#231426"/><rect x="313.87" y="641.63" width="10.77" height="5.77" fill="#9a9a3a"/><rect x="324.33" y="641.63" width="10.77" height="5.77" fill="#d2d232"/><rect x="272.00" y="647.10" width="10.77" height="5.77" fill="#46174f"/><rect x="282.47" y="647.10" width="10.77" height="5.77" fill="#321838"/><rect x="292.93" y="647.10" width="10.77" height="5.77" fill="#46174f"/><rect x="303.40" y="647.10" width="10.77" height="5.77" fill="#46174f"/><rect x="313.87" y="647.10" width="10.77" height="5.77" fill="#9a9a3a"/><rect x="324.33" y="647.10" width="10.77" height="5.77" fill="#d2d232"/><rect x="272.00" y="652.57" width="10.77" height="5.77" fill="#5a1f6a"/><rect x="282.47" y="652.57" width="10.77" height="5.77" fill="#6e2878"/><rect x="292.93" y="652.57" width="10.77" height="5.77" fill="#231426"/><rect x="303.40" y="652.57" width="10.77" height="5.77" fill="#231426"/><rect x="313.87" y="652.57" width="10.77" height="5.77" fill="#b4b43a"/><rect x="324.33" y="652.57" width="10.77" height="5.77" fill="#b4b43a"/><rect x="272.00" y="658.03" width="10.77" height="5.77" fill="#5a1f6a"/><rect x="282.47" y="658.03" width="10.77" height="5.77" fill="#5a1f6a"/><rect x="292.93" y="658.03" width="10.77" height="5.77" fill="#321838"/><rect x="303.40" y="658.03" width="10.77" height="5.77" fill="#46174f"/><rect x="313.87" y="658.03" width="10.77" height="5.77" fill="#d2d232"/><rect x="324.33" y="658.03" width="10.77" height="5.77" fill="#9a9a3a"/><rect x="272.00" y="663.50" width="10.77" height="5.77" fill="#6e2878"/><rect x="282.47" y="663.50" width="10.77" height="5.77" fill="#6e2878"/><rect x="292.93" y="663.50" width="10.77" height="5.77" fill="#321838"/><rect x="303.40" y="663.50" width="10.77" height="5.77" fill="#0e0c0e"/><rect x="313.87" y="663.50" width="10.77" height="5.77" fill="#b4b43a"/><rect x="324.33" y="663.50" width="10.77" height="5.77" fill="#b4b43a"/><rect x="272.00" y="668.97" width="10.77" height="5.77" fill="#321838"/><rect x="282.47" y="668.97" width="10.77" height="5.77" fill="#5a1f6a"/><rect x="292.93" y="668.97" width="10.77" height="5.77" fill="#46174f"/><rect x="303.40" y="668.97" width="10.77" height="5.77" fill="#46174f"/><rect x="313.87" y="668.97" width="10.77" height="5.77" fill="#b4b43a"/><rect x="324.33" y="668.97" width="10.77" height="5.77" fill="#b4b43a"/><rect x="272.00" y="674.43" width="10.77" height="5.77" fill="#6e2878"/><rect x="282.47" y="674.43" width="10.77" height="5.77" fill="#6e2878"/><rect x="292.93" y="674.43" width="10.77" height="5.77" fill="#0e0c0e"/><rect x="303.40" y="674.43" width="10.77" height="5.77" fill="#231426"/><rect x="313.87" y="674.43" width="10.77" height="5.77" fill="#7a7a36"/><rect x="324.33" y="674.43" width="10.77" height="5.77" fill="#d2d232"/></g>
<rect x="272.3" y="684.6" width="21.1" height="6.2" fill="#1f5b98"/>
<rect x="293.4" y="684.6" width="21.0" height="6.2" fill="#c8203a"/>
<rect x="314.4" y="684.6" width="21.0" height="6.2" fill="#3cb44a"/>
<text x="0" y="0" font-size="8.4" transform="translate(272.0,716.0) rotate(-45)" fill="#1c5a96" textLength="22.5" lengthAdjust="spacingAndGlyphs">iNKT1</text>
<text x="0" y="0" font-size="8.4" transform="translate(294.2,716.0) rotate(-45)" fill="#c61e3a" textLength="22.5" lengthAdjust="spacingAndGlyphs">iNKT2</text>
<text x="0" y="0" font-size="8.4" transform="translate(313.0,715.0) rotate(-45)" fill="#30a83e" textLength="27.5" lengthAdjust="spacingAndGlyphs">iNKT17</text>
<text x="338.30" y="520.30" font-size="5.8" text-anchor="start" fill="#1c5a96" font-style="italic" textLength="14.03" lengthAdjust="spacingAndGlyphs" stroke="#1c5a96" stroke-width="0.05">Nkg7</text>
<text x="338.30" y="525.84" font-size="5.8" text-anchor="start" fill="#1c5a96" font-style="italic" textLength="13.43" lengthAdjust="spacingAndGlyphs" stroke="#1c5a96" stroke-width="0.05">Cd7</text>
<text x="338.30" y="531.38" font-size="5.8" text-anchor="start" fill="#1c5a96" font-style="italic" textLength="17.85" lengthAdjust="spacingAndGlyphs" stroke="#1c5a96" stroke-width="0.05">Fcer1g</text>
<text x="338.30" y="536.92" font-size="5.8" text-anchor="start" fill="#1c5a96" font-style="italic" textLength="10.62" lengthAdjust="spacingAndGlyphs" stroke="#1c5a96" stroke-width="0.05">Xcl1</text>
<text x="338.30" y="542.46" font-size="5.8" text-anchor="start" fill="#1c5a96" font-style="italic" textLength="14.45" lengthAdjust="spacingAndGlyphs" stroke="#1c5a96" stroke-width="0.05">Ly6c2</text>
<text x="338.30" y="548.00" font-size="5.8" text-anchor="start" fill="#1c5a96" font-style="italic" textLength="13.43" lengthAdjust="spacingAndGlyphs" stroke="#1c5a96" stroke-width="0.05">Crip1</text>
<text x="338.30" y="553.54" font-size="5.8" text-anchor="start" fill="#1c5a96" font-style="italic" textLength="12.07" lengthAdjust="spacingAndGlyphs" stroke="#1c5a96" stroke-width="0.05">Rgs1</text>
<text x="338.30" y="559.08" font-size="5.8" text-anchor="start" fill="#1c5a96" font-style="italic" textLength="18.61" lengthAdjust="spacingAndGlyphs" stroke="#1c5a96" stroke-width="0.05">S100a6</text>
<text x="338.30" y="564.62" font-size="5.8" text-anchor="start" fill="#1c5a96" font-style="italic" textLength="14.62" lengthAdjust="spacingAndGlyphs" stroke="#1c5a96" stroke-width="0.05">Gzma</text>
<text x="338.30" y="570.16" font-size="5.8" text-anchor="start" fill="#1c5a96" font-style="italic" textLength="10.96" lengthAdjust="spacingAndGlyphs" stroke="#1c5a96" stroke-width="0.05">Ccl5</text>
<text x="338.30" y="575.70" font-size="5.8" text-anchor="start" fill="#c61e3a" font-style="italic" textLength="6.04" lengthAdjust="spacingAndGlyphs" stroke="#c61e3a" stroke-width="0.05">Il4</text>
<text x="338.30" y="581.24" font-size="5.8" text-anchor="start" fill="#c61e3a" font-style="italic" textLength="16.91" lengthAdjust="spacingAndGlyphs" stroke="#c61e3a" stroke-width="0.05">Phgdh</text>
<text x="338.30" y="586.78" font-size="5.8" text-anchor="start" fill="#c61e3a" font-style="italic" textLength="18.96" lengthAdjust="spacingAndGlyphs" stroke="#c61e3a" stroke-width="0.05">Npepl1</text>
<text x="338.30" y="592.32" font-size="5.8" text-anchor="start" fill="#c61e3a" font-style="italic" textLength="9.44" lengthAdjust="spacingAndGlyphs" stroke="#c61e3a" stroke-width="0.05">Lbh</text>
<text x="338.30" y="597.86" font-size="5.8" text-anchor="start" fill="#c61e3a" font-style="italic" textLength="22.86" lengthAdjust="spacingAndGlyphs" stroke="#c61e3a" stroke-width="0.05">Smpdl3a</text>
<text x="338.30" y="603.40" font-size="5.8" text-anchor="start" fill="#c61e3a" font-style="italic" textLength="10.62" lengthAdjust="spacingAndGlyphs" stroke="#c61e3a" stroke-width="0.05">Cd4</text>
<text x="338.30" y="608.94" font-size="5.8" text-anchor="start" fill="#c61e3a" font-style="italic" textLength="20.91" lengthAdjust="spacingAndGlyphs" stroke="#c61e3a" stroke-width="0.05">Izumo1r</text>
<text x="338.30" y="614.48" font-size="5.8" text-anchor="start" fill="#c61e3a" font-style="italic" textLength="11.39" lengthAdjust="spacingAndGlyphs" stroke="#c61e3a" stroke-width="0.05">Il6ra</text>
<text x="338.30" y="620.02" font-size="5.8" text-anchor="start" fill="#c61e3a" font-style="italic" textLength="14.03" lengthAdjust="spacingAndGlyphs" stroke="#c61e3a" stroke-width="0.05">Zfos1</text>
<text x="338.30" y="625.56" font-size="5.8" text-anchor="start" fill="#c61e3a" font-style="italic" textLength="40.40" lengthAdjust="spacingAndGlyphs" stroke="#c61e3a" stroke-width="0.05">1700097N02Rik</text>
<text x="338.30" y="631.10" font-size="5.8" text-anchor="start" fill="#30a83e" font-style="italic" textLength="15.04" lengthAdjust="spacingAndGlyphs" stroke="#30a83e" stroke-width="0.05">Pxdc1</text>
<text x="338.30" y="636.64" font-size="5.8" text-anchor="start" fill="#30a83e" font-style="italic" textLength="11.81" lengthAdjust="spacingAndGlyphs" stroke="#30a83e" stroke-width="0.05">Sdc1</text>
<text x="338.30" y="642.18" font-size="5.8" text-anchor="start" fill="#30a83e" font-style="italic" textLength="7.82" lengthAdjust="spacingAndGlyphs" stroke="#30a83e" stroke-width="0.05">Bik</text>
<text x="338.30" y="647.72" font-size="5.8" text-anchor="start" fill="#30a83e" font-style="italic" textLength="11.56" lengthAdjust="spacingAndGlyphs" stroke="#30a83e" stroke-width="0.05">Emb</text>
<text x="338.30" y="653.26" font-size="5.8" text-anchor="start" fill="#30a83e" font-style="italic" textLength="28.56" lengthAdjust="spacingAndGlyphs" stroke="#30a83e" stroke-width="0.05">Tmem176b</text>
<text x="338.30" y="658.80" font-size="5.8" text-anchor="start" fill="#30a83e" font-style="italic" textLength="15.98" lengthAdjust="spacingAndGlyphs" stroke="#30a83e" stroke-width="0.05">Lgals3</text>
<text x="338.30" y="664.34" font-size="5.8" text-anchor="start" fill="#30a83e" font-style="italic" textLength="38.90" lengthAdjust="spacingAndGlyphs" stroke="#30a83e" stroke-width="0.05">5830411N06Rik</text>
<text x="338.30" y="669.88" font-size="5.8" text-anchor="start" fill="#30a83e" font-style="italic" textLength="15.64" lengthAdjust="spacingAndGlyphs" stroke="#30a83e" stroke-width="0.05">Pdcd1</text>
<text x="338.30" y="675.42" font-size="5.8" text-anchor="start" fill="#30a83e" font-style="italic" textLength="28.22" lengthAdjust="spacingAndGlyphs" stroke="#30a83e" stroke-width="0.05">Tmem176a</text>
<text x="338.30" y="680.96" font-size="5.8" text-anchor="start" fill="#30a83e" font-style="italic" textLength="13.86" lengthAdjust="spacingAndGlyphs" stroke="#30a83e" stroke-width="0.05">Lmo4</text>
<text x="373.80" y="499.20" font-size="10.2" text-anchor="start" fill="#000" textLength="43.60" lengthAdjust="spacingAndGlyphs" stroke="#000" stroke-width="0.16">Expression</text>
<text x="378.50" y="509.80" font-size="10.2" text-anchor="start" fill="#000" textLength="33.80" lengthAdjust="spacingAndGlyphs" stroke="#000" stroke-width="0.16">(z-score)</text>
<defs><linearGradient id="gF" x1="0" y1="0" x2="0" y2="1"><stop offset="0.000" stop-color="#f0e818"/><stop offset="0.097" stop-color="#c4c028"/><stop offset="0.235" stop-color="#7c7c30"/><stop offset="0.373" stop-color="#3c3c1c"/><stop offset="0.511" stop-color="#040404"/><stop offset="0.649" stop-color="#3c104a"/><stop offset="0.787" stop-color="#8a2896"/><stop offset="0.925" stop-color="#ba46b4"/><stop offset="1.000" stop-color="#c856be"/></linearGradient></defs>
<rect x="390.0" y="515.7" width="7.2" height="102.8" fill="url(#gF)"/>
<text x="399.30" y="528.70" font-size="9.2" text-anchor="start" fill="#000" stroke="#000" stroke-width="0.16">1.5</text>
<text x="399.30" y="542.50" font-size="9.2" text-anchor="start" fill="#000" stroke="#000" stroke-width="0.16">1</text>
<text x="399.30" y="556.70" font-size="9.2" text-anchor="start" fill="#000" stroke="#000" stroke-width="0.16">0.5</text>
<text x="399.30" y="571.00" font-size="9.2" text-anchor="start" fill="#000" stroke="#000" stroke-width="0.16">0</text>
<text x="399.30" y="585.10" font-size="9.2" text-anchor="start" fill="#000" stroke="#000" stroke-width="0.16">-0.5</text>
<text x="399.30" y="599.00" font-size="9.2" text-anchor="start" fill="#000" stroke="#000" stroke-width="0.16">-1</text>
<text x="399.30" y="613.30" font-size="9.2" text-anchor="start" fill="#000" stroke="#000" stroke-width="0.16">-1.5</text>
</svg>
</body></html>
